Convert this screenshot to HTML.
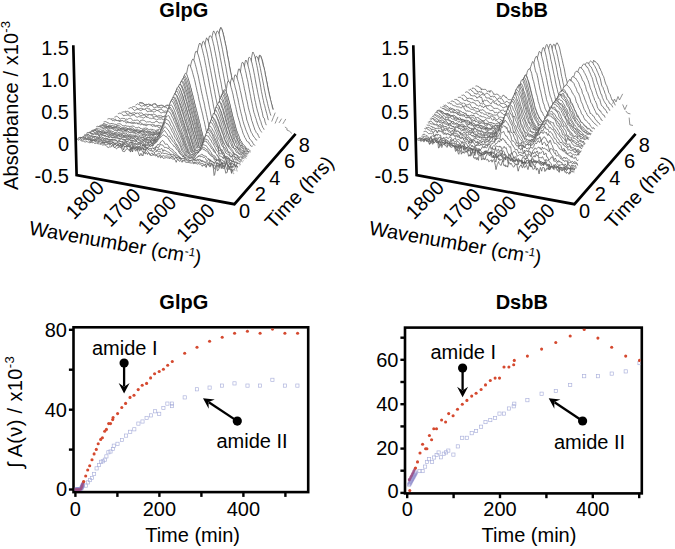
<!DOCTYPE html>
<html><head><meta charset="utf-8"><style>html,body{margin:0;padding:0;background:#fff;overflow:hidden}svg{display:block}text{font-family:"Liberation Sans",sans-serif;fill:#000}</style></head>
<body><svg width="675" height="549" viewBox="0 0 675 549">
<rect width="675" height="549" fill="#fff"/>
<g fill="#fff" stroke="#505050" stroke-width="0.72" stroke-linejoin="round"><path d="M139,102.8l.7,0 .6-.3 .7,.1 .6,0 .7,.1 .6,.3 .7,.6 .6,1.1 .7,.1 .6,.1 .7-.3 .7-.6 .6,.7 .7-.7 .6,.5 .7-.2 .6,.3 .7,.2 .6,.5 .7-.8 .6-.1 .7-.2 .7-.2 .6-.2 .7-.3 .6,1.2 .7,.1 .6,.7 .7,.8 .6-.7 .7,0 .6-.2 .7,.3 .7-.4 .6-.1 .7,.2 .6,.2 .7,.6 .6,.5 .7-.4 .6-.5 .7-.7 .6,.3 .7-.5 .6,0 .7,.9 .7-.2 .6,.3 .7,.7 .6-.4 .7-.3 .6,.4 .7,0 .6-.4 .7,.5 .6,.1 .7,.1 .7,1.3 .6,.3 .7-.9 .6-.6 .7-.3 .6-.2 .7-.7 .6,.6 .7,.4 .6-.4 .7,1.3 .7,.2 .6-.8 .7,.3 .6-.4 .7-.4 .6,.4 .7,.3 .6,.3 .7,.6 .6-.7 .7,1.3 .7,0 .6-1.2 .7-.8 .6-.7 .7,.6 .6-.6 .7,.4 .6,0 .7,.2 .6,.2 .7-.3 .7,.1 .6-.4 .7-.1 .6-.2 .7-1 .6,.7 .7-.4 .6,.5 .7-.7 .6-1.6 .7-1 .7-1.4 .6-2 .7-2.1 .6-1.6 .7-1.9 .6-2.5 .7-1.5 .6-1.8 .7-2.2 .6-3.6 .7-3.3 .7-3.4 .6-4.3 .7-4.5 .6-3.8 .7-4.5 .6-4.2 .7-5.5 .6-4.3 .7-5.1 .6-4.7 .7-3.3 .7-2.1 .6-1.4 .7,.9 .6,1.9 .7,2.2 .6,2.1 .7,2.9 .6,3.2 .7,3 .6,3.3 .7,3 .6,4.1 .7,3.9 .7,3.4 .6,3.8 .7,3.3 .6,3.2 .7,3.8 .6,3.3 .7,3.6 .6,3.3 .7,4.1 .6,3.5 .7,3.3 .7,3.4 .6,3.9 .7,3.9 .6,2.7 .7,3.8 .6,3.9 .7,3.8 .6,2.2 .7-.3 .6,.6 .7,.3 .7-.2 .6,.6 .7-.3 .6,.1 .7,.1 .6-.3 .7,.7 .6,0 .7,.2 .6,.7 .7-.5 .7,.1 .6,.2 .7-4.6 .6-5.8 .7-6.4 .6-6 .7-5.5 .6-6.2 .7-5.4 .6-5.8 .7-5.7 .7-5.7 .6-5.1 .7-4.7 .6-3.7 .7-.1 .6,.5 .7,1.8 .6,2.1 .7,2 .6,3.3 .7,2.7 .7,3.4 .6,3.1 .7,3.4 .6,3.4 .7,3.1 .6,3.3 .7,3.2 .6,3 .7,2.8 .6,3.5 .7,3 .7,2.1 .6,2 .7,2.2v40H139Z" stroke-dasharray="400.0 999"/><path d="M139,103.5l.7-.4 .6-.1 .7,.1 .6,.2 .7,0 .6,.4 .7-.3 .6,1.3 .7,.4 .6-.2 .7-.4 .7,.3 .6-.3 .7-.5 .6,.4 .7,.3 .6,.1 .7,.4 .6,.2 .7,.5 .6-1.3 .7-.4 .7-.3 .6,.2 .7,.3 .6,.2 .7,.9 .6,.8 .7,.1 .6-.4 .7-.1 .6,.1 .7-.9 .7,.4 .6-.2 .7,.5 .6,.4 .7,.3 .6,.4 .7-.3 .6-.8 .7,.2 .6-.6 .7,.2 .6,0 .7,.4 .7,.4 .6,.4 .7,.2 .6-.1 .7,.3 .6-.3 .7,.2 .6-.9 .7,1.1 .6-.6 .7,.5 .7,.6 .6,1 .7-.2 .6-.7 .7-1.3 .6,.2 .7-.1 .6-.5 .7,.1 .6,1.2 .7-.2 .7,.2 .6,.3 .7-.8 .6-.1 .7-.2 .6,.7 .7-.2 .6,.5 .7-.1 .6,.8 .7,0 .7-.2 .6-1 .7,.1 .6,.4 .7-.9 .6-.6 .7,.4 .6,.2 .7,.7 .6,.4 .7-.9 .7-.5 .6,0 .7-.2 .6-.4 .7-.4 .6,0 .7,.3 .6,.1 .7-1.1 .6-.9 .7-1.6 .7-1.9 .6-1 .7-1.8 .6-1.8 .7-1.8 .6-2.1 .7-1.6 .6-1.9 .7-3.4 .6-3.3 .7-3.2 .7-3.6 .6-3.7 .7-4.6 .6-3.9 .7-4.4 .6-4.4 .7-4.7 .6-5.3 .7-4.7 .6-4.5 .7-3.3 .7-2.4 .6-.9 .7,.7 .6,1.1 .7,2.4 .6,2.5 .7,3 .6,2.8 .7,3.2 .6,2.7 .7,3.9 .6,4 .7,3.6 .7,2.9 .6,4.4 .7,3.8 .6,3.4 .7,2.6 .6,3.5 .7,3.7 .6,3.5 .7,4.2 .6,3.1 .7,3.5 .7,3.7 .6,3.6 .7,3.7 .6,3.4 .7,3.9 .6,3.2 .7,4 .6,2 .7-.1 .6,.8 .7,0 .7,.2 .6,.1 .7,.6 .6-1.5 .7,1.2 .6,.4 .7,0 .6,.4 .7-.3 .6,.3 .7,.3 .7-.4 .6-.1 .7-4.5 .6-5.8 .7-5.9 .6-6 .7-6.2 .6-5.5 .7-5.3 .6-5.8 .7-5.9 .7-5.3 .6-6 .7-4.1 .6-3.7 .7-.3 .6,.7 .7,1.7 .6,1.8 .7,3.1 .6,2.7 .7,2.1 .7,2.8 .6,3.9 .7,3.3 .6,3.2 .7,3.5 .6,3.4 .7,3.5 .6,2.6 .7,3.2 .6,2.3 .7,2.7 .7,2.8 .6,3 .7,1.8v40H139Z" stroke-dasharray="398.7 999"/><path d="M135.5,105.1l.6-.2 .7-.6 .7-.5 .6,.5 .7,.1 .6,.2 .7,.4 .6,.9 .7,.3 .6,.1 .7-.3 .6-.6 .7,.2 .6,.5 .7-.6 .7,.2 .6,.1 .7,.8 .6,.4 .7-.5 .6-.7 .7-.4 .6,0 .7,.1 .6-.1 .7,.9 .7,.6 .6,.1 .7,1.2 .6-.7 .7-.3 .6-.1 .7-.2 .6,.3 .7,.3 .6-.1 .7-.1 .6,.1 .7,.8 .7-.4 .6-.4 .7,0 .6-.7 .7,.3 .6,.1 .7-.1 .6,.7 .7,.1 .6,.9 .7,.3 .6-.6 .7-.4 .7,.4 .6-.9 .7,.9 .6,.3 .7,.8 .6-.3 .7,.4 .6,.2 .7-1.1 .6-.8 .7,0 .7,.6 .6-.2 .7,.1 .6-.2 .7,.9 .6,.6 .7,.2 .6-.5 .7-.6 .6-.1 .7,.5 .6,.4 .7-.1 .7,.6 .6,.5 .7,.3 .6-1.1 .7-.8 .6,.1 .7-.7 .6,.3 .7,.1 .6,0 .7-.6 .7,1.4 .6-.2 .7-.7 .6-.6 .7-.6 .6,.6 .7,.1 .6,.1 .7-.2 .6-.7 .7,.2 .6-.3 .7-.4 .7-2.1 .6-1 .7-2.3 .6-1.5 .7-1.6 .6-1.7 .7-2 .6-2.6 .7-2.1 .6-2.5 .7-2.9 .6-3.7 .7-3.5 .7-3.7 .6-4.3 .7-4 .6-4.5 .7-4 .6-5.1 .7-4.9 .6-4.3 .7-5.5 .6-2.8 .7-2.4 .7-1 .6,.4 .7,1.5 .6,1.6 .7,2.7 .6,2.9 .7,3 .6,3.1 .7,3.5 .6,3.4 .7,3.3 .6,3.3 .7,3.9 .7,3.1 .6,3.6 .7,4.1 .6,3.5 .7,3.1 .6,3.9 .7,2.6 .6,3.8 .7,4 .6,3.6 .7,3.5 .6,3.5 .7,3.2 .7,3.8 .6,3.7 .7,3.8 .6,3.2 .7,2.5 .6,.6 .7-.3 .6,.8 .7,.1 .6,.1 .7,.1 .7,.2 .6-.1 .7,.2 .6,.1 .7,.3 .6-.4 .7,.9 .6,.4 .7-.7 .6,.4 .7-4.8 .6-5.9 .7-6.1 .7-5.5 .6-6.3 .7-6.5 .6-5.2 .7-5.7 .6-5.9 .7-6.2 .6-5.2 .7-5.4 .6-3.3 .7-.3 .7,.4 .6,1.3 .7,2.3 .6,2.4 .7,2.9 .6,2.8 .7,3.8 .6,2.9 .7,3.7 .6,3 .7,3.5 .6,3.5 .7,3.2 .7,3.6 .6,2.8 .7,2.5 .6,2.6 .7,3.1 .6,2.1 .7,2.7 .6,2 .7,2.1v40H135.5Z" stroke-dasharray="404.1 999"/><path d="M132,107.1l.6-.2 .7-.3 .6,.1 .7,0 .6,0 .7,.7 .7,.4 .6,.4 .7,1 .6-.3 .7-.1 .6-.4 .7,0 .6,0 .7-.1 .6,.5 .7-.2 .6,.6 .7,.7 .7-1 .6-.5 .7-.2 .6-.1 .7,.3 .6,.4 .7,.2 .6-.3 .7,1.3 .6,.7 .7-.4 .6,0 .7-.8 .7,0 .6-.1 .7,0 .6,0 .7,.9 .6,.6 .7-.1 .6-.7 .7-.2 .6-.3 .7,.2 .6-.9 .7,.5 .7,.7 .6,.2 .7,.5 .6,.6 .7-.1 .6-.3 .7,.1 .6,.1 .7-.3 .6,.3 .7,.3 .6-.1 .7,.4 .7,.2 .6-.4 .7,.2 .6-.3 .7-1.3 .6,.5 .7-.3 .6-.1 .7,.9 .6,.3 .7,.5 .6,0 .7-.2 .7-.3 .6,.2 .7,1 .6-1 .7,.5 .6,.7 .7-.2 .6,.5 .7-.5 .6-.7 .7-.6 .6-.3 .7,.3 .6-.5 .7,.7 .7-.1 .6-.1 .7,.5 .6-.3 .7-.3 .6,.6 .7-1.1 .6-1 .7,.2 .6,.2 .7-.3 .6,0 .7-.1 .7-1.1 .6-1.1 .7-1.9 .6-1.2 .7-1.6 .6-1.9 .7-2 .6-2.2 .7-2 .6-2 .7-3 .6-2.7 .7-3.8 .7-3.8 .6-3.3 .7-4.5 .6-4.2 .7-4 .6-5 .7-5 .6-5.8 .7-4.9 .6-4.4 .7-3.1 .6-3 .7-1.4 .7,1.4 .6,1.1 .7,1.7 .6,2.9 .7,2.7 .6,3 .7,3.3 .6,3.4 .7,2.7 .6,4.3 .7,3.5 .6,3.3 .7,3.8 .7,3.8 .6,3.3 .7,3.5 .6,3.5 .7,3.9 .6,3.3 .7,3.2 .6,4 .7,3.7 .6,4 .7,3.3 .6,3.7 .7,3.5 .7,3.8 .6,3 .7,3.9 .6,2.7 .7,.6 .6,0 .7,0 .6,.5 .7,0 .6,0 .7,.2 .6-.2 .7,.3 .6,.6 .7-.2 .7,.2 .6,.2 .7,0 .6,0 .7,.5 .6-3.9 .7-6.4 .6-6.7 .7-6.6 .6-6.5 .7-6.3 .6-6.5 .7-6.5 .7-5.8 .6-6.8 .7-5.8 .6-5.5 .7-3.7 .6-1.8 .7,1.4 .6,1.1 .7,2.3 .6,2.6 .7,3.1 .6,2.9 .7,3.4 .7,4 .6,3.4 .7,4 .6,3 .7,4.4 .6,3.8 .7,3 .6,3.4 .7,2.7 .6,3.3 .7,1.9 .6,2.6 .7,2.7 .7,2.3 .6,2.4 .7,3.4 .6,1.1v40H132Z" stroke-dasharray="420.9 999"/><path d="M128.5,108.4l.6-.2 .7-.1 .6-.5 .7,.2 .6,0 .7,.6 .6,.5 .7,1 .7,.6 .6,0 .7-.6 .6-.2 .7-.5 .6,0 .7,.2 .6,.4 .7,.2 .6,.3 .7,.4 .6-.5 .7-.3 .6-.9 .7,.4 .7,.2 .6-.5 .7,.5 .6,.7 .7,.4 .6,1.1 .7,.1 .6-.7 .7,0 .6,.2 .7,0 .6,.1 .7-.3 .6,0 .7,.7 .7,.5 .6-.7 .7-.1 .6-.9 .7-.4 .6,.2 .7,0 .6,.7 .7,0 .6,.6 .7,1 .6,.3 .7-.4 .6-.2 .7-.3 .7,0 .6,.6 .7-.1 .6,0 .7,.1 .6,1.3 .7-.7 .6-.4 .7-.6 .6-.5 .7,.1 .6-.2 .7,.1 .6,.2 .7,.5 .7,.4 .6,.3 .7-.2 .6,.5 .7-.5 .6,.1 .7,1.3 .6-.7 .7,.6 .6-.2 .7,.6 .6-.7 .7-.5 .7-.2 .6-.6 .7,.3 .6-.2 .7,.3 .6-.3 .7-.1 .6-.1 .7,.9 .6-.4 .7,0 .6-1.3 .7,.2 .6,.5 .7-.8 .7-.1 .6,.8 .7-.7 .6-.8 .7-1.5 .6-1.8 .7-1.2 .6-2.6 .7-1.6 .6-1.3 .7-2.2 .6-2 .7-1.2 .6-3.1 .7-3.1 .7-3.7 .6-3.9 .7-3.4 .6-4.4 .7-3.5 .6-4.4 .7-4.3 .6-4.5 .7-5.1 .6-5 .7-4.6 .6-4.2 .7-2.4 .6-.5 .7,.6 .7,1 .6,1.5 .7,2.5 .6,2.7 .7,2.6 .6,3.8 .7,3 .6,3.4 .7,3.3 .6,3.6 .7,3.9 .6,3.3 .7,3.9 .6,3.2 .7,3 .7,3.4 .6,4 .7,3.3 .6,3 .7,3.7 .6,3.5 .7,3.9 .6,3.8 .7,3.3 .6,3.1 .7,3.1 .6,3.9 .7,3.6 .6,2.6 .7,.3 .7,.7 .6,.2 .7,.3 .6-.1 .7-.1 .6,.5 .7-.3 .6,.6 .7-.5 .6,.4 .7,.3 .6,.4 .7-.5 .7,.1 .6,.7 .7-3.7 .6-6.1 .7-6.7 .6-5.7 .7-6.3 .6-5.9 .7-6.5 .6-6.2 .7-5.6 .6-6.2 .7-5.4 .6-5.7 .7-4.3 .7-.3 .6,.3 .7,1 .6,2.5 .7,1.8 .6,3.2 .7,2.7 .6,3.3 .7,3.4 .6,3.6 .7,3.9 .6,3.1 .7,3.3 .6,3.3 .7,3.4 .7,3.1 .6,2.8 .7,3.1 .6,2.9 .7,2.4 .6,2.6 .7,3.7 .6,1.2 .7,.4 .6,3.4 .7,1.8 .6,1.6v40H128.5Z" stroke-dasharray="413.5 999"/><path d="M125,111.7l.6-.5 .7,.3 .6-.1 .7-.1 .6,.5 .7-.1 .6,.8 .7,.1 .6,.8 .7,0 .6-.1 .7-.6 .7,.2 .6-.5 .7,.3 .6,.5 .7,.1 .6-.2 .7,.8 .6-.6 .7,0 .6-.5 .7,.1 .6,.2 .7-.1 .6-.2 .7,.9 .6,.8 .7,.3 .7-.4 .6-.4 .7,.3 .6-.1 .7,.5 .6-.4 .7,0 .6,.4 .7,.3 .6,0 .7-.4 .6-.2 .7,.2 .6-.1 .7-.5 .7,.4 .6,0 .7,.6 .6,.3 .7,1 .6-.2 .7-.6 .6,.4 .7-.2 .6-.3 .7,.7 .6-.4 .7,.9 .6-.1 .7,.1 .6-.7 .7,.1 .7-.1 .6-.3 .7,.5 .6-.3 .7,0 .6,.4 .7,0 .6,.7 .7,.6 .6,.1 .7-.8 .6-.5 .7,.7 .6,.2 .7,.1 .6,0 .7,.1 .7,.6 .6-.1 .7-.4 .6-.9 .7-.6 .6,.5 .7-.4 .6-.1 .7,0 .6,.2 .7,.3 .6,0 .7-.3 .6-.7 .7,.8 .7-.2 .6-.3 .7-.1 .6-.6 .7,.3 .6-.5 .7-1.2 .6-1.2 .7-1.3 .6-1.3 .7-1.9 .6-1.9 .7-2.3 .6-1.4 .7-1.5 .6-1.5 .7-2.3 .7-4 .6-3.5 .7-3.5 .6-3.4 .7-4.6 .6-3.6 .7-4.5 .6-4 .7-4.7 .6-5.7 .7-4.7 .6-4.4 .7-3.9 .6-2.6 .7-2.2 .6,1.2 .7,1.1 .7,1.8 .6,2.4 .7,2.7 .6,2.8 .7,3.3 .6,3.6 .7,3.2 .6,3.3 .7,3.5 .6,3.4 .7,3.6 .6,3.3 .7,3.8 .6,3.5 .7,2.8 .7,3.9 .6,2.9 .7,3.7 .6,3.1 .7,3.6 .6,4 .7,3.1 .6,4.1 .7,3 .6,4.1 .7,2.9 .6,3.4 .7,3.6 .6,.2 .7,.2 .6,0 .7,.3 .7,.6 .6,.1 .7-.9 .6,.7 .7,.1 .6-.4 .7,.6 .6,.3 .7-.2 .6,.1 .7,.8 .6-.1 .7-2.9 .6-6.1 .7-6.3 .7-5.9 .6-6.6 .7-5.9 .6-6.2 .7-5.3 .6-6.1 .7-6.5 .6-5.5 .7-5.6 .6-4.1 .7-1.9 .6,.8 .7,1.7 .6,1.7 .7,2.9 .6,2.2 .7,3.2 .7,3.1 .6,3.4 .7,3.3 .6,3.3 .7,3.7 .6,3.3 .7,3.6 .6,3.8 .7,2.6 .6,3.3 .7,2.8 .6,2.4 .7,1.9 .6,2.9 .7,1.7 .6,2.5 .7,1.3 .7,2.7 .6,1.5 .7,1.9 .6,.6 .7,1.6v40H125Z" stroke-dasharray="413.4 999"/><path d="M121.5,112.2l.6,.1 .7-.3 .6-.2 .7,.2 .6-.2 .7,.1 .6,.9 .7,1 .7,.3 .6,.1 .7-.1 .6-.3 .7-.2 .6-.1 .7,.2 .6,.2 .7,.4 .7,.1 .6,.1 .7-.1 .6-.6 .7-.5 .6,.2 .7-.4 .6,0 .7,.5 .7,1 .6,.5 .7,.7 .6-.2 .7-.2 .6-.2 .7-.2 .7,.1 .6,0 .7,.5 .6,.1 .7,.7 .6,.1 .7-.8 .6-.8 .7-.2 .7-.2 .6,.2 .7,.5 .6,.1 .7,.3 .6,.3 .7,1.6 .6-.6 .7,0 .7-.4 .6,0 .7,.2 .6,.3 .7,.1 .6,.1 .7,.1 .6,.5 .7-.6 .7,.2 .6-.8 .7,.6 .6-.4 .7-.5 .6,.3 .7,.5 .6,.7 .7,.4 .7-.2 .6-.7 .7,.2 .6-.6 .7,1.1 .6-.5 .7,.2 .6,.5 .7,.3 .7,.5 .6-.3 .7,0 .6-.7 .7,0 .6-.6 .7-.7 .7,.2 .6,.6 .7,.6 .6,.1 .7-.5 .6-.2 .7,.4 .6-.8 .7-.5 .7,.3 .6-1.3 .7,.3 .6,.7 .7-.7 .6-1.3 .7-1.1 .6-1.6 .7-2 .7-1.2 .6-2.1 .7-1.6 .6-1.9 .7-1.2 .6-1.3 .7-4.1 .6-2.9 .7-3.9 .7-3.5 .6-3.6 .7-4.4 .6-3.9 .7-3.9 .6-5.1 .7-4.1 .6-5.4 .7-5.2 .7-3.7 .6-2.8 .7-2.5 .6-.4 .7,.7 .6,2 .7,2 .7,2.8 .6,2.3 .7,3.2 .6,3.1 .7,3.3 .6,3.5 .7,3.4 .6,3 .7,3.6 .7,3.8 .6,3.3 .7,3 .6,3.7 .7,3.3 .6,3.5 .7,3.6 .6,2.6 .7,3.7 .7,3.9 .6,3.4 .7,3.4 .6,3.6 .7,3.1 .6,3.5 .7,3.6 .6,3.3 .7,.9 .7-.2 .6,.1 .7,1 .6,.1 .7-.2 .6-.1 .7,.5 .6-.1 .7,.6 .7-.2 .6-.2 .7,.5 .6,.3 .7,0 .6,.5 .7-1.1 .7-6.6 .6-6.3 .7-6.1 .6-5.9 .7-5.9 .6-5.7 .7-6.6 .6-5.4 .7-6.1 .7-5.5 .6-5.9 .7-4.4 .6-1.9 .7-.1 .6,.6 .7,2.7 .6,1.9 .7,3 .7,2.7 .6,3.7 .7,2.5 .6,2.8 .7,4.5 .6,2.9 .7,3.7 .6,3.1 .7,3.7 .7,3.1 .6,3.2 .7,3.3 .6,2.7 .7,1.9 .6,2.2 .7,1.8 .6,2.2 .7,2.4 .7,1.8 .6,1.7 .7,1.5 .6,1.2 .7,1.5 .6,.7 .7,1.1v40H121.5Z" stroke-dasharray="410.1 999"/><path d="M117.9,113.7l.7-.1 .7-.4 .6,0 .7,.1 .6,.1 .7,.7 .6,.7 .7,.3 .6,1 .7-.8 .7,.1 .6-.1 .7,0 .6-.4 .7,.3 .6,.1 .7,.2 .6,.4 .7,.2 .7-.2 .6-.6 .7,0 .6-.1 .7-.4 .6,.3 .7,.5 .6,.5 .7,.9 .7,.4 .6-.2 .7-.2 .6-.7 .7,.7 .6,.1 .7-.2 .6,.2 .7,.5 .7,.1 .6,.3 .7-.4 .6-.2 .7-.9 .6,.9 .7-.6 .6,.5 .7,.4 .6-.2 .7,.7 .7,.5 .6-.5 .7,.6 .6-.6 .7,0 .6,.1 .7,.7 .6-.2 .7,.3 .7,.4 .6,.5 .7-.4 .6-.3 .7-.4 .6,0 .7,.1 .6,.2 .7-.5 .7,.3 .6-.1 .7,1.2 .6-.5 .7-.4 .6,.4 .7-.1 .6-.6 .7,.6 .7,.7 .6-.6 .7,1.2 .6,.4 .7,.5 .6-.5 .7-.5 .6-1.2 .7-.5 .7,0 .6,.1 .7,.4 .6-.2 .7,.9 .6-.5 .7-.1 .6-.8 .7-.5 .7,.4 .6-.5 .7,.4 .6,1.3 .7-.8 .6-.7 .7-1.5 .6-1.4 .7-1.6 .7-1.4 .6-1.3 .7-1.6 .6-2.2 .7-1.7 .6-2 .7-2 .6-3.5 .7-2.6 .7-2.8 .6-4.2 .7-4.1 .6-4 .7-4.3 .6-4.2 .7-4.4 .6-4.9 .7-4.7 .7-5.2 .6-3.8 .7-3 .6-2.1 .7-.9 .6,1 .7,1 .6,2.7 .7,2.5 .7,3 .6,2.3 .7,3.1 .6,3.5 .7,3.4 .6,3.1 .7,3.7 .6,2.9 .7,3.7 .7,3.7 .6,3.3 .7,3.4 .6,3.7 .7,3 .6,3.4 .7,3.7 .6,3.7 .7,2.9 .7,3.6 .6,3.9 .7,3.2 .6,3.4 .7,3 .6,3.7 .7,3.6 .6,1.6 .7-.5 .6,.5 .7,.3 .7,0 .6,.4 .7,.1 .6,.4 .7-.6 .6-.2 .7,.4 .6,.4 .7,.2 .7,.3 .6-.3 .7,.3 .6-.2 .7-5.4 .6-6.3 .7-5.7 .6-5.5 .7-5.5 .7-5.9 .6-5.3 .7-5.3 .6-5.5 .7-5.8 .6-5.5 .7-3.4 .6-2.9 .7-.4 .7,1.4 .6,1.8 .7,1.9 .6,2.6 .7,2.9 .6,3 .7,3 .6,3.4 .7,2.9 .7,3.4 .6,3.7 .7,2.4 .6,3.1 .7,3.5 .6,2.3 .7,2.4 .6,2.3 .7,2.3 .7,3.4 .6,1.4 .7,2.2 .6,2 .7,1.8 .6,2.2 .7,.7 .6,1.7 .7,.9 .7,.3 .6,1.6 .7,1.4 .6,1.3v40H117.9Z" stroke-dasharray="407.7 999"/><path d="M114.4,117.2l.7-.7 .6,.3 .7-.5 .7,0 .6,.5 .7,.7 .6,.2 .7,1.1 .6,.3 .7-.4 .6-.3 .7,0 .7-.2 .6,.3 .7,.1 .6-.1 .7,1 .6-.3 .7-.1 .6,.3 .7-.5 .6-.4 .7-.1 .7-.1 .6,.2 .7,.4 .6,.5 .7,1.1 .6,.6 .7-.8 .6-.1 .7,.2 .7-.2 .6-.1 .7-.1 .6,.5 .7,.2 .6,.6 .7,.5 .6-1.3 .7,.1 .6-.8 .7,.4 .7,.1 .6,0 .7,.4 .6,.5 .7,.5 .6,.4 .7-.1 .6-.3 .7,.2 .7-.2 .6,0 .7,.1 .6,.5 .7,.3 .6,.1 .7,.3 .6-.6 .7,.2 .7-.9 .6-.1 .7-.1 .6-.4 .7,.6 .6,.9 .7,.1 .6,.3 .7-.3 .6,.3 .7-.1 .7,.1 .6,.3 .7,.3 .6-.1 .7,.4 .6,.2 .7,1 .6-.6 .7-.8 .7-.4 .6,.2 .7,.3 .6-.6 .7,.1 .6,.3 .7-.1 .6,.1 .7-.4 .6,.5 .7,.3 .7-1 .6-.8 .7-.6 .6,.2 .7,0 .6,.7 .7-.5 .6-.5 .7-2.1 .7-1.2 .6-1.1 .7-1.6 .6-2.1 .7-1.6 .6-2.5 .7-.7 .6-1.8 .7-3.2 .7-3.8 .6-3.1 .7-3 .6-3.5 .7-3.5 .6-3.6 .7-4.1 .6-4.9 .7-4.1 .6-4.6 .7-4.7 .7-3.5 .6-3.5 .7-2.2 .6-.2 .7,.5 .6,1.5 .7,1.8 .6,2.2 .7,2.8 .7,3 .6,2.6 .7,2.8 .6,3.5 .7,3.1 .6,3.1 .7,3.6 .6,3.3 .7,2.8 .6,3.3 .7,3.3 .7,3.2 .6,2.8 .7,3.7 .6,3.1 .7,2.9 .6,3.8 .7,2.8 .6,3.6 .7,3.5 .7,2.4 .6,3.4 .7,3.5 .6,3.3 .7,1.7 .6-.5 .7,.7 .6,.2 .7,.4 .7-.3 .6,.3 .7,.3 .6,0 .7-.3 .6,.1 .7,.2 .6,.1 .7,.5 .6-.2 .7,.3 .7,.4 .6-5.6 .7-4.7 .6-6.3 .7-5.1 .6-6 .7-5 .6-5.3 .7-5.4 .7-5.2 .6-5 .7-5 .6-4.7 .7-2.4 .6,.4 .7,.9 .6,1.5 .7,2.2 .6,1.9 .7,2.6 .7,3 .6,3.1 .7,2.7 .6,3 .7,3.3 .6,2.8 .7,3.2 .6,2.6 .7,3.8 .7,2 .6,2.4 .7,3.9 .6,1.3 .7,2 .6,1.8 .7,2.2 .6,1.4 .7,2.3 .7,1.6 .6,.8 .7,1.5 .6,1.1 .7,1 .6,.6 .7,.9 .6,1.3 .7,.2 .6,.1v40H114.4Z" stroke-dasharray="389.8 999"/><path d="M110.9,118.7l.7,.2 .6,.2 .7-.6 .6,.3 .7,.4 .7,.4 .6-.5 .7,1 .6,1.1 .7-.3 .6-.4 .7-.2 .6,.2 .7,0 .6,.1 .7,.3 .7,.3 .6-.1 .7,.3 .6-.1 .7,0 .6-.5 .7-.3 .6,.6 .7,.2 .6,.5 .7,.3 .7,.3 .6,.4 .7-.4 .6-.4 .7,.3 .6,.2 .7-.1 .6,.2 .7,0 .7,.4 .6,.3 .7,1.1 .6-1 .7-.3 .6,.2 .7-.3 .6-.3 .7-.1 .6,.5 .7,.2 .7,.8 .6,.4 .7-.1 .6,0 .7-.5 .6,.4 .7-.1 .6,.4 .7,.2 .6,.1 .7,.2 .7,.7 .6-.7 .7-.4 .6,.1 .7,0 .6-.3 .7,.2 .6,.1 .7,.3 .6,1.2 .7-.2 .7-.7 .6,.4 .7-.9 .6,.9 .7-.3 .6,.2 .7,.2 .6,.4 .7,.5 .7,1.1 .6-1 .7-.1 .6-1.1 .7,.3 .6-.7 .7,.2 .6-.1 .7,0 .6-.4 .7,1.1 .7-.2 .6-.1 .7,.1 .6-.3 .7-.5 .6,0 .7,.2 .6-.6 .7,.3 .6-.4 .7-.8 .7-.6 .6-1.7 .7-2.5 .6-.5 .7-1.3 .6-1.5 .7-1.3 .6-1.8 .7-2.3 .6-2.5 .7-2.4 .7-2.9 .6-3 .7-3.5 .6-3.5 .7-3.7 .6-4 .7-4.1 .6-4.2 .7-4.2 .7-4.1 .6-3.5 .7-2.8 .6-1.8 .7-1 .6,.4 .7,1.3 .6,1.4 .7,2.5 .6,2.2 .7,2.8 .7,3.1 .6,2 .7,3.3 .6,3.2 .7,2.9 .6,3.1 .7,3.5 .6,2.8 .7,2.9 .6,3.1 .7,2.3 .7,3.4 .6,3.4 .7,2.8 .6,3 .7,3 .6,3.1 .7,3.1 .6,3.2 .7,2.5 .6,3.4 .7,3.2 .7,2.4 .6,1.9 .7,.2 .6,.3 .7,.5 .6,0 .7,.1 .6,.2 .7,.4 .7,.1 .6-.2 .7,0 .6,.2 .7,.5 .6-.3 .7,.2 .6,.2 .7,.3 .6-4.8 .7-5.8 .7-6 .6-4.4 .7-5.8 .6-5.2 .7-4.7 .6-5.5 .7-5.4 .6-5.1 .7-5 .6-4.3 .7-2.1 .7-.8 .6,1.5 .7,1.3 .6,1.7 .7,2.6 .6,2.8 .7,2.1 .6,2.9 .7,3.4 .7,2.6 .6,3.4 .7,3 .6,2.9 .7,3 .6,2.3 .7,2.8 .6,2.9 .7,2.4 .6,2.2 .7,1.9 .7,2 .6,1.9 .7,1.7 .6,1.4 .7,1.5 .6,1.6 .7,1.5 .6,1.6 .7,.5 .6,1.1 .7,.4 .7,1.1 .6,1.2 .7,1.3 .6,.1 .7,.9v40H110.9Z" stroke-dasharray="380.1 999"/><path d="M107.4,119.2l.7-.5 .6,0 .7-.1 .6,.2 .7,.3 .6,.3 .7,.6 .7,.8 .6-.4 .7,.1 .6,.4 .7-.6 .6,.2 .7,0 .6,0 .7,.3 .6,.1 .7,.2 .6,.8 .7-.7 .7-.4 .6,0 .7-.2 .6,.6 .7,.1 .6-.2 .7,.6 .6,.4 .7,1.2 .6-.9 .7,0 .7,.2 .6,.2 .7-.2 .6,.2 .7,.4 .6,.1 .7,0 .6,.6 .7-.4 .6-.2 .7-.2 .7,.2 .6-.3 .7-.1 .6,1 .7-.2 .6,.4 .7-.2 .6,.5 .7,.5 .6-.4 .7-.2 .7,.1 .6,.5 .7-.2 .6,.4 .7,0 .6,.8 .7-.2 .6-.7 .7-.3 .6-.1 .7-.1 .7,.6 .6-.2 .7,.7 .6,.2 .7,.7 .6-.6 .7-.1 .6,.3 .7,.5 .6-.4 .7,0 .7,.3 .6,.3 .7,.5 .6,.7 .7-.2 .6-1.3 .7-.6 .6,.4 .7-.1 .6-.7 .7,.3 .7,0 .6,.7 .7,1.2 .6-.9 .7-.3 .6-.3 .7-.3 .6,.4 .7,0 .6,1.1 .7-.9 .7-.4 .6,.3 .7-.9 .6-1.7 .7-1.2 .6-.6 .7-1.6 .6-1.8 .7-1.8 .6-1.3 .7-1.3 .6-.9 .7-2.5 .7-3.3 .6-2.7 .7-2.7 .6-2.9 .7-2.9 .6-3.7 .7-3.5 .6-4.2 .7-3.9 .6-4 .7-3.6 .7-3.5 .6-2.7 .7-2.3 .6-.4 .7,.8 .6,1 .7,2 .6,1.5 .7,2.5 .6,2.2 .7,2.6 .7,2.4 .6,2.5 .7,3.4 .6,2.5 .7,3.4 .6,2.1 .7,3.1 .6,3.6 .7,2.3 .6,2.8 .7,2.8 .7,2.7 .6,2.4 .7,3 .6,3.4 .7,2 .6,3.2 .7,2.9 .6,3 .7,2.7 .6,2.5 .7,3.4 .7,2 .6-.1 .7,.1 .6-.1 .7,.7 .6-.2 .7,0 .6,.3 .7,.1 .6,0 .7,.4 .7-.1 .6,.2 .7,0 .6,.7 .7,0 .6-.4 .7-3.9 .6-5.2 .7-5 .6-5.3 .7-5.3 .7-4.8 .6-4.9 .7-5.6 .6-4.1 .7-5.9 .6-4.3 .7-4.7 .6-2.5 .7-.4 .6,1.2 .7,.6 .7,2.3 .6,2.5 .7,2.3 .6,2.4 .7,2.7 .6,3.5 .7,2.8 .6,3.1 .7,2.3 .6,3.1 .7,3.1 .6,2.9 .7,2.1 .7,2.5 .6,1.7 .7,2.9 .6,2 .7,1.6 .6,1.8 .7,2.6 .6,1.5 .7,1.3 .6,1.9 .7,.6 .7,1.7 .6,1.1 .7,.8 .6,.3 .7,.1 .6,1.7 .7,.6 .6,1.4 .7,.4 .6-.4 .7,.2v40H107.4Z" stroke-dasharray="369.8 999"/><path d="M103.9,124.4l.7,.6 .6-.5 .7-.6 .6,.4 .7,.7 .6,.4 .7-.3 .6,.7 .7,.1 .6-.7 .7,1 .7-.4 .6-.5 .7,.6 .6-.1 .7,.5 .6-.1 .7,.2 .6,.5 .7-.3 .6-.1 .7,0 .7,0 .6-.3 .7,.5 .6-.3 .7,1 .6,0 .7,.8 .6-.2 .7,.2 .6,.1 .7-.3 .6,0 .7,.5 .7,.1 .6,0 .7,.6 .6,0 .7,.1 .6-1.1 .7,.4 .6-.4 .7-.1 .6,0 .7,.6 .6,1 .7,.1 .7-.3 .6,.1 .7,.2 .6-.3 .7,.3 .6-.2 .7,.3 .6,.6 .7-.4 .6,.9 .7,.4 .7-.7 .6,.5 .7-.9 .6,.4 .7-.6 .6-.1 .7,.3 .6,.3 .7,.6 .6,.5 .7-.6 .6,.4 .7,.8 .7-.8 .6-.2 .7,.1 .6,.2 .7,.5 .6-.1 .7,1.1 .6,0 .7-.5 .6-.8 .7,.2 .7-.3 .6,.1 .7-.5 .6-.1 .7,.4 .6,.6 .7,0 .6,0 .7-.3 .6,.4 .7,.9 .6-1.1 .7-.6 .7-.4 .6,.1 .7,.1 .6-1.1 .7-.9 .6-1.4 .7-.7 .6-1.1 .7-1.9 .6-.4 .7-1.9 .7-1 .6-1.3 .7-1.6 .6-3.1 .7-2.6 .6-2.6 .7-2.4 .6-3.6 .7-3.2 .6-2.9 .7-3.5 .6-3.6 .7-4.3 .7-3.1 .6-2.9 .7-3 .6-1.7 .7-.9 .6,.1 .7,1.4 .6,2 .7,1.7 .6,2.1 .7,2.1 .6,2.7 .7,1.6 .7,3 .6,2.6 .7,2.4 .6,3.1 .7,1.8 .6,2.9 .7,2.6 .6,3.1 .7,2.4 .6,2.5 .7,2.7 .7,2.5 .6,2.6 .7,2.6 .6,3.1 .7,2.2 .6,2.2 .7,2.9 .6,3.1 .7,2.5 .6,2.4 .7,1.8 .6,.7 .7-.3 .7-.1 .6,.9 .7,.2 .6-.6 .7,.6 .6-.2 .7,.2 .6-.3 .7,.7 .6-.2 .7,.6 .7,.3 .6-.2 .7,.1 .6-3.3 .7-4.8 .6-5.1 .7-5 .6-4.4 .7-4.5 .6-4.5 .7-4.9 .6-4.9 .7-4.6 .7-4.2 .6-3.8 .7-3.3 .6-.3 .7,1.1 .6,1.2 .7,1.6 .6,1.7 .7,2.3 .6,2.4 .7,3.1 .7,2.2 .6,2.7 .7,2.8 .6,2.6 .7,2.8 .6,2.3 .7,2.5 .6,2.5 .7,1.9 .6,2.9 .7,2 .6,2 .7,1.9 .7,1.8 .6,2.3 .7,.8 .6,1.1 .7,1.7 .6,1.3 .7,1 .6,1.7 .7,.4 .6,.5 .7-.1 .6,1.5 .7,.4 .7,.4 .6,.4 .7,.1 .6,.5 .7,.5 .6,1.5v40H103.9Z" stroke-dasharray="354.1 999"/><path d="M103.7,121.8l.6,0 .7-.2 .6,0 .7,.3 .6,.1 .7,1 .7-.4 .6,1.1 .7,.2 .6-.1 .7,.2 .6-.9 .7,.9 .6-.5 .7,.3 .6,.3 .7,.2 .7-.1 .6,.8 .7-.6 .6-.4 .7-.2 .6,0 .7-.1 .6,0 .7,.4 .6,.3 .7,1 .7,.3 .6,.1 .7-.2 .6,.2 .7-.5 .6,.8 .7-.1 .6,.1 .7,.2 .6-.3 .7,.9 .7-.4 .6,0 .7-.6 .6,.7 .7-.8 .6,.2 .7,.4 .6,.2 .7,.8 .6,.5 .7-.2 .7,.2 .6-.4 .7-.4 .6,.4 .7,0 .6,1 .7-.3 .6,.6 .7,.4 .6-.4 .7-.7 .6,.1 .7,.2 .7-.4 .6,.3 .7-.3 .6,.8 .7,.4 .6,.5 .7-.1 .6-.4 .7,.2 .6,0 .7-.4 .7,.9 .6,0 .7,.1 .6,.1 .7,.4 .6-.2 .7-.1 .6,.2 .7-1.2 .6,.5 .7-.3 .7-.7 .6,.9 .7,.4 .6,.5 .7-.4 .6-.5 .7,.6 .6-.2 .7-.5 .6-.1 .7-.4 .7,.5 .6-.3 .7,.3 .6-1.1 .7-.5 .6-1.3 .7-1.8 .6-.4 .7-1 .6-2 .7-1.6 .7-.9 .6-1.3 .7-2.3 .6-2.4 .7-2.5 .6-2.9 .7-2.5 .6-3 .7-3.3 .6-3.5 .7-3 .7-3.7 .6-3.7 .7-3.2 .6-3.2 .7-2.7 .6-1.5 .7-1 .6,.4 .7,.9 .6,1.8 .7,1.9 .7,2.4 .6,2 .7,2.5 .6,2.5 .7,2.4 .6,2.8 .7,2.2 .6,2.5 .7,2.7 .6,3.2 .7,2.3 .7,2.7 .6,2.3 .7,2.6 .6,2.3 .7,3 .6,2.8 .7,1.9 .6,2.9 .7,3 .6,2.6 .7,3 .7,2.3 .6,2.7 .7,2.6 .6,2.1 .7-.7 .6,.7 .7-.3 .6,.4 .7,.2 .6-.2 .7,0 .7,.2 .6,.9 .7-.1 .6-.1 .7,.5 .6-.2 .7,.1 .6-.1 .7,.3 .6-3.9 .7-4.7 .7-4.3 .6-5.2 .7-4.3 .6-4.8 .7-4.8 .6-4.2 .7-4.4 .6-5.1 .7-3.9 .6-4.2 .7-2.5 .7,.1 .6,.2 .7,.8 .6,2.5 .7,1.6 .6,2.5 .7,2.6 .6,1.8 .7,2.6 .6,3.2 .7,2.7 .7,2.9 .6,2.8 .7,2 .6,3 .7,2.1 .6,3.1 .7,2 .6,2.3 .7,1.6 .6,1.4 .7,1.5 .7,1.7 .6,2.1 .7,1.6 .6,.5 .7,1 .6,2 .7,.1 .6,.8 .7,.8 .6,.4 .7,1.2 .6,.8 .7,1.1 .7-.1 .6,0 .7,.6 .6,.6 .7,.2v40H103.7Z" stroke-dasharray="351.0 999"/><path d="M102.9,124.2l.6-.8 .7,.6 .6-.5 .7,.7 .6,.3 .7,.2 .6,0 .7,.7 .7,.6 .6-.6 .7,.5 .6-.1 .7-.1 .6-.6 .7,.4 .6,.4 .7-.2 .7,.4 .6,.3 .7-.7 .6,.3 .7-.1 .6-.8 .7,.9 .6-.4 .7,.5 .7,.7 .6,.1 .7,.8 .6,0 .7-.3 .6,.2 .7-.4 .6,.2 .7,.3 .7,0 .6,1.2 .7-.5 .6,.7 .7-.8 .6-.4 .7,.3 .7,.1 .6-.4 .7-.1 .6,.3 .7,.6 .6,.4 .7,1 .6-.2 .7-.3 .7,.1 .6-.4 .7,.5 .6,.2 .7,.1 .6,.4 .7,.2 .6,.2 .7-1 .7,0 .6-.3 .7-.6 .6,.5 .7,.1 .6,.4 .7-.6 .6,.9 .7,.5 .7,.5 .6-.1 .7,.2 .6-.1 .7-.5 .6,.2 .7,.2 .6,.2 .7,.7 .7,.1 .6-.3 .7-.5 .6,.3 .7-.9 .6-.3 .7,.3 .6,.7 .7,.9 .7,0 .6,0 .7-.7 .6,.2 .7-.3 .6-.3 .7,0 .7-.8 .6,.2 .7,.1 .6,0 .7-.2 .6-.8 .7-.9 .6-.9 .7-1.6 .7-.9 .6-1.1 .7-1 .6-1.6 .7-1.4 .6-1.8 .7-2.3 .6-2 .7-2.6 .7-2.6 .6-3 .7-3.1 .6-3.1 .7-2.9 .6-3.2 .7-3.4 .6-3.9 .7-3.3 .7-3.5 .6-2 .7-1.7 .6-.5 .7,1 .6,1.3 .7,1.1 .6,1.7 .7,2.4 .7,2 .6,3 .7,2.3 .6,2.5 .7,2.2 .6,2.7 .7,2.8 .6,2.4 .7,2.7 .7,2.5 .6,2.4 .7,3.1 .6,2.3 .7,2.3 .6,2.6 .7,3 .7,2.5 .6,2.4 .7,2.6 .6,2.7 .7,2.8 .6,1.8 .7,3.3 .6,2.5 .7,.6 .7,.2 .6,0 .7,.7 .6,.1 .7-.4 .6,.3 .7,.2 .6-.1 .7,.5 .7-.1 .6-.3 .7,.6 .6,0 .7,.5 .6-.1 .7-.7 .6-4.8 .7-4.7 .7-4.6 .6-4.7 .7-4.5 .6-4.5 .7-4.3 .6-5 .7-3.9 .6-4.5 .7-4.1 .7-3.7 .6-2 .7,.2 .6,1.4 .7,1.1 .6,1.4 .7,2.4 .6,2.8 .7,2.4 .7,2.8 .6,1.7 .7,3.2 .6,2.2 .7,3.4 .6,1.9 .7,2.7 .7,2.5 .6,2.7 .7,2.4 .6,1.8 .7,1.9 .6,1.6 .7,1.6 .6,2.5 .7,1 .7,1.2 .6,1.9 .7,1 .6,.7 .7,1 .6,1.2 .7,1 .6,.2 .7,.2 .7,.2 .6,1.8 .7,.6 .6,.6 .7,.8 .6,.6 .7-.4 .6,.2v40H102.9Z" stroke-dasharray="346.6 999"/><path d="M102,125.1l.7,.1 .6-.1 .7-.3 .7,.4 .6-.3 .7,.2 .6,.8 .7,.6 .6,.4 .7-.1 .6,.2 .7-.9 .6,.1 .7,.4 .6,.4 .7,.3 .7-.4 .6,.6 .7,.2 .6-.5 .7,0 .6-.5 .7,.5 .6-.1 .7,.3 .6-.1 .7,.5 .6,1.1 .7-.1 .7,.2 .6-.1 .7,.3 .6-.8 .7,.6 .6-.4 .7,.4 .6,.1 .7,.6 .6-.4 .7-.1 .7,.3 .6-.1 .7-.4 .6,.4 .7-.5 .6,.7 .7-.1 .6,.1 .7,1.4 .6-.1 .7-.1 .6-.3 .7-.1 .7,.4 .6,0 .7,.3 .6-.1 .7,.5 .6,.1 .7-.1 .6-.4 .7-.3 .6,0 .7-.4 .7,.1 .6,.6 .7,.1 .6,.5 .7,.5 .6,0 .7-.3 .6,.3 .7-.5 .6,.5 .7,.3 .6,.2 .7,.6 .7-1 .6,.8 .7-.5 .6,.5 .7-.5 .6-.5 .7,.1 .6,.8 .7-.6 .6-.3 .7,1.6 .7-.1 .6-1.1 .7-.2 .6-.2 .7-.3 .6-.3 .7,.4 .6,.6 .7,.7 .6-.1 .7-1 .6-.7 .7-.5 .7-1.8 .6-1.3 .7-.9 .6-.9 .7-1.4 .6-.8 .7-1.9 .6-1.5 .7-1.8 .6-2.8 .7-2 .7-2.9 .6-2.3 .7-3.1 .6-2.5 .7-3.7 .6-3.3 .7-3.4 .6-4 .7-3.5 .6-3.2 .7-2.1 .6-1.4 .7-1 .7,0 .6,1 .7,1.8 .6,2.1 .7,2.1 .6,2.3 .7,1.6 .6,1.9 .7,3.1 .6,1.9 .7,3.2 .7,2.1 .6,2.7 .7,2.2 .6,3.1 .7,2.6 .6,2.5 .7,2 .6,2.9 .7,2.6 .6,2.7 .7,2.7 .6,2 .7,2.7 .7,2.2 .6,2.7 .7,2.7 .6,2.5 .7,2.2 .6,1.7 .7,.4 .6,.1 .7,.6 .6,.1 .7,.1 .7-.7 .6,1 .7,0 .6,0 .7,.5 .6,.1 .7-.1 .6,.3 .7-.4 .6,.4 .7-.4 .6-2.5 .7-4.9 .7-4.8 .6-4.8 .7-3.8 .6-5 .7-3.9 .6-5 .7-4.5 .6-4.5 .7-3.7 .6-4.1 .7-2.4 .6,.1 .7-.5 .7,1.2 .6,2.1 .7,2.1 .6,1.8 .7,2.1 .6,2.1 .7,3.9 .6,2.1 .7,2.5 .6,2.8 .7,2.3 .7,2.8 .6,2 .7,2.8 .6,1.8 .7,2.4 .6,1.7 .7,2 .6,2.2 .7,1.8 .6,1.7 .7,2.1 .6,.2 .7,1.9 .7,2.1 .6,.7 .7-1.1 .6,1.1 .7,1.3 .6,.9 .7,.3 .6,.4 .7,0 .6,.8 .7,.6 .7,.2 .6,1.5 .7-.5 .6,.7v40H102Z" stroke-dasharray="346.1 999"/><path d="M101.2,125.6l.7-.6 .6,0 .7,.2 .6-.3 .7,.2 .6,.8 .7,.1 .7,.7 .6,.2 .7,0 .6-.6 .7,.4 .6,.4 .7-.4 .6,.1 .7,.4 .7,.5 .6-.3 .7,.3 .6-.4 .7-.7 .6,.9 .7-.4 .6-.1 .7,.1 .7,.2 .6-.1 .7,.7 .6,.9 .7,.2 .6-.5 .7-.2 .6,.3 .7,0 .7,.1 .6,0 .7,.6 .6,.1 .7,.3 .6-.4 .7,0 .6-.1 .7,.1 .7-.3 .6,.2 .7,.3 .6,0 .7,.8 .6,.2 .7-.2 .6,.5 .7,0 .7,.1 .6-.2 .7,.1 .6,.4 .7-.2 .6,.7 .7,.2 .6-.8 .7,.5 .7-.7 .6-.1 .7,.7 .6-.2 .7-.2 .6,.2 .7,.7 .6-.2 .7,.1 .7-.7 .6,.5 .7,.8 .6-.8 .7,.5 .6,.6 .7,0 .6,.3 .7-.2 .6-.4 .7,.9 .7-.7 .6-.6 .7,.3 .6,.4 .7-.6 .6,.3 .7,.5 .6,0 .7,0 .7,.6 .6-.6 .7-.6 .6,0 .7,.3 .6-.6 .7-.1 .6,.4 .7-.1 .7-1.3 .6-.8 .7-.9 .6-.7 .7-1.9 .6-.4 .7-1.4 .6-1.3 .7-2.1 .7-1.2 .6-2.2 .7-2.3 .6-2.2 .7-2.7 .6-2.9 .7-2.8 .6-2.6 .7-3.2 .7-3.1 .6-3.8 .7-3.7 .6-3.4 .7-2.9 .6-2.1 .7-1.5 .6-.4 .7,.4 .7,1.1 .6,2 .7,1.9 .6,1.8 .7,1.6 .6,2.7 .7,2.2 .6,2.4 .7,2.3 .7,2.7 .6,2.5 .7,2.2 .6,3.1 .7,2 .6,3 .7,1.9 .6,2.7 .7,2.3 .7,2.6 .6,2.8 .7,2.7 .6,2.3 .7,2.8 .6,2 .7,2.7 .6,2.5 .7,2.1 .7,2.9 .6,.8 .7,.5 .6,0 .7,.4 .6,.1 .7-.4 .6,.7 .7,.2 .6-.1 .7,.4 .7-.1 .6,.2 .7-.1 .6,.1 .7,0 .6-.1 .7,.3 .6-4.5 .7-4.4 .7-4.9 .6-4.7 .7-3.8 .6-4.3 .7-4.6 .6-4.5 .7-4.1 .6-4.5 .7-4.3 .7-2.6 .6-2 .7,.2 .6,.2 .7,1.8 .6,1.2 .7,2.4 .6,2.2 .7,2.4 .7,2.4 .6,2.9 .7,2.3 .6,2.5 .7,3 .6,2.2 .7,2.5 .6,1.7 .7,2.8 .7,2 .6,2.1 .7,2.2 .6,1.7 .7,1.5 .6,1.4 .7,1.4 .6,1.6 .7,.7 .7,1.4 .6,1.2 .7,1.1 .6,1.5 .7,1.1 .6,.2 .7,.1 .6,1.3 .7,1.8 .7-.2 .6-.5 .7,1.4 .6-.2 .7-.3 .6,.9 .7,.5v40H101.2Z" stroke-dasharray="339.0 999"/><path d="M100.4,126l.7-.7 .6,.2 .7-.1 .6-.2 .7,.8 .6,.4 .7,.1 .6,.5 .7,.1 .6,.1 .7,.1 .6-.3 .7-.1 .6,.6 .7-.6 .7,.6 .6-.2 .7,.8 .6,.1 .7-.3 .6-.5 .7,0 .6,.4 .7-.1 .6,.1 .7,.3 .6,.4 .7,.3 .7,.5 .6,.2 .7-.4 .6,.3 .7-.4 .6,.7 .7-.6 .6,.7 .7-.1 .6,.3 .7,.5 .6-.3 .7-.7 .7,.1 .6,.2 .7-.2 .6,.1 .7,.2 .6,.4 .7,.7 .6,.4 .7,.1 .6-.3 .7-.1 .6-.1 .7,.1 .7,.2 .6,.6 .7,.4 .6,.1 .7-.2 .6,.1 .7-.1 .6-.4 .7,0 .6,0 .7,.2 .6-.1 .7,.1 .7,.6 .6,.9 .7-.6 .6-.5 .7,.8 .6-.8 .7,.6 .6,.1 .7,0 .6,.3 .7,.6 .6-.4 .7,.5 .7-.3 .6-.3 .7,.6 .6,.5 .7-1.3 .6,.4 .7-.4 .6,.6 .7,0 .6,0 .7-.3 .6-.4 .7,.1 .7,.2 .6-.2 .7,.2 .6-.1 .7-.1 .6-.4 .7-.1 .6-.8 .7-1.6 .6,.6 .7-2.1 .6-1.8 .7-.9 .7-1 .6-1.1 .7-1.8 .6-1.6 .7-3 .6-2.5 .7-2.2 .6-2.5 .7-2.5 .6-3.4 .7-3.5 .6-2.8 .7-3.1 .7-3 .6-3.5 .7-3 .6-2.9 .7-1.6 .6-.2 .7,.1 .6,.7 .7,1.2 .6,1.9 .7,1.9 .6,2.4 .7,1.8 .7,2 .6,2.5 .7,2.4 .6,2.7 .7,2.5 .6,2.3 .7,2.1 .6,3 .7,2.3 .6,2.7 .7,2.5 .6,2.6 .7,1.7 .7,2 .6,3.5 .7,2.4 .6,2.8 .7,1.9 .6,2.2 .7,2.9 .6,2.6 .7,1.8 .6,2.5 .7-.3 .6,.6 .7,.5 .7-.1 .6-.1 .7,.1 .6,0 .7,.2 .6,.1 .7,0 .6,.4 .7-.2 .6,.7 .7,.2 .6-.6 .7,.4 .6-2.8 .7-4.3 .7-4.8 .6-3.3 .7-4.4 .6-4.6 .7-4.2 .6-4.6 .7-3.8 .6-4.3 .7-4 .6-4.2 .7-2.3 .6-1.4 .7,1.3 .7,1.5 .6,1.4 .7,2.2 .6,1 .7,2.7 .6,2 .7,2.7 .6,2.3 .7,2.9 .6,3.4 .7,1.9 .6,1.6 .7,2.9 .7,1.4 .6,2 .7,2.3 .6,2.6 .7,1.4 .6,2.7 .7,1.6 .6,.6 .7,1.3 .6,1.3 .7,.5 .6,1 .7,2.1 .7,.9 .6,1.5 .7,.5 .6,.7 .7,.3 .6,.8 .7,.4 .6-.7 .7,2 .6,.4 .7,.1 .6,.3 .7-.3 .7,.7v40H100.4Z" stroke-dasharray="335.9 999"/><path d="M99.6,125.7l.6-.5 .7,.5 .6-.4 .7,.3 .7,.2 .6,.6 .7-.2 .6,.2 .7,.9 .6,0 .7,.1 .6-.3 .7-.1 .6,.6 .7-.2 .7-.1 .6,0 .7-.1 .6,.7 .7-.2 .6-.3 .7,.6 .6-.6 .7,.4 .7,.3 .6,.1 .7,.5 .6,1.2 .7-.3 .6-.5 .7,.4 .6-.3 .7,.2 .6-.1 .7,.1 .7,.2 .6,.4 .7,.3 .6,0 .7,.8 .6-1 .7-.4 .6,.3 .7-.7 .7,.7 .6,.3 .7,.6 .6-.4 .7,.8 .6-.2 .7,.2 .6-.1 .7-.1 .7,.7 .6,.1 .7-.2 .6,.2 .7,.6 .6,.1 .7,.1 .6-.9 .7,.4 .6,0 .7-.5 .7,.5 .6-.4 .7,.9 .6,0 .7,.6 .6-.1 .7-.8 .6-.3 .7,.9 .7,.5 .6,.4 .7,0 .6,0 .7,.1 .6,.7 .7-.3 .6,1 .7-1.2 .6-.4 .7-.1 .7,0 .6-.2 .7,0 .6-.2 .7,.9 .6-.8 .7,0 .6,.4 .7-.3 .7-.4 .6,.3 .7,.5 .6-.5 .7-.5 .6,1.2 .7-1.4 .6-.9 .7-.6 .7-1.3 .6-1.2 .7-1.1 .6-1.5 .7-.9 .6-1.4 .7-1.8 .6-1.1 .7-3.2 .6-2 .7-2.4 .7-2.3 .6-3.3 .7-2.8 .6-3.1 .7-3.2 .6-3.2 .7-3.3 .6-3 .7-3.1 .7-2.2 .6-1.9 .7-.8 .6,1.3 .7,.4 .6,1.8 .7,1.9 .6,2 .7,2.1 .6,1.8 .7,2.3 .7,2.4 .6,2.5 .7,2.8 .6,2.4 .7,2.6 .6,2.6 .7,2 .6,2.4 .7,2.2 .7,2.4 .6,2.3 .7,2.6 .6,2.4 .7,2.7 .6,2.8 .7,2.1 .6,2.4 .7,2.7 .6,1.5 .7,2.2 .7,3.3 .6,.6 .7,.8 .6-.5 .7,.5 .6,.1 .7,.1 .6,.5 .7-.3 .7,.7 .6-.1 .7,.2 .6,.2 .7,0 .6,.1 .7,.4 .6-.3 .7,0 .7-3.9 .6-4.3 .7-4.4 .6-3.6 .7-4.4 .6-4.9 .7-3.2 .6-4.6 .7-3.8 .6-4 .7-4.5 .7-3.1 .6-1.8 .7,.1 .6,.7 .7,1 .6,1.6 .7,1.9 .6,1.3 .7,2.9 .7,2.3 .6,2.3 .7,3.2 .6,2.3 .7,2.5 .6,2.3 .7,2.5 .6,2 .7,2.2 .6,1.7 .7,2 .7,1.4 .6,3.3 .7,1.5 .6,.3 .7,1 .6,2.3 .7,.9 .6,1.7 .7,2.7 .7-.4 .6-.1 .7,1.9 .6,.2 .7,.5 .6,1 .7,.6 .6,.2 .7,.1 .6,.8 .7,.1 .7,.6 .6-.1 .7,.8 .6,.6v40H99.6Z" stroke-dasharray="335.2 999"/><path d="M98.8,127.5l.6,.1 .7,0 .6-.8 .7,.3 .6,1.1 .7,.2 .6,.1 .7,.3 .6,.7 .7,.3 .6-.1 .7-.4 .7,.2 .6,.1 .7,.1 .6-.7 .7,.4 .6,.4 .7,.5 .6-.5 .7,0 .6-.4 .7,.4 .6-.2 .7,.1 .6,.4 .7,.7 .7,.5 .6,.2 .7,.1 .6-.1 .7,0 .6,.1 .7,.3 .6-.2 .7-.5 .6,.7 .7,.3 .6,.2 .7-.3 .7,.1 .6-.5 .7,.2 .6-.2 .7,.1 .6,.8 .7,.2 .6,.2 .7,.4 .6-.3 .7,0 .6-.4 .7,.8 .6-.4 .7-.2 .7,.5 .6,.1 .7,.6 .6,.6 .7,.2 .6,0 .7-.2 .6-.2 .7-.6 .6,.4 .7,1.1 .6-.8 .7,.3 .6,.3 .7,0 .7-.4 .6-.3 .7,.1 .6,.6 .7-.1 .6,.7 .7,.1 .6-.3 .7,0 .6,0 .7,.2 .6-.5 .7,0 .6-.3 .7-.5 .7,1.2 .6,.3 .7,.3 .6-.6 .7-.1 .6,.2 .7-.7 .6,.6 .7,.3 .6-.6 .7,.5 .6-.3 .7-.7 .7,.8 .6-.6 .7-1.1 .6-.6 .7-2 .6-.2 .7-1.1 .6-.8 .7-1.7 .6-1.6 .7-1.5 .6-1.8 .7-1.8 .6-2.3 .7-2.2 .7-1.9 .6-3.1 .7-3.5 .6-3.1 .7-2.1 .6-3.6 .7-3.5 .6-2.8 .7-2.8 .6-3.1 .7-1.2 .6-1.1 .7,.1 .6,.6 .7,1.7 .7,1.9 .6,1 .7,2 .6,2.5 .7,2.6 .6,2.6 .7,2.1 .6,1.9 .7,2.2 .6,2.8 .7,2.2 .6,2.4 .7,2.8 .6,2.3 .7,2.4 .7,1.9 .6,3.2 .7,1.8 .6,2.6 .7,2.4 .6,2 .7,2.8 .6,2.2 .7,2 .6,2.9 .7,2.7 .6,1.8 .7-.1 .7,.4 .6-.2 .7,.9 .6-.5 .7,0 .6,.6 .7-.2 .6,.4 .7,.2 .6-.5 .7,.7 .6,.4 .7-.2 .6,.3 .7,.1 .7-2.6 .6-4.2 .7-3.8 .6-4.1 .7-4.4 .6-4.1 .7-3.4 .6-4.3 .7-4.2 .6-4.4 .7-3.1 .6-4.1 .7-2 .6-1.4 .7,1 .7,.6 .6,1 .7,2.5 .6,1.8 .7,2.1 .6,1.9 .7,2.4 .6,2.5 .7,2.5 .6,2.4 .7,2.1 .6,2.2 .7,2.9 .7,1.5 .6,2.6 .7,1.6 .6,1.7 .7,2.1 .6,1.4 .7,.9 .6,2.1 .7,2.4 .6,.4 .7,1 .6,.2 .7,1 .6,1.5 .7,0 .7,1.6 .6,.2 .7,1 .6,.2 .7,1.3 .6,.2 .7,.3 .6,.5 .7,.1 .6,.5 .7,.3 .6,.5 .7,.4v40H98.8Z" stroke-dasharray="327.8 999"/><path d="M97.9,127l.7-.4 .6-.3 .7,0 .7,.5 .6,0 .7,.2 .6,.4 .7,.1 .6,.9 .7-.8 .6,.4 .7-.6 .7,.5 .6,0 .7,.2 .6-.1 .7,.6 .6,.3 .7,.3 .6-.4 .7-.2 .6-.3 .7,.6 .7-.3 .6,.3 .7-.5 .6,.8 .7,1.1 .6,.2 .7,.4 .6-1 .7,.3 .6,.2 .7-.4 .7,.3 .6,.4 .7,.5 .6,0 .7,.6 .6-.8 .7-.1 .6,0 .7,.1 .6-.3 .7,0 .7,.3 .6,.7 .7,.6 .6,.3 .7-.3 .6-.2 .7,.2 .6-.4 .7,.2 .6,.4 .7,.1 .7,.4 .6,.5 .7,.1 .6,.4 .7-.8 .6-.1 .7-.7 .6,.4 .7-.4 .7,.7 .6,.4 .7,.6 .6,.2 .7-.4 .6,.3 .7-.1 .6,.2 .7,.1 .6,0 .7-.5 .7,.7 .6,.6 .7-.1 .6-.4 .7,0 .6-.2 .7,.2 .6,.4 .7-.2 .6-.4 .7,.4 .7-.1 .6,.1 .7,.1 .6-.7 .7,.8 .6-.4 .7-.5 .6,.9 .7,0 .6-.6 .7-.4 .7,.6 .6,.5 .7-1.8 .6-1.7 .7-1.2 .6-1 .7-.8 .6-1.6 .7-.7 .7-1 .6-1.6 .7-1.6 .6-2.1 .7-2.1 .6-2.6 .7-3.3 .6-2.4 .7-2.3 .6-3.4 .7-2.7 .7-3.4 .6-3.3 .7-3.5 .6-2.5 .7-2.1 .6-1.6 .7-.9 .6,.7 .7,1 .6,1.4 .7,1.8 .7,2.2 .6,1.7 .7,1.8 .6,2.4 .7,2.2 .6,2.4 .7,2.3 .6,2.5 .7,2.3 .6,2.5 .7,2.1 .7,2 .6,3.2 .7,1.9 .6,2.3 .7,2.5 .6,1.6 .7,2.8 .6,2.7 .7,2.3 .6,1.9 .7,2.9 .7,2.3 .6,2.5 .7,2.2 .6,.9 .7,.2 .6,.8 .7-.7 .6,.7 .7,.4 .7-.3 .6,.2 .7,.3 .6-.1 .7,.2 .6,0 .7,.1 .6,.6 .7-.4 .6,.4 .7,.1 .7-3.6 .6-4.1 .7-3.3 .6-4.2 .7-4.2 .6-4.2 .7-4 .6-3.8 .7-4.1 .6-3.4 .7-3.9 .7-3.1 .6-1.5 .7-.3 .6,.4 .7,.6 .6,1.7 .7,2.7 .6,.8 .7,2.1 .6,2.6 .7,2.3 .7,2.3 .6,2.4 .7,2.5 .6,2.2 .7,2 .6,2.4 .7,1.6 .6,2.3 .7,2 .6,1.4 .7,1.9 .7,1.6 .6,1.9 .7,.8 .6,1.2 .7,1.9 .6,.9 .7,.6 .6,.7 .7,.2 .7,.9 .6,1.4 .7,.6 .6,.7 .7,.6 .6,.8 .7-.1 .6-.2 .7,.6 .6,.3 .7,.7 .7,.4 .6,.9 .7,.6v40H97.9Z" stroke-dasharray="324.0 999"/><path d="M97.1,128l.7-.3 .6,0 .7,.4 .6-.1 .7,.2 .6,1 .7,0 .6,.4 .7-.1 .7-.2 .6,.5 .7-.2 .6,.3 .7,0 .6,.3 .7-.6 .6,.8 .7-.3 .6,.2 .7-.2 .6,.3 .7-.4 .6,.6 .7-.1 .6,0 .7,.4 .7,.1 .6,.2 .7,1 .6,0 .7,0 .6-.3 .7-.2 .6,.4 .7,.1 .6,.1 .7,.1 .6,.2 .7,.4 .6,.1 .7-.1 .7-.5 .6-.3 .7,.4 .6,.1 .7-.2 .6,.6 .7,1 .6,.9 .7-.8 .6-.2 .7-.1 .6,.1 .7,.3 .6,.1 .7,.1 .6,.7 .7-.2 .7-.2 .6,.3 .7,.2 .6-.2 .7,0 .6,0 .7,.4 .6-.6 .7,.2 .6-.2 .7,.6 .6,.8 .7-.7 .6-.2 .7,.8 .7,0 .6,.5 .7-.1 .6,.1 .7-.1 .6-.2 .7,.5 .6,.3 .7-.5 .6-.8 .7,.2 .6-.3 .7,.2 .6,1 .7,.2 .6,.6 .7-.4 .7-.7 .6,.2 .7,.2 .6-.5 .7-.1 .6-.2 .7-.2 .6,.5 .7,.6 .6-.8 .7-1 .6-1.1 .7-.6 .6-.9 .7-1.6 .7-1.2 .6-.8 .7-.6 .6-1.8 .7-1.6 .6-1.7 .7-2.5 .6-2.4 .7-2.5 .6-2.6 .7-2.4 .6-2.9 .7-3.2 .6-2.9 .7-3.1 .6-3.6 .7-2.6 .7-2.4 .6-1.9 .7-.9 .6,0 .7,.6 .6,2.1 .7,1.7 .6,1.6 .7,1.6 .6,1.8 .7,2.6 .6,2.6 .7,2 .6,2.4 .7,2.4 .7,2.1 .6,2.5 .7,2.2 .6,2.1 .7,1.9 .6,2 .7,2.8 .6,2.5 .7,2 .6,2.9 .7,2.3 .6,1.6 .7,3.2 .6,2.2 .7,1.7 .6,2.3 .7,3 .7,1.7 .6,.2 .7,.6 .6-.3 .7,.4 .6-.3 .7,.8 .6,0 .7-.1 .6,0 .7,.1 .6,.1 .7,.2 .6,0 .7,.7 .7,.2 .6,.1 .7-2.5 .6-3.7 .7-3.4 .6-4.1 .7-3.8 .6-4 .7-3.8 .6-3.1 .7-4.6 .6-3.4 .7-3.7 .6-3.2 .7-3.2 .6-.3 .7,.2 .7,.7 .6,1.9 .7,1.5 .6,1.3 .7,2.3 .6,2.5 .7,1.5 .6,2.3 .7,2.6 .6,1.9 .7,1.9 .6,2.7 .7,2.6 .6,1.5 .7,1.8 .7,2.1 .6,1.6 .7,1.6 .6,1.7 .7,1.6 .6,1.6 .7,1.4 .6,1.4 .7,1.1 .6,1.1 .7,0 .6,.2 .7,1.4 .6,.7 .7,1 .6,1.3 .7,.9 .7-.1 .6,.5 .7,0 .6,.4 .7,.5 .6,.3 .7,.2 .6-.3 .7,0 .6,1.3v40H97.1Z" stroke-dasharray="318.2 999"/><path d="M96.3,126.7l.7-.2 .6-.2 .7,.2 .6,.4 .7-.2 .6,.2 .7,.5 .6,.4 .7,.5 .6,0 .7,.2 .7-.1 .6-.3 .7,.1 .6-.1 .7,0 .6,1.2 .7-.2 .6,.5 .7-.6 .6-.4 .7,.2 .7-.2 .6-.2 .7,.6 .6,0 .7,.9 .6,.6 .7,.1 .6-.5 .7,.5 .6-.3 .7,.4 .7-.5 .6,.5 .7-.1 .6,.4 .7,.1 .6,.1 .7,.2 .6-.3 .7,.2 .6-.2 .7,.2 .6-.1 .7,.6 .7-.3 .6,.8 .7-.4 .6,.4 .7,.2 .6,.3 .7-.5 .6,.3 .7,0 .6,.1 .7,.3 .7,0 .6,.5 .7,.5 .6-.4 .7-.7 .6-.1 .7,.4 .6-.1 .7,.3 .6,.5 .7,.1 .7,.1 .6,.4 .7-.1 .6,.5 .7-1 .6,.7 .7,1.3 .6-.7 .7,0 .6,.7 .7,.4 .7-1.1 .6-.3 .7,.7 .6-.8 .7-.5 .6,1.2 .7,.3 .6,.1 .7-.8 .6,.1 .7-1 .7,.6 .6,.1 .7,.1 .6-.4 .7-.7 .6,.5 .7-.1 .6,.9 .7-.2 .6-.5 .7-.9 .6-1.1 .7-.3 .7-1.9 .6-1.4 .7-1.2 .6-1.3 .7-.4 .6-1.4 .7-1.8 .6-1.1 .7-2.8 .6-2.5 .7-2.6 .7-3.1 .6-2.3 .7-2.5 .6-3.3 .7-2.8 .6-3.4 .7-3 .6-2 .7-2.8 .6-1.2 .7-.8 .7-.2 .6,1.6 .7,.8 .6,1.5 .7,2 .6,2.1 .7,1.8 .6,2.8 .7,1.7 .6,2.5 .7,1.9 .7,2.4 .6,2.2 .7,2.5 .6,2.5 .7,2 .6,2.2 .7,2.6 .6,2.3 .7,1.3 .6,3.4 .7,1.8 .7,2.1 .6,2.2 .7,2.3 .6,2.4 .7,2.3 .6,2 .7,2 .6,1.9 .7,0 .6,.1 .7,.6 .6,0 .7,.1 .7-.1 .6,.6 .7,0 .6,.5 .7,.1 .6-.4 .7,.2 .6,.7 .7-.4 .6,.2 .7-.1 .7-2.9 .6-3.7 .7-3.7 .6-4.2 .7-3.7 .6-3.4 .7-3.8 .6-3.7 .7-3 .6-3.7 .7-3.8 .7-3.1 .6-1.6 .7-.5 .6,.4 .7,.3 .6,2.5 .7,1.6 .6,1.3 .7,2.4 .6,1.8 .7,2.7 .7,1.7 .6,2.5 .7,1.9 .6,1.6 .7,2.3 .6,2.2 .7,2 .6,1.9 .7,1.3 .6,1.8 .7,1.9 .7,1.3 .6,1.5 .7,.9 .6,2.3 .7,1 .6,2.1 .7,.6 .6,.1 .7-.3 .6,.8 .7,1.5 .6,.5 .7,1 .7,.6 .6,.3 .7,.9 .6,0 .7,.4 .6-.8 .7,.1 .6,1.5 .7,0 .6,.7 .7,1.4v40H96.3Z" stroke-dasharray="318.2 999"/><path d="M95.5,128.7l.6-.5 .7,.4 .6-.3 .7,.3 .7,.4 .6,0 .7,.1 .6,.3 .7,.6 .6,.1 .7,.1 .7-.2 .6,.5 .7-.8 .6,.1 .7,.3 .6,.5 .7-.1 .6,.9 .7-.9 .7,0 .6-.1 .7,.6 .6-.5 .7,.8 .6,.2 .7-.3 .6,.6 .7,1 .7-.4 .6,.1 .7-.3 .6-.2 .7-.2 .6,.7 .7,.2 .6-.1 .7,.4 .7,.1 .6,.2 .7-.5 .6-.4 .7,.5 .6,.2 .7-.6 .6,.6 .7,0 .7,1.2 .6,.4 .7-.7 .6,.2 .7,.3 .6,0 .7-.1 .6,.5 .7,.2 .7-.1 .6,.1 .7,.1 .6,.3 .7,.1 .6-.1 .7-.5 .6-.2 .7,0 .7,0 .6,.9 .7,.1 .6,.2 .7,0 .6,0 .7-1 .6,.6 .7,1.2 .7-1 .6,.7 .7,.4 .6,1.2 .7-.7 .6-.1 .7,.7 .6-1.4 .7-.6 .7-.2 .6,.8 .7,1 .6-.6 .7-.1 .6-.2 .7,.3 .6,.2 .7-.6 .7-.8 .6,.6 .7,.4 .6-.4 .7,0 .6,0 .7,0 .6-.7 .7-.8 .7-1.3 .6-1 .7-1 .6-.5 .7-1.5 .6-.5 .7-1.6 .6-.8 .7-2.6 .7-2.3 .6-1.5 .7-2.6 .6-1.8 .7-3.3 .6-2.5 .7-2.5 .7-3.4 .6-2.9 .7-3.4 .6-2.5 .7-3.2 .6-1.3 .7-1.9 .6-.3 .7,.8 .7,.8 .6,1.4 .7,2.2 .6,1.3 .7,2.2 .6,1.7 .7,2.4 .6,1.8 .7,2.8 .7,1.6 .6,2.1 .7,2.7 .6,2.6 .7,2.5 .6,1.3 .7,2.3 .6,2.4 .7,1.9 .7,2.1 .6,2.5 .7,2.2 .6,2.4 .7,1.9 .6,2.9 .7,1.8 .6,2.6 .7,1.7 .7,2.4 .6,.5 .7,.7 .6,.3 .7,.1 .6-.4 .7-.1 .6,.9 .7,.1 .7,0 .6,0 .7-.1 .6,.2 .7,.4 .6-.3 .7,.1 .6,.7 .7-.7 .7-3.1 .6-4.4 .7-3.3 .6-4 .7-3.1 .6-4.1 .7-3.6 .6-3.6 .7-3 .7-3.4 .6-3.3 .7-3 .6-1.4 .7,.5 .6,.1 .7,1 .6,2 .7,1.7 .7,1.8 .6,2.3 .7,1.9 .6,1.8 .7,1.9 .6,2 .7,2.1 .6,2.1 .7,2.2 .7,1.5 .6,2.9 .7,2.1 .6,.7 .7,1.5 .6,2 .7,1.2 .6,1.3 .7,1 .7,1.8 .6,1 .7,.2 .6,.8 .7,.6 .6,.3 .7,1.7 .6,1.3 .7,.3 .7,.1 .6,.3 .7,1.3 .6,0 .7,.5 .6-.1 .7,0 .6,.5 .7,1.9 .7-.6 .6,.6 .7-.4v40H95.5Z" stroke-dasharray="314.4 999"/><path d="M94.7,129.6l.6,.1 .7-.4 .6-.1 .7,.2 .6,.8 .7,.4 .6-.1 .7,.5 .7,.6 .6-.7 .7,.5 .6-.2 .7,0 .6-.4 .7,.7 .6,.4 .7-.1 .6,.2 .7,.8 .6-1.1 .7-.6 .7,.3 .6,.3 .7-.3 .6,.6 .7-.1 .6,1.2 .7,.3 .6,.1 .7,.1 .6-.2 .7-.3 .6-.2 .7,.4 .7,.6 .6,.5 .7-.4 .6-.3 .7,.8 .6,0 .7-.5 .6-.4 .7,.4 .6-.5 .7,.2 .7,.5 .6,.5 .7,.5 .6,.2 .7-.6 .6,.9 .7-.2 .6,.3 .7-.5 .6,.5 .7-.1 .6,.5 .7,.5 .7,.4 .6-.6 .7-.2 .6,0 .7-.2 .6,.4 .7-.4 .6,.7 .7,.1 .6-.2 .7,.5 .6,.5 .7,.1 .7-.4 .6-.5 .7,.7 .6-.3 .7,.7 .6,.5 .7-.1 .6,.8 .7-.5 .6-.2 .7-.2 .7-1 .6,.3 .7-.4 .6,1 .7-.5 .6,.3 .7,.4 .6-.2 .7-.2 .6-.2 .7-.1 .6,.3 .7,.4 .7-.5 .6,1 .7-.5 .6-.4 .7-1 .6-.6 .7-.5 .6-1.2 .7-1.1 .6-1 .7-1 .6-.7 .7-.9 .7-1.2 .6-1.6 .7-1.9 .6-2.2 .7-3.2 .6-1.8 .7-2.5 .6-2 .7-3.6 .6-2.5 .7-2.8 .7-2.5 .6-3.4 .7-2.4 .6-2.8 .7-1.7 .6-.4 .7-.4 .6,1.3 .7,1.9 .6,1.1 .7,1.3 .6,2.8 .7,1.7 .7,1.8 .6,2.3 .7,2.2 .6,2.2 .7,1.9 .6,2 .7,2.9 .6,1.9 .7,2.8 .6,1.9 .7,2 .6,2 .7,1.7 .7,2.5 .6,2 .7,2.6 .6,2.8 .7,2.1 .6,1.9 .7,2.1 .6,2.1 .7,2 .6,1.3 .7,.5 .7-.3 .6,.1 .7,.7 .6-.1 .7,.4 .6,0 .7,0 .6,0 .7,.7 .6-.3 .7,.2 .6-.2 .7,.8 .7-.1 .6,.2 .7-2.7 .6-3.7 .7-2.6 .6-4.4 .7-3.6 .6-3.3 .7-3.4 .6-3.2 .7-3.9 .6-3.1 .7-2.8 .7-3.1 .6-2 .7-1.1 .6,.7 .7,1.7 .6,.9 .7,1.4 .6,1.7 .7,1.7 .6,1.9 .7,1.9 .7,2.4 .6,2.1 .7,1.5 .6,2.6 .7,2.2 .6,2 .7,1.2 .6,2.3 .7,1.3 .6,1.4 .7,1.4 .6,2.7 .7,1.5 .7,.4 .6,.8 .7,1.3 .6,.7 .7,.9 .6,1.6 .7,1.4 .6-.2 .7,1 .6,.2 .7,.3 .6,.7 .7,.1 .7,1 .6,.8 .7,.2 .6-.2 .7-.5 .6-.1 .7,1.1 .6,.4 .7,.1 .6,.4v40H94.7Z" stroke-dasharray="309.7 999"/><path d="M93.8,130.9l.7,.1 .7-.1 .6-.1 .7,.1 .6,.7 .7,.1 .6,.2 .7,.6 .6,.7 .7,.6 .7-.8 .6-.5 .7-.2 .6,.2 .7,.3 .6,0 .7,.2 .6,.2 .7,.4 .7,.1 .6-.4 .7,.3 .6-.7 .7,.3 .6,.5 .7-.3 .6,.7 .7,.3 .6,.1 .7,0 .7,.1 .6,.3 .7-.2 .6,.1 .7,.5 .6,.4 .7-.4 .6,.1 .7,.5 .7,.4 .6-.9 .7-.1 .6,.4 .7-.9 .6,.6 .7,.4 .6,.1 .7,.5 .7,.7 .6-.2 .7-.1 .6-.1 .7,.3 .6-.2 .7-.1 .6,.6 .7,.4 .7,.3 .6-.2 .7,0 .6,.5 .7-1.2 .6,.5 .7,.9 .6-.3 .7-.2 .7-.8 .6,1.1 .7,.4 .6,.1 .7,.2 .6-.6 .7,.3 .6-.3 .7,.2 .6,.1 .7,1.4 .7-.5 .6,.1 .7-.1 .6,0 .7-.1 .6-.2 .7,0 .6-.3 .7,.6 .7-.2 .6,.4 .7,1.3 .6-1.6 .7-.3 .6,.4 .7,.4 .6,.3 .7,.2 .7-1.1 .6-.2 .7,.6 .6,.8 .7-1.6 .6-1.4 .7-.6 .6-.6 .7-1.6 .7-.2 .6-1.2 .7-.8 .6-.8 .7-2.5 .6-1.4 .7-1.6 .6-1.9 .7-2.7 .7-2.1 .6-1.8 .7-3.4 .6-2.6 .7-3.1 .6-2.7 .7-2.6 .6-2.7 .7-3.1 .6-1.5 .7-1.1 .7-.7 .6,.3 .7,1.1 .6,1.4 .7,1.4 .6,1.5 .7,2.5 .6,1.4 .7,1.9 .7,2.2 .6,1.7 .7,2.2 .6,2.5 .7,3 .6,1.7 .7,1.6 .6,2.7 .7,1.9 .7,1.4 .6,2.2 .7,2.5 .6,2 .7,2.2 .6,2.5 .7,2.5 .6,1.3 .7,2.8 .7,2 .6,1.9 .7,2.2 .6,.9 .7,.5 .6,0 .7,.3 .6,.9 .7,0 .7,.2 .6-.2 .7-.4 .6,.3 .7,.2 .6,.3 .7,0 .6,.3 .7-.1 .6-.2 .7,.8 .7-3.6 .6-3.7 .7-3.3 .6-3.8 .7-3.8 .6-2.9 .7-3.2 .6-2.9 .7-3.7 .7-2.9 .6-3.4 .7-2.6 .6-1.3 .7,.3 .6,.6 .7,1.1 .6,1.6 .7,1.6 .7,1.1 .6,2.1 .7,1.6 .6,2.4 .7,1.5 .6,1.5 .7,2.5 .6,1.7 .7,2.4 .7,2 .6,1.9 .7,1.2 .6,1.4 .7,1.1 .6,1.6 .7,.8 .6,2.4 .7,1.9 .6,.9 .7,.4 .7,1.1 .6,.7 .7,.2 .6,.5 .7,1.4 .6-.3 .7,.4 .6,.1 .7,1.9 .7,.4 .6,.7 .7,.3 .6,1.1 .7,.8 .6-.1 .7-1.1 .6,.2 .7,.6 .7,.6 .6,0v40H93.8Z" stroke-dasharray="305.9 999"/><path d="M93,130.8l.7-1 .6-.2 .7,.3 .6,.2 .7-.3 .6,.6 .7,.5 .7,.4 .6,.5 .7-.1 .6,.5 .7-.7 .6,.2 .7-.4 .6,.5 .7,.2 .6,.5 .7-.1 .6,.4 .7-.3 .7-.4 .6,.2 .7-.7 .6,.7 .7,0 .6,0 .7,.3 .6,1.2 .7,.6 .6-.5 .7-.5 .6,.4 .7-.1 .7,.2 .6,.1 .7,.2 .6-.3 .7,.8 .6-.4 .7,.6 .6-.6 .7-.2 .6,.2 .7,.3 .6-.2 .7,.6 .7,.9 .6-.7 .7,.7 .6-.3 .7-.2 .6,0 .7,.6 .6,.3 .7-.3 .6,.1 .7,0 .6,1 .7-.6 .6-.3 .7,0 .7-.1 .6,.4 .7,.5 .6-.6 .7-.1 .6,.5 .7,.5 .6,.1 .7-.1 .6-.3 .7-.1 .6,.7 .7,0 .7-.6 .6,.9 .7,0 .6,.8 .7,.2 .6-1 .7,.7 .6,.2 .7-.8 .6-.8 .7,.6 .6,.4 .7-.1 .7,.4 .6,.4 .7,.4 .6-.4 .7-1 .6,.4 .7,.6 .6-.8 .7-.2 .6,.5 .7,.1 .6-.6 .7,.4 .7-1.4 .6-1.2 .7-.2 .6-.3 .7-1.6 .6-1.2 .7-.7 .6-1 .7-1.2 .6-1.1 .7-1.7 .6-2.7 .7-2.9 .6-2.1 .7-1.8 .7-3.1 .6-1.7 .7-2 .6-3.5 .7-3.2 .6-2.3 .7-3.6 .6-1.6 .7-1.2 .6-1.6 .7,1 .6,.5 .7,1.2 .7,2 .6,1.2 .7,2.2 .6,1.4 .7,2.1 .6,1.9 .7,1.8 .6,2.4 .7,2.2 .6,1.6 .7,2.1 .6,2.1 .7,2.3 .7,2.2 .6,1.8 .7,2.1 .6,2.6 .7,2.2 .6,1.5 .7,2 .6,2.2 .7,2.2 .6,2.3 .7,2 .6,2.5 .7,1.5 .7,1.9 .6,.1 .7,.1 .6-.3 .7,1 .6-.2 .7,.3 .6,0 .7-.4 .6,.3 .7,.4 .6-.3 .7,.3 .7,.2 .6,.5 .7,.1 .6-.3 .7-1.9 .6-3.2 .7-3.1 .6-3.5 .7-3.2 .6-3.2 .7-3.5 .6-2.6 .7-3.1 .6-3.5 .7-3 .7-2.5 .6-2.4 .7-.4 .6,.9 .7,.9 .6,.4 .7,1.8 .6,1.5 .7,2 .6,1.3 .7,2.3 .6,1.9 .7,1.8 .7,1.8 .6,2.1 .7,1.9 .6,1.1 .7,2.2 .6,2.7 .7,1.1 .6,1.4 .7,1.9 .6,1.3 .7,.1 .6,1.3 .7,.9 .7,.9 .6,.7 .7,1 .6,.9 .7,.6 .6,.9 .7,1.6 .6,.6 .7-.7 .6,.5 .7,.2 .6,.3 .7,1.3 .7,1.3 .6,.9 .7-1.8 .6-.3 .7,.5 .6,.4 .7,1.2 .6-.9 .7,.4v40H93Z" stroke-dasharray="304.4 999"/><path d="M92.2,130.2l.7,.1 .6,0 .7-.2 .6,.7 .7-.1 .6,0 .7,.8 .6,0 .7,.7 .7,.3 .6-.1 .7-.5 .6,.1 .7,.5 .6-.2 .7,.5 .6,.2 .7-.1 .7,.2 .6-.1 .7,.8 .6-1.1 .7,0 .6,0 .7,.5 .6,.1 .7,.2 .6,.6 .7,0 .7,.7 .6-.2 .7,.4 .6-.5 .7-.1 .6,.3 .7,0 .6,.4 .7,.9 .7-.1 .6-.2 .7,.2 .6-.9 .7,.4 .6,.4 .7-.3 .6,.3 .7,.7 .6,.1 .7,.2 .7,.1 .6-.6 .7,.7 .6,.1 .7,0 .6-.5 .7-.1 .6,1.3 .7-.2 .7,.9 .6,.1 .7-.4 .6-.5 .7,0 .6,0 .7,0 .6,.1 .7,.2 .6,.4 .7,.2 .7-.3 .6,1.5 .7-.1 .6-.8 .7,.3 .6,1 .7-.1 .6-.5 .7,0 .7,1.1 .6-1.3 .7,.1 .6,.1 .7,0 .6-.4 .7,.2 .6,.4 .7,.6 .6-.3 .7,.8 .7-.4 .6-.8 .7,1.5 .6-.6 .7-1.1 .6,.2 .7,.6 .6,1.6 .7-1.2 .6-.8 .7-.6 .7-.2 .6-1.1 .7-1 .6,.1 .7-1 .6-1.7 .7-.8 .6-1.2 .7-1.6 .7-1.5 .6-2.2 .7-1.4 .6-2.1 .7-2.5 .6-2.2 .7-2.4 .6-1.8 .7-2.9 .6-2.4 .7-3.4 .7-2.8 .6-2.8 .7-1.7 .6-1 .7-.7 .6,.2 .7,.8 .6,1.3 .7,1.8 .7,1.8 .6,1.9 .7,1.9 .6,1.7 .7,1.9 .6,2.7 .7,1.6 .6,2.1 .7,2 .6,2.1 .7,1.7 .7,2.5 .6,2.1 .7,1.6 .6,2.3 .7,2.5 .6,2.4 .7,1.5 .6,1.2 .7,2.7 .7,2.2 .6,2.2 .7,1.7 .6,2 .7,1.8 .6,1.1 .7,.6 .6,.4 .7,0 .6-.2 .7,.5 .7,.1 .6-.2 .7,.7 .6,.3 .7,0 .6-.1 .7-.3 .6,.8 .7-.3 .7,0 .6,.1 .7-2.4 .6-3.5 .7-2.9 .6-3 .7-3.1 .6-3.2 .7-2.9 .6-3.5 .7-3.1 .7-2.1 .6-3.3 .7-2.8 .6-1.3 .7-.1 .6,1 .7,.7 .6,1.4 .7,1.3 .7,1.8 .6,1.8 .7,1 .6,2.7 .7,1.4 .6,2.2 .7,1.6 .6,1.7 .7,1.4 .6,2.4 .7,1.6 .7,1.4 .6,2 .7,.9 .6,1.1 .7,1.2 .6,1.5 .7,2.2 .6,.3 .7,.9 .7,.9 .6,1.5 .7,1.6 .6-.2 .7-.7 .6,.5 .7,1 .6,.5 .7-1.1 .6,.4 .7,1.9 .7,.1 .6,.7 .7,.5 .6,.3 .7,.2 .6-.2 .7,.6 .6-.2 .7,.6 .7-.3v40H92.2Z" stroke-dasharray="299.9 999"/><path d="M91.4,130.5l.6,.1 .7,.1 .6,0 .7,0 .7-.2 .6,.2 .7,0 .6,1.2 .7,.5 .6,.1 .7-.5 .6-.2 .7,.2 .6,.2 .7,.5 .6,0 .7,.2 .6,.1 .7,.6 .7-.6 .6-.3 .7,.3 .6-.1 .7-.3 .6,.3 .7,.3 .6,.5 .7,.9 .6,0 .7-.5 .6,.2 .7-.2 .7,0 .6,.9 .7-.6 .6-.1 .7,.8 .6,0 .7,.6 .6-.3 .7-.2 .6-.3 .7,.3 .6-.2 .7,.2 .6,.3 .7,.3 .7,.2 .6,.3 .7,.4 .6-.2 .7-.3 .6,.3 .7,0 .6,.5 .7,.2 .6-.2 .7,0 .6,.3 .7-.2 .6,1.1 .7-.6 .7-.5 .6,0 .7,0 .6-.1 .7,.4 .6,.6 .7,.4 .6,.3 .7-.2 .6,0 .7-.6 .6,.6 .7-.3 .6,0 .7,.7 .7,.5 .6,.5 .7,1.1 .6,1 .7-1.6 .6-1.5 .7,0 .6,1.1 .7-.6 .6,.2 .7,.1 .6,.1 .7,.1 .6,.4 .7-1 .7-.2 .6,0 .7,.9 .6,.3 .7-1.1 .6-.5 .7,1.5 .6-1 .7-.6 .6-.9 .7-.5 .6-.6 .7-.9 .6-1.7 .7-1.8 .7-.4 .6-1.3 .7-.7 .6-1.3 .7-2.3 .6-1.7 .7-2.8 .6-2.5 .7-2.4 .6-1.8 .7-2.6 .6-2.9 .7-2.4 .6-3.2 .7-2.5 .7-2 .6-1.1 .7-1 .6,.6 .7,.5 .6,1.3 .7,1.3 .6,1.6 .7,1.7 .6,1 .7,2.6 .6,1.3 .7,2.2 .6,1.7 .7,2.1 .7,2 .6,2.4 .7,2.2 .6,2.2 .7,1.1 .6,2.6 .7,2 .6,2 .7,1.5 .6,2.2 .7,2.6 .6,1.5 .7,1.8 .6,2.4 .7,2.1 .7,1.3 .6,2.7 .7,1.4 .6-.1 .7-.1 .6,1.2 .7-.2 .6,.4 .7-.3 .6,.6 .7,.2 .6-.4 .7-.2 .7,.5 .6,.1 .7,.3 .6-.2 .7,.2 .6,.6 .7-1.8 .6-3.2 .7-3.1 .6-3.2 .7-3.1 .6-2.3 .7-2.9 .6-3.2 .7-2.5 .7-2.7 .6-3.1 .7-2.5 .6-2.1 .7-.5 .6,.4 .7,.6 .6,1.7 .7,1 .6,1.3 .7,1.9 .6,1.3 .7,1.8 .6,1 .7,2.5 .7,1 .6,1.5 .7,2.9 .6,2.7 .7,.9 .6,1 .7,1.4 .6,1.3 .7,1 .6,.8 .7,1.3 .6,1.3 .7,.9 .6,2.1 .7,.9 .7,.1 .6-.1 .7,1 .6,.6 .7,.8 .6,1.4 .7-1.2 .6,.6 .7,.7 .6,1.9 .7-.1 .6-.8 .7,.4 .6,.2 .7,.8 .7,.2 .6,1 .7,.1 .6,.3 .7,0 .6-.1v40H91.4Z" stroke-dasharray="293.6 999"/><path d="M90.6,131.5l.6,0 .7,0 .6,.2 .7,0 .6-.3 .7,1 .7,.2 .6,0 .7,.3 .6,.5 .7-.3 .6,.4 .7-.6 .6,.2 .7,.3 .6,.1 .7-.3 .7,.6 .6,.6 .7-.2 .6-.6 .7-.1 .6,.4 .7-.2 .6,.4 .7,.2 .6,.4 .7,.4 .7,0 .6,0 .7,.1 .6,.4 .7-.5 .6,.1 .7,.4 .6,.2 .7,.3 .6-.2 .7,.2 .7-.3 .6,.3 .7,.3 .6-.6 .7-.1 .6,.4 .7,.7 .6-.5 .7,.5 .6,.3 .7,0 .7-.1 .6,0 .7,.3 .6,.2 .7,.1 .6,.3 .7,.2 .6,.6 .7-.4 .6-.2 .7,.4 .7-.3 .6-.1 .7,.1 .6-.2 .7-.1 .6,1.1 .7,0 .6,.8 .7-.1 .6,1 .7-.3 .7-.8 .6,.1 .7,0 .6,.4 .7-.2 .6,0 .7-.1 .6,.3 .7,.2 .6-.1 .7,.3 .7,1.3 .6-.7 .7,0 .6-.1 .7,0 .6-.1 .7-1 .6-.1 .7,.7 .7-.4 .6-.1 .7,.8 .6-.5 .7-.3 .6-.2 .7,.8 .6-.3 .7-.8 .6-.5 .7-.8 .7-1.4 .6-.6 .7-1.6 .6-.5 .7-1.2 .6-.4 .7-2.1 .6-2.1 .7-1.4 .6-2.7 .7-2.1 .7-1.6 .6-2.6 .7-2.1 .6-2.8 .7-2.6 .6-2.9 .7-2.6 .6-2.7 .7-1.3 .6-1.3 .7-.1 .7-.2 .6,1 .7,1.4 .6,1.3 .7,1.9 .6,1.7 .7,1.4 .6,2 .7,1.7 .6,1.7 .7,2.3 .7,2.1 .6,2.1 .7,1.7 .6,2.1 .7,1.3 .6,2 .7,2 .6,1.9 .7,1.8 .6,2.8 .7,1.6 .7,2.1 .6,1.9 .7,1.9 .6,2 .7,1.6 .6,2.2 .7,2.1 .6,1.1 .7,.2 .6-.3 .7,0 .7,.1 .6,1.5 .7-.3 .6-.8 .7,.5 .6,0 .7,.2 .6,.4 .7-.6 .6,.9 .7-.6 .7,.9 .6-.4 .7-1.7 .6-3.1 .7-2.7 .6-3.2 .7-3 .6-2.6 .7-2.5 .6-2.7 .7-3.2 .7-2.8 .6-3 .7-1.3 .6-2 .7-.2 .6,.4 .7,1.1 .6,1.3 .7,1.2 .6,1.2 .7,1.8 .7,1.7 .6,1.5 .7,1.4 .6,1.8 .7,1.9 .6,1.3 .7,2.2 .6,1.7 .7,.8 .7,1.3 .6,2.2 .7,2 .6,1.1 .7,.1 .6,1 .7,1.6 .6,1.1 .7,.5 .6,.7 .7-.2 .7,1.4 .6,2.2 .7,0 .6,1.2 .7-.2 .6-1.3 .7,.7 .6,.9 .7-.6 .6,1.1 .7,.3 .7,.8 .6,.4 .7-.4 .6,0 .7,.5 .6,.5 .7,.4 .6-.3 .7,.6v40H90.6Z" stroke-dasharray="286.3 999"/><path d="M89.8,131.7l.6,.5 .7-.9 .6,0 .7,0 .6,.5 .7,0 .6,.6 .7,.7 .6,.4 .7-.4 .6,.3 .7-.2 .6-.1 .7,.5 .6-.7 .7,.6 .7,.4 .6,.5 .7-.2 .6-.3 .7,.2 .6-.4 .7-.1 .6,.1 .7,.6 .6-.1 .7,.2 .6,.9 .7,.7 .6-.4 .7,.2 .6-.6 .7,.6 .7,0 .6-.4 .7,.7 .6,.3 .7,0 .6,.6 .7-.3 .6-.2 .7,.2 .6-.6 .7-.2 .6,.1 .7,.9 .6-.1 .7,.5 .7,.4 .6-.3 .7,.4 .6-.2 .7-.1 .6,.2 .7,.1 .6,.4 .7,.3 .6,.6 .7,0 .6-.3 .7,.9 .6-.5 .7-1.1 .6-.1 .7,.7 .7,.2 .6-.3 .7,.2 .6,1 .7,.9 .6,1.3 .7-2 .6-.5 .7,.2 .6,.9 .7,.1 .6-.1 .7,0 .6,1.6 .7-1 .6,.1 .7-.5 .7-1 .6,.5 .7,.5 .6,.5 .7-.6 .6-.1 .7,.5 .6,.3 .7-.1 .6-.3 .7-.7 .6,1.4 .7-1.2 .6,.4 .7,0 .7-.4 .6,.8 .7-.8 .6-.8 .7-.9 .6,.3 .7-1.1 .6-1.7 .7-.7 .6-1 .7-1.2 .6-.5 .7-.7 .6-1.5 .7-3.2 .6-.7 .7-2.5 .7-1.4 .6-2.9 .7-2.5 .6-2.3 .7-2.5 .6-2.5 .7-2.5 .6-2.2 .7-2.4 .6-1.3 .7-1.1 .6,.2 .7,.9 .6,1 .7,1.5 .6,1.7 .7,1.1 .7,2.6 .6,.9 .7,1.7 .6,2.2 .7,1.3 .6,2.3 .7,2 .6,2 .7,1.6 .6,2.5 .7,1.3 .6,2.2 .7,1.7 .6,2.1 .7,1.9 .6,1.5 .7,2.4 .7,1.6 .6,1.9 .7,2 .6,1.7 .7,2.2 .6,1.7 .7,1.9 .6,.2 .7,.7 .6-.4 .7,1.2 .6-.2 .7-.6 .6,.3 .7,.1 .7,.7 .6-.4 .7,0 .6,.3 .7,.2 .6,.1 .7,.2 .6,.4 .7-1 .6-3.2 .7-2.7 .6-2.4 .7-2.9 .6-3 .7-2.5 .6-2.9 .7-2.5 .7-2.5 .6-2 .7-2.7 .6-2.2 .7,0 .6-.1 .7,.5 .6,1.2 .7,1.2 .6,1 .7,2 .6,1.4 .7,1.5 .6,1.6 .7,1.7 .6,2 .7,1.9 .7,1.1 .6,.6 .7,1.9 .6,1.1 .7,2.3 .6,.9 .7,.1 .6,1.5 .7,2.1 .6,.6 .7,2.2 .6,.5 .7,.1 .6,.8 .7,.3 .7,.4 .6,.6 .7,1 .6,.7 .7-1.1 .6,1.2 .7,2.2 .6,1 .7-1.6 .6-.5 .7,.9 .6,.9 .7-.9 .6,.2 .7,1.4 .6,0 .7,.3 .7,.7 .6,.1 .7-1v40H89.8Z" stroke-dasharray="291.8 999"/><path d="M88.9,133.1l.7-.4 .6-.2 .7,.2 .6,.3 .7,.4 .7,.4 .6,.2 .7,.4 .6,.3 .7,.5 .6-.3 .7,0 .6-.3 .7,.1 .6,.3 .7-.2 .7-.2 .6,.8 .7,.6 .6-.3 .7-.4 .6,.4 .7-.6 .6,.6 .7-.4 .6,.9 .7,.2 .7,.7 .6-.2 .7,.3 .6-.2 .7,.2 .6-.2 .7,.1 .6,.2 .7-.1 .6,.2 .7,.3 .6,.5 .7,0 .7-.2 .6-.1 .7,.2 .6-.2 .7,.3 .6,.2 .7,0 .6,.1 .7,.8 .6-.1 .7,.1 .7-.3 .6,.4 .7,.4 .6-.1 .7-.2 .6,.7 .7,.1 .6,0 .7,.2 .6-.3 .7-.7 .7,.5 .6,.3 .7-.2 .6,.3 .7-.1 .6,1.4 .7,.1 .6,.6 .7,.6 .6-1.3 .7-.3 .7,1 .6,.2 .7,.1 .6-.4 .7,0 .6,.9 .7-.1 .6-.7 .7-.9 .6-.1 .7-.1 .6,1 .7,0 .7-.4 .6,.2 .7,.4 .6,.1 .7,.5 .6-.6 .7,1.7 .6-1.1 .7-.7 .6,.7 .7,1 .7-.1 .6-1 .7-1 .6-.6 .7-.1 .6-1 .7-.7 .6-.2 .7-1.1 .6-1.6 .7-.2 .7-1.1 .6-1.4 .7-1.5 .6-2.3 .7-1.5 .6-1.4 .7-2.7 .6-1.8 .7-3.6 .6-1.5 .7-2.4 .6-2.6 .7-2.5 .7-2.3 .6-1.3 .7-.9 .6-.6 .7-.1 .6,.5 .7,1.4 .6,1 .7,1.5 .6,1.6 .7,1.8 .7,2.3 .6,1.2 .7,2.5 .6,1 .7,1.8 .6,2.6 .7,1.5 .6,1.7 .7,1.5 .6,2.2 .7,1.8 .7,1.8 .6,1.7 .7,1.6 .6,2.4 .7,2.3 .6,1.5 .7,1.5 .6,2 .7,1.8 .6,1.8 .7,1.8 .6,1.2 .7,.1 .7,.7 .6-.3 .7,0 .6,.7 .7-.6 .6,.3 .7,.2 .6,.1 .7,.5 .6,.3 .7,.1 .7-.1 .6-.1 .7,.6 .6-.1 .7-1.8 .6-2.9 .7-2.2 .6-3 .7-2 .6-3 .7-2.4 .7-2.1 .6-3 .7-3 .6-1.9 .7-1.8 .6-1.3 .7-.3 .6,.3 .7,1.3 .6,.7 .7,1.9 .6,.3 .7,1.2 .7,1.9 .6,1.8 .7,1 .6,1.1 .7,1.9 .6,2 .7,1.5 .6,1.4 .7,2.4 .6,2.6 .7,.6 .7-.6 .6,.8 .7,1.8 .6,.8 .7,2 .6,2.1 .7-.4 .6-.1 .7,.5 .6-.1 .7,1.2 .7,.9 .6,.9 .7,.4 .6,.8 .7,2.3 .6-.6 .7-1.5 .6,.5 .7,.1 .6,.5 .7,.1 .6,.2 .7,.4 .7,.7 .6,2.3 .7-2.3 .6,.2 .7,.6 .6-.3v40H88.9Z" stroke-dasharray="282.4 999"/><path d="M88.1,134.3l.7-.4 .6,.1 .7,.1 .6,.1 .7,.4 .6-.2 .7,.6 .7,.1 .6,.6 .7,.1 .6-.2 .7,.2 .6-.8 .7,.7 .6,.3 .7,.1 .7,.2 .6,.1 .7-.1 .6,.2 .7,.1 .6,0 .7-.4 .6,.2 .7-.2 .7,.7 .6,.6 .7,0 .6,.4 .7,.4 .6-.3 .7,.2 .6-.6 .7,.7 .7,.2 .6,.2 .7,.3 .6-.3 .7,1 .6-.7 .7,.1 .6,0 .7-.5 .7,.1 .6,.2 .7,.7 .6-.2 .7,.6 .6,.1 .7,.3 .6-.5 .7-.1 .7-.2 .6,.5 .7,.9 .6-.3 .7,.5 .6-.2 .7,1.2 .6-.4 .7-.4 .7,1.1 .6-.1 .7-1.6 .6,.6 .7-.3 .6,.1 .7,.6 .6,.6 .7,.1 .7-.1 .6-.7 .7,.1 .6,.3 .7,.2 .6,.8 .7-.3 .6,1 .7-.3 .7,.1 .6-.7 .7-.4 .6,.7 .7-.6 .6,.3 .7-.8 .6,1.8 .7,.4 .7-.2 .6-.8 .7-.1 .6,.5 .7,.1 .6-.4 .7,0 .6,1 .7-.6 .7-.3 .6,.8 .7-.1 .6,.3 .7-.6 .6-1.9 .7-1.9 .6-.6 .7-1.1 .7-.5 .6-.9 .7-.5 .6-1.7 .7-2.1 .6-1.2 .7-1.7 .6-2.1 .7-2.1 .7-2.1 .6-2.1 .7-2.6 .6-.7 .7-2.8 .6-2.9 .7-1.6 .6-1.8 .7-1.1 .7-.9 .6,.9 .7,1.1 .6,.8 .7,1.2 .6,1.1 .7,2.1 .6,1.5 .7,1.8 .7,1.7 .6,1.9 .7,1.5 .6,1.8 .7,1.6 .6,2.2 .7,1.5 .6,1.7 .7,1.5 .7,1.8 .6,1.3 .7,2 .6,2 .7,1.6 .6,1.9 .7,1.8 .6,2.1 .7,1.1 .7,2.4 .6,2.2 .7,2 .6-.2 .7,.6 .6,.4 .7-.2 .6,.1 .7,0 .7,.2 .6,.5 .7-.2 .6-.1 .7-.2 .6,.3 .7,.5 .6,.1 .7-.1 .7,.6 .6,.3 .7-3.6 .6-2 .7-2.6 .6-2.2 .7-2.2 .6-2.3 .7-2.3 .7-2 .6-2.4 .7-2.9 .6-1.8 .7-1.6 .6-1.4 .7,.1 .6,1.2 .7,.5 .7,.8 .6,1.6 .7,1.2 .6,.8 .7,1.5 .6,1.4 .7,1.3 .6,1.5 .7,1.8 .7,2.1 .6,1.2 .7,2.6 .6-.5 .7,.7 .6,1.5 .7,.9 .6,1.9 .7-.1 .7,1 .6,1.7 .7,.5 .6,.7 .7,.1 .6,.6 .7,1.6 .6,.5 .7,1.5 .7,.1 .6-2.1 .7,2.1 .6,.6 .7-.9 .6,1 .7,.3 .6,.1 .7,1.7 .7-.6 .6,.2 .7,0 .6-.6 .7,2.7 .6,1.9 .7-.3 .6-2.3 .7,.4v40H88.1Z" stroke-dasharray="282.0 999"/><path d="M87.3,132.6l.6,.2 .7,.1 .7-.6 .6,1 .7-.4 .6,.4 .7,.6 .6,.2 .7,.2 .6,0 .7-.6 .6,.6 .7,0 .6-.3 .7,0 .7,.1 .6,.4 .7,1.2 .6,.2 .7-.5 .6,0 .7-.6 .6-.1 .7,.5 .6,.6 .7,.2 .7,0 .6,0 .7,.5 .6,.2 .7-.6 .6,.4 .7,.2 .6,.7 .7-.2 .6,.3 .7-.3 .6,0 .7,.7 .7-.1 .6-.2 .7,.1 .6-.6 .7,.4 .6,.4 .7,.1 .6,.1 .7,.2 .6,.6 .7,.3 .6,0 .7-.3 .7,.1 .6,.4 .7,.3 .6-.7 .7,1.1 .6,.2 .7,.3 .6-.4 .7-.5 .6,.7 .7,.6 .6-.2 .7-.6 .7,.6 .6-.2 .7,.3 .6-.2 .7,.1 .6,0 .7,.5 .6-.4 .7,.1 .6,.2 .7,1.3 .6,.8 .7-.6 .7-.3 .6,.4 .7-.6 .6-.5 .7-.4 .6,.2 .7-.6 .6,0 .7,.3 .6,.5 .7,0 .7,1 .6-.4 .7,.1 .6-.4 .7,.8 .6,.5 .7-.7 .6-1.7 .7,1.2 .6,1.5 .7-.4 .6-.7 .7-1.4 .7-1.1 .6-.8 .7,.3 .6-1.2 .7-.5 .6-1.2 .7-1.1 .6-.7 .7-1.2 .6-2.2 .7-2.6 .6-1.7 .7-.9 .7-2.1 .6-1.2 .7-2.2 .6-2.9 .7-2.2 .6-1.9 .7-2.1 .6-1.5 .7-1.1 .6-.6 .7,.4 .6,.6 .7,.9 .7,1.3 .6,.6 .7,2.3 .6,1.2 .7,1.5 .6,1.8 .7,1.6 .6,2 .7,1.3 .6,1.6 .7,2.2 .6,1.2 .7,2.1 .7,1.5 .6,1.3 .7,2 .6,2 .7,1.2 .6,2.2 .7,1.8 .6,1.6 .7,1.8 .6,1.2 .7,1.1 .7,1.8 .6,2.1 .7,1.5 .6,.1 .7,.2 .6,.5 .7,.1 .6-.4 .7,.2 .6,.4 .7-.6 .6,.3 .7,0 .7,.4 .6,.5 .7-.5 .6,.5 .7,.1 .6,0 .7-.7 .6-2.8 .7-2.1 .6-1.7 .7-2.9 .6-1.8 .7-2.4 .7-2.2 .6-2.3 .7-1.8 .6-1.7 .7-1.8 .6-1.7 .7,.1 .6,.2 .7,.4 .6,.8 .7,1.3 .6,.7 .7,.9 .7,2 .6,1.3 .7,1.3 .6,1.8 .7,1.1 .6,1.7 .7,.9 .6,.6 .7,2.2 .6,3.9 .7-.7 .6,.1 .7-.6 .7,2 .6,1.3 .7,.4 .6-.5 .7,.7 .6,2.2 .7,.7 .6,.8 .7,1.4 .6,.6 .7-.4 .7-1.5 .6,.7 .7,1.8 .6,.9 .7-1 .6,.5 .7,1.3 .6,1 .7-.3 .6-.1 .7-.7 .6,.7 .7-.7 .7,.7 .6,1.5 .7,1.3 .6-2.3 .7,0v40H87.3Z" stroke-dasharray="273.4 999"/><path d="M86.5,133.2l.6-.1 .7-.2 .6-.1 .7,.1 .7-.1 .6,.5 .7,.9 .6-.3 .7,.4 .6,.3 .7-.1 .6-.4 .7,.2 .6-.1 .7,.7 .7-.2 .6-.3 .7,.8 .6,.8 .7,.3 .6-1.2 .7-.8 .6,1 .7,.2 .7-.1 .6,.2 .7,.4 .6,.4 .7,.6 .6-.4 .7-.1 .6,.2 .7,.4 .7,.5 .6,.3 .7-.8 .6-.4 .7,.8 .6,.2 .7,.2 .6-.3 .7,.5 .6-.3 .7,.4 .7-.5 .6,.6 .7-.3 .6,.7 .7,.1 .6,.1 .7,.5 .6-.1 .7-.5 .7,.4 .6,.4 .7-.1 .6,1 .7-.2 .6,.3 .7-.1 .6-.7 .7-.1 .7,.1 .6,.2 .7,.4 .6-.8 .7,.5 .6,1.2 .7,1.8 .6-1 .7-.9 .7-.4 .6,0 .7,1.1 .6,.3 .7-.7 .6-.3 .7,.8 .6,.8 .7-.1 .6-.4 .7,.1 .7-.2 .6,.7 .7,0 .6-1.2 .7,.8 .6,2.4 .7-.3 .6-2 .7-.3 .7-.3 .6,.9 .7,1.1 .6-1.5 .7,.4 .6,.1 .7-.4 .6,.9 .7,.6 .7-.6 .6-1.5 .7-.8 .6-.1 .7-1.4 .6-1.4 .7-.8 .6-.3 .7-1.4 .6-.4 .7-1.5 .7-1.3 .6-1.5 .7-1.3 .6-1.8 .7-2.1 .6-1.8 .7-1.6 .6-2.1 .7-3 .7-2.1 .6-1.4 .7-1.6 .6-1.5 .7,.2 .6,.3 .7,1.3 .6,.1 .7,1.4 .7,1.8 .6,1.4 .7,.5 .6,2.3 .7,1.4 .6,1.5 .7,1 .6,2 .7,1.4 .6,2 .7,1.6 .7,1.4 .6,1.7 .7,1.3 .6,1.6 .7,2.1 .6,1.2 .7,1.8 .6,1.8 .7,2.1 .7,.5 .6,1.8 .7,1.8 .6,1.9 .7,1.1 .6,0 .7,.5 .6,.8 .7-.4 .7,.2 .6,.5 .7,0 .6-.1 .7,1.1 .6-.9 .7,.5 .6,.5 .7,0 .6,0 .7,0 .7-.3 .6,.7 .7-2 .6-2 .7-2.4 .6-2 .7-2 .6-1.8 .7-2.3 .7-1.1 .6-2 .7-2 .6-2 .7-1.3 .6-.8 .7,.1 .6-.5 .7,.9 .7,1.2 .6,1.9 .7,.4 .6,.5 .7,1.7 .6,1.1 .7,1.4 .6,1.9 .7,1.1 .7,.8 .6,.7 .7,1.4 .6,.6 .7,1.7 .6,2.5 .7,1.5 .6,0 .7,.5 .6-.2 .7,.6 .7,.3 .6,.5 .7,2.9 .6-1.6 .7,.7 .6,3.2 .7,1.1 .6-2.6 .7-.8 .7,1.6 .6,1.6 .7-.2 .6-.9 .7,.7 .6,.2 .7,.9 .6-.2 .7-.1 .7,.8 .6-.2 .7,.4 .6-.2 .7,2 .6-.2 .7-.5 .6,.4v40H86.5Z" stroke-dasharray="273.8 999"/><path d="M85.7,135.2l.6-.2 .7,0 .6-.4 .7-.1 .6,.1 .7,1.1 .6,0 .7,.8 .6,0 .7-.4 .6,.5 .7-.1 .7-.1 .6,.2 .7,.1 .6,.1 .7,.3 .6,.3 .7-.1 .6,.1 .7-.6 .6,.9 .7-.3 .6,.2 .7-.2 .7,.4 .6,.1 .7,.4 .6,.5 .7,.1 .6-.2 .7-.3 .6,0 .7,.3 .6,.7 .7,.3 .6,.1 .7-.2 .6,.6 .7-.7 .7,0 .6,.7 .7-.3 .6-.1 .7-.1 .6,.1 .7,.2 .6,1.6 .7,0 .6-.6 .7-.2 .6,.1 .7,.4 .7,.2 .6,.3 .7-.2 .6,.2 .7,.8 .6,.1 .7-.1 .6,.3 .7-1.6 .6,.2 .7-.1 .6,.7 .7,.8 .7,.1 .6,.3 .7-.7 .6,.7 .7-.3 .6,.2 .7,.6 .6,2.1 .7-2 .6-.2 .7,.2 .6,.1 .7-.6 .6-.3 .7,3 .7-.4 .6-1.6 .7-.7 .6,1.1 .7,1.6 .6-1.4 .7-.5 .6,1 .7,0 .6-.6 .7-.4 .6,0 .7,.1 .7,.2 .6-.1 .7-.2 .6,.6 .7,0 .6,0 .7-.2 .6-.7 .7-.3 .6-1.3 .7-.7 .6-.1 .7-.3 .6-1.4 .7-.7 .7-1.4 .6-.8 .7-1.9 .6-.6 .7-1.8 .6-1.3 .7-1.9 .6-1.1 .7-1.5 .6-2.4 .7-2.5 .6-1.3 .7-1.4 .7-1.9 .6-1.1 .7,0 .6-.7 .7,.3 .6,.6 .7,1.9 .6,.9 .7,1.4 .6,1.4 .7,1.2 .6,1.2 .7,1.6 .7,1.4 .6,1.6 .7,1.7 .6,1.1 .7,1.5 .6,1.4 .7,1.2 .6,2.1 .7,1.3 .6,1.6 .7,1.8 .6,.7 .7,1.9 .6,1.2 .7,1.3 .7,1.8 .6,1.4 .7,1.1 .6,1.8 .7,.9 .6,.2 .7,.2 .6,.3 .7,.5 .6-1 .7,.7 .6,.4 .7,.1 .7,.2 .6-.1 .7,.6 .6-.1 .7-.3 .6,.6 .7-.3 .6,.5 .7-1.3 .6-1.8 .7-1.5 .6-3 .7-1.1 .7-2.2 .6-1.2 .7-1.8 .6-1.4 .7-2.3 .6-1.7 .7-1.2 .6-1.4 .7,.1 .6,.2 .7,.6 .6,0 .7,1.5 .6,.9 .7,1.3 .7,.2 .6,2.1 .7,.8 .6,.7 .7,1.5 .6,.6 .7,1.6 .6,1.2 .7,1.6 .6,.3 .7,1.1 .6,1 .7,2.3 .7,1.2 .6-.1 .7,.3 .6,.3 .7,.2 .6,1.5 .7,.2 .6-1.3 .7,1.3 .6,1.6 .7,.4 .6,1.6 .7-1.4 .6,.4 .7-.1 .7,.4 .6,2 .7-.5 .6-1.4 .7-.1 .6,.6 .7-1.2 .6,1.1 .7,2.3 .6,2.7 .7,.2 .6-2.7 .7-.9 .7,0 .6-.5v40H85.7Z" stroke-dasharray="263.7 999"/><path d="M84.8,134.4l.7,.4 .6-.5 .7-.1 .7,.5 .6,.5 .7-.4 .6,.6 .7,.5 .6-.1 .7-.5 .6,1.3 .7-.6 .7,0 .6,.6 .7,.1 .6-.4 .7,.7 .6,.3 .7-.5 .6,.3 .7,.3 .6-.5 .7,.3 .7,.1 .6-.8 .7,.7 .6,.2 .7,.6 .6,.4 .7,.1 .6,.2 .7,0 .6,0 .7,.4 .7,.2 .6-.1 .7,.7 .6-.8 .7,1 .6,0 .7-1.1 .6,.7 .7-.3 .7,0 .6,.2 .7,.1 .6,.6 .7,1 .6,.2 .7-.2 .6-.1 .7-.2 .6-.3 .7,.5 .7,.5 .6,.6 .7-.5 .6,.5 .7-.2 .6,0 .7-.5 .6,.1 .7,.1 .6,.2 .7-.5 .7,.1 .6,.5 .7,.5 .6-.5 .7,.5 .6,.2 .7,.5 .6-1 .7,.2 .7,.8 .6,.3 .7,.9 .6,.2 .7,.5 .6,.1 .7,.3 .6-1.3 .7-.9 .6-.1 .7,1.2 .7-.5 .6-.8 .7,2 .6,3.1 .7,.7 .6-1.8 .7-.9 .6-1.6 .7,1.1 .7,.4 .6-.9 .7,.6 .6,1.1 .7-1.7 .6-.7 .7,.5 .6-.3 .7-.2 .6-1.3 .7-1 .7-.9 .6-.2 .7-.5 .6-1 .7-.4 .6-.8 .7-1.1 .6-1.7 .7-1.3 .6-1.4 .7-2 .7-1 .6-1.6 .7-2.1 .6-1.5 .7-1.5 .6-1.4 .7-1.5 .6-1 .7,0 .7,.5 .6,.5 .7,.2 .6,1.1 .7,1.4 .6,1.7 .7,1.2 .6,.6 .7,1.1 .6,2 .7,1 .7,1.9 .6,1.3 .7,.7 .6,1.6 .7,1.3 .6,1.8 .7,1.6 .6,1 .7,1 .6,1.6 .7,1.5 .7,1.2 .6,1.8 .7,1.3 .6,1.2 .7,1.2 .6,.9 .7,1.8 .6,.1 .7,.4 .7,.7 .6,.1 .7,.4 .6-.1 .7-.2 .6,.2 .7,0 .6,.5 .7,.1 .6,.6 .7,.2 .7-.4 .6,.2 .7,.4 .6,.1 .7-1.6 .6-2.2 .7-1.3 .6-1.8 .7-1.2 .6-1.4 .7-1.7 .7-1.6 .6-1.6 .7-1.3 .6-2.3 .7-1.3 .6-.1 .7-.6 .6,1 .7-.1 .7,.7 .6,1.5 .7,.8 .6,.8 .7,1 .6,1.4 .7,.8 .6,1.1 .7,.6 .6,1.8 .7,.2 .7,1.3 .6,3.3 .7,.6 .6-.4 .7,1.2 .6,.9 .7,.4 .6,1.1 .7,1.5 .7,.2 .6,.2 .7,1.6 .6-.2 .7-.4 .6-.5 .7,.2 .6,.7 .7,.9 .6,1.9 .7-1.6 .7-.1 .6,1.2 .7,1.8 .6-2 .7-1.2 .6,.1 .7,1.2 .6-.3 .7,1.3 .6,.1 .7-.9 .7,.7 .6,.7 .7-.3 .6,1.4 .7,.6v40H84.8Z" stroke-dasharray="257.2 999"/><path d="M84,135l.7,.1 .6,.3 .7,.1 .6-.4 .7,.2 .6,.8 .7,.3 .6,.5 .7-.3 .7-.1 .6-.2 .7,.6 .6,.2 .7,0 .6-.7 .7,1 .6-.9 .7,.7 .6,.5 .7-.2 .6,.2 .7,.6 .6-.2 .7-.6 .7,.4 .6-.2 .7,1 .6-.4 .7,.9 .6,.3 .7-.3 .6,0 .7,.5 .6-.7 .7,.5 .6,.1 .7,.6 .6-.3 .7,.8 .7,0 .6-.4 .7-.3 .6,.2 .7,.5 .6,0 .7,0 .6,.1 .7-.1 .6-.1 .7,.5 .6,.6 .7,.1 .6-.6 .7,.2 .7,.1 .6,0 .7,.3 .6,.3 .7,.2 .6,.4 .7-.5 .6,.8 .7-.9 .6,.2 .7,.3 .6,.4 .7,.3 .6,.8 .7-.5 .7,.3 .6-1 .7-.7 .6,1.2 .7,.9 .6-.4 .7-.1 .6,.1 .7,.9 .6-1.2 .7,.1 .6,1.3 .7,.3 .6-1 .7,.3 .7,.1 .6,.1 .7,1.4 .6,.4 .7,.2 .6-.9 .7-.9 .6,1.2 .7,1.2 .6-1.6 .7-.1 .6-.5 .7,.4 .6-.6 .7,0 .6,.9 .7-.4 .7-1.1 .6-.4 .7,0 .6,.5 .7-1.1 .6-.3 .7-.7 .6-.6 .7-1 .6-.9 .7-1.5 .6-1.1 .7-1.4 .6,.2 .7-1.7 .7-2.3 .6-1.3 .7-1.3 .6-1.6 .7-1.3 .6-.8 .7-2.7 .6-.1 .7-.5 .6,.6 .7,1.1 .6-.3 .7,.5 .6,1 .7,1.4 .7,.6 .6,1.2 .7,1.9 .6,1.2 .7,1.1 .6,.8 .7,1.9 .6,1.5 .7,1.1 .6,.8 .7,1.4 .6,.9 .7,.8 .6,1.3 .7,1.2 .7,1.3 .6,1.4 .7,1.9 .6,2 .7,.7 .6,.8 .7,.8 .6,1.4 .7,1.2 .6,0 .7,.1 .6,.4 .7,.8 .6-.4 .7,.8 .7-.6 .6,.3 .7,.3 .6-.3 .7-.2 .6,.7 .7,0 .6,.3 .7,.8 .6-.7 .7-1 .6-1.4 .7-1.8 .6-.5 .7-2.3 .7-1.4 .6-.6 .7-1.9 .6-1.5 .7-.9 .6-1.3 .7-1.2 .6-1 .7-.4 .6,.1 .7-.1 .6,1.4 .7,.2 .6,.8 .7,1.3 .7,.6 .6,.7 .7,1.1 .6,1.3 .7,.1 .6,.6 .7,1.8 .6,.9 .7-.1 .6,1.2 .7,.7 .6,.5 .7,1.7 .6,.6 .7,1.5 .7,1.7 .6,0 .7-.5 .6,.8 .7-.2 .6,.4 .7,1 .6,0 .7,.7 .6,4.4 .7-3 .6-1.4 .7,1.9 .6-1.2 .7,0 .7,.6 .6,.7 .7,.3 .6,.8 .7-1 .6-1 .7,.3 .6,2.5 .7,2.5 .6,.4 .7-1.9 .6,2.5 .7-1.4 .6-1.6v40H84Z" stroke-dasharray="254.5 999"/><path d="M83.2,136.5l.7-.4 .6-.2 .7,.3 .6,.3 .7-.4 .6,.6 .7,.2 .6,.8 .7,0 .6-.2 .7,.3 .7-.1 .6,.6 .7-.6 .6-.2 .7,.1 .6,.4 .7,.6 .6,.2 .7-.2 .6-.2 .7,0 .7,.1 .6-.1 .7,0 .6,.8 .7,.2 .6,0 .7,1 .6-.5 .7,.2 .6,.5 .7-.1 .7,0 .6,.1 .7,.5 .6,.1 .7,.3 .6-.2 .7,0 .6,.2 .7,.2 .6-.5 .7-.3 .7,.7 .6,.7 .7,.8 .6,0 .7-.1 .6,.1 .7-.1 .6-.6 .7-.2 .6,1 .7-.6 .7,.9 .6,0 .7,.6 .6,.6 .7-.7 .6-.8 .7,.9 .6-.6 .7-.1 .6-.6 .7,.2 .7,1 .6,.6 .7,.7 .6-1.3 .7,.4 .6,.4 .7,.6 .6,.8 .7-2.4 .6-.1 .7,1.9 .7,1.4 .6-.5 .7-.3 .6,.2 .7,.5 .6-.3 .7,0 .6-.2 .7,.5 .6,.9 .7-1.4 .7-.3 .6,.1 .7-.2 .6,.1 .7-.2 .6,.5 .7-.2 .6,.8 .7,1.8 .6-1.5 .7,0 .7,.4 .6,.2 .7-.5 .6-1.3 .7-.5 .6-.2 .7,.1 .6-.7 .7-.1 .6-.5 .7-1.9 .7-.3 .6-.8 .7-.7 .6-1.8 .7-.9 .6-.7 .7-1.4 .6-1.7 .7-1.3 .6-.9 .7-1 .7-1.8 .6-.9 .7-1.1 .6-.4 .7,.6 .6,.5 .7,1 .6,.9 .7,.5 .6,1 .7,1.2 .7,1.3 .6,1 .7,.9 .6,1.5 .7,1.4 .6,.6 .7,.8 .6,1.7 .7,1 .6,1 .7,1.5 .7,.1 .6,1.8 .7,1 .6,1 .7,1.8 .6,1 .7,.7 .6,.9 .7,1.3 .6,.4 .7,1.4 .7,1.2 .6-.2 .7,.4 .6,.7 .7,.4 .6,0 .7-.3 .6,.7 .7,0 .6,0 .7-.3 .7,.1 .6-.2 .7-.4 .6,1.1 .7-.2 .6,.7 .7-1 .6-1.7 .7-1.1 .6-1.3 .7-1.5 .7-1 .6-.9 .7-1.3 .6-1 .7-1.5 .6-1.5 .7-1.5 .6-.2 .7,.5 .6,0 .7,.4 .7,.2 .6,1 .7,.9 .6,1.2 .7,.3 .6,.6 .7,1.5 .6,.7 .7,1 .6,1.9 .7,.2 .7,.4 .6,.1 .7,.5 .6,1 .7,1.1 .6,2 .7,.9 .6-1 .7-.4 .6,2.2 .7,1.9 .7,.6 .6-1.2 .7,0 .6-.1 .7,2 .6,1.9 .7-.2 .6-2.1 .7-.6 .6-.7 .7,1 .7,1 .6,.3 .7-.2 .6,.3 .7,.2 .6-.4 .7,2 .6-.5 .7,1.7 .6-.1 .7-2.4 .7-.9 .6,.6 .7,2.6 .6,3v40H83.2Z" stroke-dasharray="245.4 999"/><path d="M82.4,136.6l.6,.4 .7,0 .6,.2 .7-.2 .6,.8 .7,.5 .7-.1 .6-.4 .7,.6 .6-.3 .7,.5 .6-.3 .7,.4 .6,.2 .7-.3 .6,.6 .7,.3 .6-.2 .7,.1 .6,.2 .7,0 .6-.2 .7-.5 .7,.8 .6-1 .7,.9 .6,.3 .7-.4 .6,1.3 .7,.3 .6,.2 .7-.5 .6-.1 .7,.3 .6,.1 .7,.6 .6-.3 .7-.1 .6,1 .7-1 .7,.3 .6,.2 .7,.2 .6,.3 .7-.5 .6,.5 .7,.7 .6,0 .7,.7 .6,.1 .7-.2 .6,.4 .7,0 .6,1.8 .7-1.3 .6-.6 .7-.9 .7,1.6 .6,.2 .7-1 .6-.5 .7,0 .6,.1 .7,.3 .6,.3 .7,.1 .6,.8 .7,.8 .6,.5 .7-1.4 .6,.3 .7,1.7 .6-1.4 .7,0 .7-.6 .6,0 .7,1.2 .6,.9 .7-.7 .6,.2 .7,.4 .6,.2 .7,.4 .6,.1 .7,.5 .6,.5 .7-2.4 .6,1 .7,6.2 .6-2.7 .7-2.7 .7,.1 .6,.5 .7,.8 .6-2 .7-.7 .6,.9 .7-.5 .6,1.1 .7,1.9 .6-1.2 .7,0 .6-.9 .7-.5 .6-.3 .7-1.5 .7,.4 .6-.7 .7,.5 .6-1.1 .7-1.1 .6-1 .7-.9 .6-.9 .7-1.3 .6-.4 .7-.7 .6-.6 .7-1.2 .6-1.2 .7-1.2 .6-1.3 .7-.9 .7-.4 .6-1 .7,.1 .6,.7 .7,1.1 .6,.9 .7,.7 .6,1.6 .7,.8 .6-.4 .7,.5 .6,1.9 .7,.4 .6,.9 .7,1.2 .6,.8 .7,.8 .7,.6 .6,1.3 .7,.4 .6,1.8 .7,.4 .6,1.3 .7,1.7 .6,.8 .7,.9 .6,2 .7,.4 .6,.8 .7,.5 .6,.6 .7,.8 .6,.5 .7,0 .7,.6 .6,.9 .7-.2 .6-.6 .7,.2 .6,.1 .7,.7 .6,.1 .7-.3 .6,.3 .7,.2 .6,.1 .7,.1 .6,.2 .7-.8 .6-1.5 .7,.1 .7-1.6 .6-1.1 .7-1.1 .6-.5 .7-1.7 .6-1.2 .7-.8 .6-.8 .7-.8 .6-.6 .7,.4 .6-.5 .7,.5 .6,.4 .7,.7 .6,.5 .7,0 .7,1.1 .6,1 .7,1.1 .6,.7 .7,.6 .6,.6 .7,1 .6,.5 .7,1.3 .6-.6 .7,1 .6,1.3 .7,.5 .6,1.4 .7,.5 .6-1.2 .7-.7 .7,1.2 .6,.5 .7-.3 .6,.6 .7,1.5 .6,.8 .7-.2 .6,.5 .7,5.6 .6-1.7 .7-2.9 .6,0 .7,.1 .6,3.1 .7-1.3 .6-.8 .7-.7 .7-.2 .6,2.3 .7,4.8 .6-2.3 .7-3.8 .6-.4 .7,0 .6-1.4 .7,2.6 .6-.9 .7,.7v40H82.4Z" stroke-dasharray="263.7 999"/><path d="M81.6,138l.6,0 .7-.1 .6-.5 .7,.4 .6-.3 .7,.5 .6,.5 .7,.3 .7,.2 .6,.1 .7,.7 .6-.4 .7,.2 .6-.2 .7,.2 .6-.1 .7,.1 .6,0 .7,0 .6,.2 .7,.1 .7,.2 .6,.2 .7-.1 .6-.4 .7,.6 .6,.6 .7-.6 .6,.4 .7,.1 .6,.1 .7,.3 .7,.6 .6-.2 .7,.6 .6-.5 .7,.1 .6,1.1 .7-.5 .6,0 .7-.4 .6-.1 .7,.3 .6,.4 .7,.7 .7,.1 .6-1 .7,.5 .6,0 .7,.8 .6,.5 .7-.4 .6-.1 .7,0 .6-.1 .7,1.3 .7,.3 .6,.2 .7,.1 .6-1.4 .7,.5 .6,0 .7-.6 .6,0 .7,.9 .6-.4 .7-.3 .6,.2 .7,1.4 .7,.2 .6,1.1 .7-1.1 .6-.1 .7,.8 .6,.3 .7,.3 .6-.7 .7,0 .6,1.3 .7-1 .7-1.4 .6,.1 .7,.6 .6,2.4 .7,.1 .6-1.9 .7,.9 .6-.1 .7,.5 .6,1.2 .7-2 .6,.8 .7,.9 .7-1 .6,1.5 .7-3 .6-.8 .7,2.7 .6,1.9 .7-1.3 .6,.1 .7-2 .6-1 .7,0 .7,.2 .6-.1 .7-.5 .6,.3 .7,0 .6-1 .7-1.7 .6,.1 .7-.3 .6-1 .7-.2 .7-1.1 .6-1.3 .7-.4 .6-1 .7-.9 .6,0 .7-.8 .6-.6 .7-.7 .6-.2 .7-.1 .6,.8 .7,.6 .7-.2 .6,1.1 .7,.5 .6,.3 .7,1 .6,1.6 .7,.3 .6,1.5 .7,.7 .6,.5 .7,.7 .7,.8 .6,1.3 .7,0 .6,.9 .7,.5 .6,1.5 .7,.4 .6,.8 .7,.6 .6,1.5 .7,.6 .6,.9 .7,.7 .7,.7 .6,.6 .7,1 .6-.9 .7,1.2 .6,1.3 .7-.9 .6,.3 .7,0 .6,.1 .7-.3 .7,.3 .6,.2 .7,0 .6-.1 .7-.3 .6,.2 .7,.3 .6,.5 .7-.5 .6-1 .7-1.6 .6-.8 .7-.6 .7-1 .6-.8 .7-.1 .6-1.3 .7-.8 .6-.1 .7-1.2 .6-.4 .7,0 .6,.1 .7,1 .7-.2 .6,.9 .7,.2 .6,.1 .7,.7 .6,.8 .7,.5 .6,1.1 .7,.5 .6,1 .7,.4 .6,.5 .7-.1 .7,1 .6,1 .7,1.6 .6,.4 .7-.7 .6,1.3 .7,.1 .6-1.4 .7,.7 .6,1.3 .7,0 .7-1.5 .6,2.1 .7,1.8 .6,.1 .7-1.8 .6,1.2 .7,0 .6,.1 .7,1.5 .6,.4 .7,.4 .7-1 .6,2.1 .7-2.5 .6-.9 .7,1.4 .6,.4 .7,.5 .6,1.2 .7-.3 .6-2.1 .7-.6 .6,1.6 .7,1 .7-.4v40H81.6Z" stroke-dasharray="238.1 999"/><path d="M80.7,138.5l.7-.1 .7,0 .6,0 .7,0 .6,.5 .7,.6 .6,.5 .7,.4 .6,1.1 .7-.9 .7-.2 .6-.1 .7-.5 .6,.3 .7-.2 .6,.2 .7-.1 .6,.6 .7,.9 .7-.5 .6-.1 .7-.2 .6,.5 .7,.3 .6,.2 .7,0 .6,0 .7,.1 .7,.1 .6,1 .7-.4 .6,.1 .7-.2 .6,1 .7-.3 .6-.1 .7,.5 .6-.2 .7,1.1 .7-1.1 .6,.5 .7,.2 .6-.1 .7-.1 .6,1.1 .7-.2 .6-.7 .7,1.2 .7,0 .6-.3 .7-.1 .6,1.5 .7-.3 .6-.3 .7,.2 .6,.6 .7-.6 .7,.4 .6,1.1 .7,.6 .6-.9 .7-.7 .6-.6 .7-.8 .6,1.5 .7,.4 .7,0 .6,1.7 .7,.8 .6-1.5 .7-.4 .6-.6 .7,.7 .6,.5 .7-.3 .7-1.3 .6,.9 .7-.1 .6,1.5 .7,2.1 .6,3 .7-2 .6-1.4 .7-.1 .7-.8 .6,.3 .7-1 .6-.2 .7,.1 .6,2 .7,.9 .6-1 .7,1.2 .7-1.6 .6-.1 .7,.2 .6,.7 .7,2.1 .6-1.6 .7-.9 .6,1 .7-1.8 .7-.3 .6,2.3 .7-1.6 .6-.7 .7-1.2 .6,.5 .7-.4 .6-.3 .7,.7 .7-1.1 .6,.1 .7-.4 .6-.6 .7-1 .6-.8 .7-1.1 .6,.7 .7-.4 .7-1.1 .6-1.3 .7-.4 .6-.8 .7-.1 .6,.4 .7,.9 .6,1.4 .7,1.1 .6-.5 .7,.2 .7,.1 .6,1.1 .7,.6 .6,1.4 .7,.5 .6,.4 .7,.7 .6,.3 .7,.1 .7,1.3 .6,.5 .7,.6 .6,.7 .7,.1 .6,1.4 .7,.8 .6,.8 .7,.5 .7,.6 .6,.7 .7,.3 .6,.2 .7,1.3 .6,.4 .7-.3 .6,.7 .7,.4 .7,1.5 .6-1 .7-.2 .6,.2 .7-.3 .6-.2 .7,1 .6-.5 .7,.2 .7,.1 .6,.3 .7,.5 .6-.4 .7-.6 .6-1.1 .7-.3 .6-.2 .7-.9 .7-.7 .6-.7 .7-.8 .6-.5 .7-.2 .6-.3 .7-.2 .6-.5 .7-.4 .7,.5 .6,1.2 .7-.2 .6,.4 .7,.2 .6-.2 .7,1.4 .6,.8 .7,.6 .7-.1 .6,.2 .7,.8 .6,.8 .7,1 .6,.7 .7,.6 .6-.3 .7,0 .7,1.4 .6,2.5 .7-2.5 .6-.9 .7,.2 .6,1.5 .7,.3 .6-1.7 .7-.8 .6,2 .7,1.9 .7,2.5 .6-3 .7,.2 .6,1.5 .7,1.5 .6-.4 .7,.1 .6,.8 .7-1.1 .7-1.1 .6,3.4 .7,1.4 .6-2.4 .7-.5 .6-1.3 .7,1 .6,.3 .7,.5 .7-.2 .6,.8 .7-2.4 .6-1.3v40H80.7Z" stroke-dasharray="249.4 999"/><path d="M79.9,137.8l.7-.4 .6,.2 .7-.1 .6,1.3 .7,0 .6-.5 .7,.5 .7-.4 .6,.5 .7,.9 .6-.4 .7,0 .6-.4 .7,.6 .6,.2 .7,.1 .6,.4 .7,.7 .6,1.1 .7-.8 .7-.9 .6,.7 .7-.1 .6,.6 .7-.7 .6,.4 .7,.9 .6,0 .7-.5 .6,.4 .7,.2 .6,1.8 .7-1.4 .7-.3 .6-.2 .7,.2 .6,.4 .7,.4 .6,.1 .7-.1 .6-1 .7,.1 .6,.6 .7,.3 .6,1.7 .7-.9 .7,0 .6,.1 .7,.4 .6-.3 .7,0 .6,.4 .7-.3 .6,.6 .7,.3 .6,.3 .7-.7 .6-.5 .7,.7 .7,.1 .6,.4 .7,0 .6,.3 .7-.8 .6-.5 .7,.5 .6,.9 .7,2.4 .6-.9 .7,1 .7,0 .6,.3 .7-.2 .6-1.3 .7-.7 .6,.2 .7,1.1 .6,1.5 .7,1 .6,.9 .7-2.4 .6-1.1 .7,0 .7-.7 .6,1.1 .7-.7 .6,.8 .7,1.5 .6,1.4 .7-1 .6-.4 .7,.6 .6,.1 .7,1.2 .6,1.7 .7-2.3 .7-1.5 .6-.3 .7,1.9 .6,4.7 .7-3.3 .6-1.5 .7,0 .6-1.3 .7-.2 .6-1.1 .7,.3 .6-.1 .7,.4 .7-.5 .6-.5 .7-.1 .6,1.1 .7,.2 .6,.3 .7-2.8 .6,0 .7,1.2 .6-.5 .7-.1 .6-.2 .7-1.4 .7-1.3 .6,.6 .7-.2 .6,.2 .7,.2 .6,.9 .7,1.3 .6,.4 .7-.4 .6,.1 .7,.3 .6,.5 .7-.6 .7,1.3 .6,.4 .7,1 .6,.3 .7,.4 .6,.7 .7,.7 .6,.4 .7,.4 .6,.6 .7,.6 .6,.5 .7,.4 .7,.3 .6,1 .7-.1 .6,0 .7,1.4 .6,.8 .7,.9 .6-.1 .7-.4 .6,0 .7,.4 .6-.8 .7,1.1 .7,1.2 .6-.4 .7-.1 .6-.3 .7,.4 .6,.1 .7,.3 .6-.7 .7,.1 .6,0 .7-.1 .6-.8 .7,.1 .7-.2 .6,.3 .7-1.4 .6-.3 .7-.7 .6-.3 .7-.7 .6,.3 .7-.7 .6,.6 .7,.4 .6-.7 .7,.3 .7,.4 .6,.7 .7-.4 .6,.4 .7,.7 .6,1.6 .7,.5 .6,.3 .7-.5 .6-1.1 .7,1 .6,1.6 .7-1.9 .7,1.2 .6,.9 .7-.7 .6,1.8 .7-.2 .6-.1 .7,1.1 .6,4.4 .7-1.9 .6-3.3 .7-.6 .6,1.4 .7,.9 .7-.2 .6,.9 .7-1.1 .6,.2 .7-1.2 .6,1.9 .7-.1 .6,2.4 .7,1.9 .6-1.2 .7-2.1 .6,1.2 .7-.1 .7-.2 .6,.4 .7-.8 .6,.7 .7,1.6 .6,4.3 .7-1.5 .6-1.5 .7-1.6 .6-.4 .7,2.5v40H79.9Z" stroke-dasharray="256.6 999"/><path d="M79.1,138l.7-.6 .6,.1 .7,.5 .6-.2 .7,1 .6,.1 .7,.8 .6,.6 .7-.7 .7,.7 .6-.1 .7,.4 .6-.1 .7-.5 .6,.5 .7,.3 .6-.7 .7,.5 .7,.5 .6-.9 .7,.6 .6,.5 .7-.4 .6-.1 .7-.5 .6,.3 .7,1 .6,.7 .7,.5 .7-.7 .6,.7 .7-.5 .6,0 .7,.2 .6,.4 .7,.3 .6-.2 .7,.4 .7-.3 .6,.4 .7-.2 .6,.3 .7,.1 .6-.7 .7,.4 .6-.1 .7,.1 .7,1 .6,0 .7,.1 .6,.8 .7,.4 .6-.5 .7,.3 .6-.4 .7,.5 .6-.6 .7,1.8 .7-.8 .6,0 .7,.3 .6-.3 .7-.3 .6,0 .7,1.2 .6,.4 .7,1.3 .7,2 .6-1.7 .7-2.2 .6-.7 .7-.6 .6,.9 .7,.3 .6,1.1 .7,.5 .6,.6 .7,2.3 .7,1.4 .6-2.1 .7-3.2 .6-.2 .7,2.4 .6,1.7 .7-1.8 .6-1.8 .7-.5 .7,1.5 .6,3.6 .7,1.9 .6-2.9 .7,1.1 .6,2.6 .7-2 .6-1.9 .7-1 .7,1.8 .6,1.1 .7-.9 .6-1.8 .7,.3 .6,.8 .7-.6 .6-.8 .7,.8 .6,.8 .7-.3 .7,.1 .6-.4 .7-1.3 .6,.6 .7,1.6 .6-.2 .7-1 .6-.3 .7-.2 .7-.5 .6,.9 .7,.5 .6-1.2 .7-1.1 .6,1.2 .7-.8 .6,.5 .7-.7 .6-.6 .7,1.4 .7,1.9 .6-1.6 .7-.1 .6,1.1 .7-.2 .6,.4 .7,.2 .6,.6 .7,.3 .7,.1 .6,.3 .7,1.3 .6,1.1 .7-.9 .6,.2 .7,.8 .6-.7 .7,.4 .6,.5 .7,.7 .7,.6 .6,1.5 .7-.2 .6,0 .7,.4 .6-.6 .7,.9 .6,.2 .7,0 .7,.4 .6-.1 .7,0 .6,.6 .7,.3 .6,0 .7-.1 .6,.5 .7,.4 .7-.4 .6-.9 .7,.7 .6-.1 .7,1.4 .6-.6 .7-.6 .6-.3 .7-.2 .6,.4 .7,1.1 .7-.9 .6-.2 .7-.1 .6-.1 .7-.7 .6,.3 .7,.1 .6-.5 .7,1 .7-.1 .6,.4 .7,0 .6,.2 .7,.5 .6,1.2 .7-.3 .6,.1 .7-.3 .6-.2 .7,.1 .7,.7 .6,.8 .7-.6 .6,.8 .7,3 .6,.6 .7-.1 .6-.6 .7-1.5 .7-.3 .6-.6 .7-2.7 .6,.9 .7,1.9 .6-.8 .7,.5 .6,3.7 .7-.2 .7-3.3 .6,1.8 .7,2.4 .6-2.2 .7-.3 .6,1.9 .7-1.2 .6,1 .7,1.6 .6-.8 .7-1.2 .7,1.1 .6,1 .7,.2 .6-.1 .7-2.7 .6,2.5 .7-2 .6,.5 .7,.3 .7-.2 .6-1.2 .7-.1v40H79.1Z" stroke-dasharray="262.2 999"/><path d="M78.4,138.2l.7-.6 .6,1.1 .7-.3 .6-.2 .7-.3 .6,.3 .7-.2 .6,.1 .7,1 .6,.1 .7-.3 .6,.3 .7,.2 .7-.5 .6,.5 .7,.6 .6-.6 .7,.2 .6,1.4 .7,.2 .6-.3 .7-.1 .6-.2 .7,.4 .6-.1 .7,.7 .6-.5 .7-.6 .7,.7 .6,.2 .7,.3 .6-.5 .7,.3 .6,.6 .7,.2 .6-.3 .7,1.1 .6-.4 .7,.1 .6,.3 .7-.1 .6-.6 .7,0 .7,.1 .6,.9 .7,.8 .6,.1 .7-.5 .6,.2 .7,0 .6-.6 .7,.8 .6,1.2 .7,.1 .6-.8 .7,.1 .6-.3 .7,1.1 .7,.3 .6-.5 .7,0 .6,.1 .7,.3 .6-.5 .7,.9 .6,1.2 .7-1.1 .6-2.1 .7,1.4 .6,1.1 .7,.1 .6,.7 .7-.9 .7-.1 .6-.1 .7,.6 .6-.9 .7-.3 .6,2.2 .7,2.3 .6-2.1 .7,1.2 .6-1.7 .7-.1 .6,.6 .7,.9 .6-1.3 .7,1.3 .7,1.4 .6,.9 .7,2.1 .6-2.2 .7-2.6 .6,.7 .7,.3 .6,.7 .7-2.4 .6-.6 .7,2.3 .6,.6 .7-.8 .6,1 .7-.7 .7-.8 .6-1 .7,1.1 .6,.5 .7-.1 .6,.9 .7,.3 .6-.1 .7,.3 .6,.3 .7,.3 .6,.4 .7,.7 .6-.2 .7-.8 .7,0 .6,.1 .7-.9 .6,.5 .7,.6 .6-.5 .7-.3 .6,.7 .7,1.6 .6,.3 .7-1.1 .6,.4 .7,.8 .7-.4 .6-.1 .7,.4 .6,0 .7,.3 .6-.1 .7,1.1 .6-.1 .7-.3 .6,0 .7,1.5 .6,1.1 .7-.4 .6-1 .7,.2 .7-.2 .6,.5 .7,.8 .6,.3 .7,.5 .6-.5 .7-.7 .6,1.1 .7,1 .6,.8 .7-.8 .6-.1 .7,.3 .6-.7 .7,.3 .7,.5 .6,.1 .7-.1 .6,.2 .7,.1 .6,.8 .7,.2 .6,0 .7,.1 .6,1.1 .7-1.1 .6-.5 .7,.2 .6,.2 .7-.3 .7,0 .6,.4 .7,.4 .6-.7 .7,.3 .6-.3 .7-.4 .6,1.1 .7,.5 .6-.8 .7-.4 .6,1.4 .7-.2 .6,0 .7,.2 .7,.7 .6-.2 .7,.2 .6,1.2 .7-.5 .6,.5 .7,.5 .6,.3 .7,.1 .6-1.7 .7,.6 .6-.2 .7,.1 .6,1 .7,.6 .7,1 .6-.3 .7,.9 .6-.1 .7-2 .6,.4 .7,1.6 .6-.4 .7-.2 .6-.6 .7,1.4 .6,.4 .7-3.9 .6,.3 .7,4.4 .7-1.6 .6,.2 .7,.9 .6-1.3 .7-1.3 .6-1 .7,.6 .6,5.7 .7,3.6 .6-.5 .7-.7 .6-1 .7-2.1 .6,1.2 .7-.6 .7,4.3 .6-1.1v40H78.4Z" stroke-dasharray="249.1 999"/><path d="M77.7,138.5l.7-.3 .6,.4 .7-1 .6,.8 .7,.5 .6,1.2 .7,.2 .6-.7 .7,0 .6-.3 .7,.8 .7-.3 .6-.2 .7,.3 .6-.4 .7,.2 .6,.8 .7,.6 .6,.8 .7,0 .6-.5 .7,.1 .7-.4 .6-.8 .7,.5 .6,.5 .7,.5 .6,.2 .7-.2 .6,.6 .7,.2 .6,0 .7,0 .7,.7 .6,.1 .7-.3 .6,.6 .7-.5 .6,.4 .7,.1 .6,0 .7,.6 .6,.4 .7-.4 .7-.1 .6,.4 .7-.7 .6,.6 .7,.7 .6-.6 .7,.5 .6,.7 .7,.3 .6-.1 .7,.6 .6,.6 .7,.1 .7-.6 .6-.9 .7-.1 .6,0 .7,.4 .6,.4 .7,.1 .6,.3 .7,2 .6-2.6 .7-.4 .7,1.6 .6,2.5 .7-1.7 .6-1 .7-.8 .6,.2 .7,.4 .6,2.1 .7,2.5 .6-1.4 .7-1 .7,1.3 .6,.6 .7,2 .6-3.7 .7-1.3 .6,1.8 .7,.9 .6,.6 .7-.3 .6,1.5 .7,.3 .7-2.5 .6-1.9 .7,0 .6,2.3 .7-.1 .6-.7 .7-.7 .6,1 .7,1.3 .6-.5 .7,3.6 .7,5.1 .6-7.1 .7-3.7 .6,.8 .7,.7 .6,1.1 .7,.5 .6,.5 .7,3.1 .6-1.4 .7-.6 .7-.6 .6,0 .7,1.5 .6,.2 .7-1.5 .6,.4 .7,1.2 .6,.6 .7-1.5 .6-.2 .7-.3 .7,.2 .6-.4 .7,1.1 .6,1.3 .7,.5 .6-.1 .7-.4 .6-.2 .7,.3 .6,.4 .7-.1 .6-.3 .7,0 .7-.1 .6,.7 .7,.8 .6-.6 .7,1.1 .6-.5 .7-.6 .6,.4 .7,0 .6,.7 .7,.1 .7,1 .6-1.3 .7-.2 .6,1.1 .7,.3 .6,.6 .7-.4 .6-.3 .7,0 .6,.5 .7,.3 .7,.3 .6,.8 .7-.5 .6,.3 .7-.1 .6-.2 .7,0 .6-.1 .7,.3 .6,.9 .7,.3 .7-.1 .6-.2 .7-.1 .6-.1 .7-.4 .6,.7 .7,.5 .6,.9 .7-.9 .6,1.2 .7,0 .7-1.1 .6,.2 .7-.1 .6,.8 .7,.5 .6-1 .7,.4 .6,.5 .7,.2 .6,.3 .7-.4 .7,.9 .6,.5 .7,.4 .6-1.1 .7,1.4 .6,.9 .7-.2 .6-1.7 .7-.2 .6,1 .7,.1 .6,.6 .7-2.3 .7,1.2 .6-.3 .7,.8 .6,3.1 .7,.5 .6-1.5 .7-.7 .6-.5 .7-.4 .6,0 .7,1.6 .7-1.3 .6,.1 .7-1.8 .6,.2 .7,5 .6,4.3 .7,1.7 .6-2.5 .7-4.4 .6-4 .7,1.5 .7,1.7 .6,1 .7,1.9 .6,1.2 .7,2.1 .6-4.1 .7-4.3 .6,1.2 .7,5.5 .6,2.8 .7-4.6 .7-1.2v40H77.7Z" stroke-dasharray="295.7 999"/><path d="M77,139.3l.7-.3 .6,1.2 .7-.3 .6-.5 .7,.8 .6,.3 .7,.4 .6,.1 .7,.2 .6-.2 .7,.3 .6,.9 .7-.1 .6-.7 .7,.3 .6,.1 .7,.4 .6-.1 .7,.7 .7,.2 .6-1 .7,.1 .6,.8 .7-.3 .6-.4 .7,.7 .6,.5 .7,.1 .6-.3 .7-.2 .6,.6 .7,.1 .6,.1 .7-.1 .6,.6 .7,0 .7-.4 .6,.5 .7,.6 .6-.1 .7,0 .6-.1 .7,.1 .6,.6 .7,.3 .6,.8 .7,.6 .6,.3 .7-.3 .6-.4 .7,0 .6,.3 .7-.6 .6-.2 .7-.7 .7,1 .6,1 .7-.3 .6,.7 .7,.7 .6,0 .7-.8 .6-.9 .7,.6 .6-.6 .7-.5 .6,1.2 .7-.1 .6,1.7 .7,2 .6,.2 .7-.3 .6,.5 .7-1.5 .7-.4 .6-.7 .7-.6 .6,.9 .7,.5 .6,.5 .7,.2 .6,1.5 .7-1.7 .6-.6 .7,2.2 .6-2.5 .7-1.3 .6,.7 .7,1.4 .6,.9 .7-1.6 .7,.6 .6,.9 .7,1.4 .6,2 .7,1.5 .6-1.5 .7-1.2 .6,2 .7-.5 .6,1.1 .7-3.6 .6-.7 .7,2.1 .6,.2 .7-1.3 .6,.2 .7,1.7 .6-1.2 .7-.5 .7,1.1 .6,1.4 .7-.4 .6,1 .7-.7 .6-.3 .7,.1 .6,.1 .7,.1 .6,.5 .7,.2 .6-.4 .7,.1 .6,1.8 .7-.4 .6-1.6 .7,.4 .6,2.1 .7-.4 .7-1.1 .6,1.1 .7,.3 .6,.9 .7-.9 .6-.2 .7,.3 .6-.3 .7,.1 .6,.3 .7-.2 .6,.8 .7-.2 .6-.4 .7,0 .6,.4 .7,.6 .6-.2 .7,.3 .7,.2 .6,.3 .7,1.1 .6,1.6 .7-1.9 .6-1.1 .7,1 .6-.2 .7,1.3 .6-.6 .7-.2 .6,.6 .7,1.1 .6-1.2 .7-.3 .6,.3 .7-.5 .7,1.4 .6,.7 .7-.5 .6,.2 .7,.1 .6,0 .7-.2 .6,.9 .7-.4 .6,.1 .7,.2 .6-.2 .7,.2 .6,.8 .7-.5 .6,.3 .7-.7 .6,.6 .7,.5 .7-.1 .6-.4 .7,.5 .6,0 .7,.1 .6,.5 .7,.5 .6,1.2 .7-1.6 .6,.5 .7,0 .6,.6 .7,.3 .6,1.3 .7-2.5 .6-1.3 .7,1.3 .6,.5 .7,1.1 .7,.4 .6-.8 .7-2.5 .6,.6 .7,1.7 .6,2.4 .7,7.1 .6-1 .7-3.9 .6-4.4 .7-.6 .6,5 .7,0 .6-1.3 .7-1.2 .6-3 .7,.7 .7,2.7 .6-.7 .7,.3 .6,.1 .7,.3 .6-.8 .7,2.5 .6,3.1 .7-.6 .6-.1 .7-3.8 .6-.1 .7,1 .6-1.2 .7,.6 .6,2.2 .7,2.1 .6-2 .7-1.9v40H77Z" stroke-dasharray="274.6 999"/></g><g fill="#fff" stroke="#505050" stroke-width="0.72" stroke-linejoin="round"><path d="M475.5,86.1l.6-.1 .7-.1 .7,.1 .6,.8 .7-.1 .6,.9 .7,.1 .6,.2 .7,2.2 .6-1.4 .7,.8 .6,0 .7-.4 .6,.3 .7,0 .6,.2 .7,.9 .7,1 .6,.1 .7-.5 .6-.4 .7,1.7 .6-1.7 .7-.2 .6,.7 .7,.7 .6,1.1 .7,1.7 .6-.5 .7,.3 .6-.1 .7-.3 .7,.2 .6-.1 .7,1 .6,.5 .7,.6 .6,.4 .7,.4 .6,.2 .7-.8 .6-1.3 .7,0 .6,.8 .7,.1 .6,1.3 .7-.4 .7,1.1 .6,.8 .7,.7 .6,.1 .7,0 .6-.1 .7,.2 .6,.6 .7,.1 .6,.4 .7,.1 .6,1.4 .7-.6 .6-.8 .7-.1 .6,.7 .7-1.1 .7,1 .6,.8 .7-.3 .6,.2 .7,.7 .6,.2 .7,1.3 .6-.5 .7-1.3 .6,.9 .7,.3 .6,1.1 .7,.5 .6-.3 .7,1.2 .7,.6 .6-.8 .7-1.7 .6-.9 .7,.8 .6-.7 .7-.5 .6,.3 .7-.1 .6,.5 .7,.7 .6-1.3 .7-.3 .6-.8 .7,0 .7,0 .6-.9 .7,.4 .6-1 .7,.2 .6-1.2 .7-2.7 .6-1.1 .7-1.6 .6-2.3 .7-1.7 .6-1 .7-.1 .6-2.4 .7-2.6 .7-1.5 .6-2.8 .7-3 .6-1.5 .7-3.8 .6-1.2 .7-3.7 .6-2.2 .7-3.2 .6-3.5 .7-3.3 .6-3.4 .7-4.2 .6-1.7 .7-1.9 .7-.4 .6,1.2 .7,1.4 .6,1.2 .7,2.4 .6,3.1 .7,3.2 .6,2.3 .7,3.2 .6,2.9 .7,2.8 .6,2.4 .7,4 .6,3.6 .7,2.2 .7,3.1 .6,2.3 .7,2.8 .6,2.3 .7,1.8 .6,1.4 .7,.9 .6,1.3 .7,1.8 .6,.8 .7,.4 .6,1.1 .7,.1 .6,.2 .7,1.3 .7-.5 .6-.3 .7-.6 .6,0 .7,.2 .6-1.7 .7-.7 .6-2 .7-1.5 .6-1.5 .7-2.2 .6-.1 .7-2.6 .6-1.7 .7-2.4 .7-2.2 .6-3.1 .7-1.9 .6-2.4 .7-1.4 .6-2 .7-2.2 .6-1.6 .7-2.2 .6,.4 .7-2.1 .6-1.8 .7,.8 .6,1 .7-.3 .7,1 .6,.8 .7,.2 .6,1.6 .7,.4 .6,2.8 .7,.1 .6,2.2 .7,.9 .6,2.3 .7,1.4 .6,.9 .7,2.1 .6,2.5 .7,2.2 .7,1.9 .6,.7 .7,2.1 .6,2.1 .7,2.9 .6,.7 .7,1 .6,1.9 .7,1.9 .6,1.8 .7,0 .6,1.5 .7,.7 .6,1.3 .7,1.8v40H475.5Z" stroke-dasharray="316.8 999"/><path d="M472,89.1l.6-1.2 .7,.2 .6,.3 .7,.3 .7,.3 .6,1.1 .7,1.1 .6-.3 .7,1.6 .6-.5 .7-.1 .6-.7 .7,1.2 .6-.8 .7,.4 .7,1.5 .6-.3 .7,.4 .6,.9 .7,0 .6-.6 .7-.9 .6,.6 .7-.1 .7,.4 .6,.6 .7,1 .6,.5 .7,1.1 .6-.7 .7-.3 .6,.5 .7,.5 .6-1 .7,.5 .7,1.2 .6,.3 .7,.7 .6,.5 .7-.4 .6-1 .7-.1 .6,.8 .7,.1 .6-.1 .7,.5 .7,.8 .6,1.4 .7,.4 .6,.7 .7,.1 .6-1.1 .7,0 .6,0 .7,.8 .7,.7 .6-.4 .7,1.1 .6,.6 .7-.6 .6,.5 .7-.1 .6,.1 .7-.4 .6,.3 .7-.2 .7,.4 .6,1.1 .7,.4 .6,.5 .7,.4 .6-.5 .7-.2 .6,.3 .7-.4 .6,.4 .7,.7 .7,.2 .6,.8 .7-.4 .6-.2 .7-.6 .6,.2 .7-1.4 .6-.8 .7,1.1 .6,.2 .7,.8 .7,1.4 .6-1 .7-1.4 .6-1.6 .7-.6 .6,.3 .7,.1 .6-.6 .7-.3 .7-.7 .6-.4 .7-1.3 .6-1.6 .7-2.3 .6-1.6 .7-1 .6-2.1 .7-.8 .6-1.8 .7-1.6 .7-1.5 .6-.9 .7-4.4 .6-3.1 .7-2.2 .6-2.5 .7-3.4 .6-2.3 .7-3 .6-3.5 .7-2.2 .7-4.5 .6-2.1 .7-3.1 .6-2.6 .7-1.5 .6-.9 .7,.5 .6,1.8 .7,2.8 .7,1.4 .6,3.2 .7,2.8 .6,3.4 .7,2.9 .6,3.6 .7,1.8 .6,4.5 .7,3.6 .6,2.2 .7,4 .7,2.2 .6,2.8 .7,2 .6,1.9 .7,1.5 .6,1.8 .7,1.2 .6,2.5 .7,1 .6-.4 .7,1.2 .7,.8 .6,.5 .7,.1 .6,.3 .7,0 .6-.8 .7-.6 .6,.1 .7-.9 .6,.8 .7-1.6 .7-2.4 .6-1.6 .7-2.3 .6-2.1 .7-.5 .6-2.9 .7-1.7 .6-1.9 .7-1.8 .7-2.8 .6-3.3 .7-2.3 .6-2 .7-1.5 .6-3 .7-1.5 .6-1.7 .7-1.3 .6-.9 .7-.6 .7,.6 .6,.3 .7,.5 .6,.8 .7,1.8 .6,.5 .7,1.2 .6,1.4 .7,.9 .6,2 .7,1.3 .7,1.7 .6,1.6 .7,1.4 .6,1.7 .7,3.3 .6,3 .7,1.6 .6,.6 .7,2.4 .7,1.3 .6,2.3 .7,1.2 .6,2.6 .7,2.4 .6,.6 .7,.5 .6,1.2 .7,1.7 .6,.3 .7,.3 .7,.9 .6,1 .7,1.5v40H472Z" stroke-dasharray="316.9 999"/><path d="M468.5,89.9l.6,.4 .7-.3 .6-.8 .7,.6 .6,1 .7,.5 .6,.2 .7,.8 .7,1.3 .6-.3 .7,.4 .6,.7 .7-1.1 .6,.6 .7-.1 .6,.7 .7,.6 .6,.4 .7-.3 .6-.6 .7-.4 .6,.6 .7,.1 .6,.1 .7,.5 .7,.9 .6,1.6 .7-.1 .6,.1 .7,0 .6,0 .7-.2 .6,1.6 .7-.3 .6,0 .7,.3 .6,.8 .7,.3 .6,.4 .7,.6 .7-.5 .6-.3 .7-.6 .6-.7 .7,.9 .6,1.3 .7,0 .6,.1 .7,1.6 .6,.6 .7-.9 .6,.7 .7-.6 .6,.3 .7,.2 .7,1.1 .6-.4 .7,1.1 .6,.5 .7,.6 .6-1.1 .7,.1 .6,.2 .7,.4 .6,0 .7-.7 .6,.1 .7,1.3 .6,.7 .7,.4 .7,.1 .6-1.1 .7,1.3 .6,0 .7,.2 .6-1.1 .7,1.7 .6,.8 .7,1.5 .6-1.2 .7-.9 .6,.2 .7-1.3 .6-.6 .7,.2 .7-.3 .6,0 .7,.7 .6,.1 .7-.5 .6,.1 .7-.1 .6-1.1 .7-1.1 .6-.3 .7-.9 .6,.2 .7-.4 .6-.6 .7-.4 .6-1.8 .7-1.3 .7-1.5 .6-1.3 .7-2.8 .6-2.1 .7-1.4 .6-1.3 .7-1.2 .6-2 .7-4.1 .6-2.1 .7-3.1 .6-2.6 .7-2.9 .6-2 .7-3.2 .7-2.8 .6-3.1 .7-3.8 .6-3.5 .7-3.1 .6-2.4 .7-2.2 .6-1.5 .7,.5 .6,1.1 .7,3.5 .6,2.6 .7,2.5 .6,2.1 .7,3.5 .7,3.1 .6,2.4 .7,4.3 .6,2.6 .7,4.2 .6,2.5 .7,2.1 .6,3.8 .7,2.2 .6,2.8 .7,2.8 .6,1.4 .7,1.6 .6,1.7 .7,1.1 .7,2.1 .6,1.5 .7,.4 .6,.4 .7,0 .6,.8 .7-.2 .6,.3 .7-.1 .6-.9 .7,.1 .6-.7 .7-.8 .6-1.3 .7-1.4 .7-2.4 .6-2 .7-.8 .6-2 .7-2.4 .6-2.2 .7-1.6 .6-3.4 .7-1.6 .6-1.5 .7-2.7 .6-1.9 .7-2.8 .6-2.5 .7-2.2 .6-.8 .7-1.3 .7-1.4 .6-.6 .7,.3 .6,.5 .7-.1 .6,1.6 .7,1.4 .6,.4 .7,.5 .6,1.5 .7,1.4 .6,1.7 .7,1.1 .6,.8 .7,2.2 .7,1.3 .6,2.9 .7,2.2 .6,1.9 .7,1.4 .6,2.4 .7,2.1 .6,2.1 .7,2.4 .6,.1 .7,3.1 .6,1.1 .7,1.7 .6,1.1 .7,1.2 .7,1.1 .6,.4 .7,2.5 .6,.4 .7,.2 .6,1.6 .7,1.3 .6-.2v40H468.5Z" stroke-dasharray="321.2 999"/><path d="M465,92.3l.6,0 .7-.5 .6,.3 .7,0 .6,.3 .7,.5 .6,1 .7,0 .7,1.9 .6-.3 .7,.4 .6-.2 .7,.2 .6,.2 .7-.5 .6,.8 .7,.2 .6,1.5 .7,0 .7-1.1 .6,0 .7-.8 .6,1.3 .7-.3 .6-.1 .7,1.3 .6,3.6 .7,.4 .6-2.1 .7-.2 .7,.4 .6,.2 .7-.5 .6,.4 .7,.2 .6,1.2 .7,.3 .6,.6 .7,.8 .7,.2 .6-1.4 .7-.9 .6,.5 .7-.2 .6,1.4 .7-.1 .6,.5 .7-.6 .6,1.8 .7,0 .7,.3 .6-.2 .7-.5 .6,1.4 .7,.3 .6,.3 .7,.4 .6,1 .7-.2 .6-.5 .7,.4 .7-1 .6-.5 .7,1 .6,.9 .7,.9 .6,.1 .7-.3 .6,1.3 .7-1.3 .6,.6 .7,.5 .7-.9 .6,1.2 .7-.1 .6,.8 .7,.1 .6,.8 .7,1.2 .6-1.6 .7-1.2 .6,1 .7-1.6 .7-.3 .6,.3 .7-.1 .6,.5 .7,.1 .6-.1 .7,.3 .6-1.1 .7-.9 .6-.6 .7-.5 .7-1.5 .6,.2 .7-1 .6,1.6 .7-.3 .6-2.1 .7-1.5 .6-1.8 .7-1.5 .7-1.6 .6-1.9 .7-1.1 .6-3 .7-.7 .6-1.8 .7-3.1 .6-2.2 .7-2.7 .6-2.6 .7-3 .7-3.4 .6-2.5 .7-2.6 .6-3.5 .7-3.2 .6-3.7 .7-3.4 .6-3.6 .7-2.4 .6-1.8 .7-1 .7,1.1 .6,2 .7,1.9 .6,3.2 .7,2.4 .6,4.3 .7,2.5 .6,2.6 .7,3.6 .6,3.1 .7,3.4 .7,2.5 .6,4 .7,3.1 .6,2.8 .7,2.5 .6,3 .7,1.6 .6,1.1 .7,2.4 .6,1.6 .7,2.1 .7,.7 .6,.3 .7,1.5 .6,.2 .7,0 .6-.4 .7,.5 .6,.8 .7-.4 .7,.8 .6-1.5 .7-.6 .6-1.6 .7-.9 .6-1.7 .7-2.2 .6-1.5 .7-1.3 .6-1.1 .7-2.1 .7-2.5 .6-2.1 .7-2 .6-2.8 .7-1.9 .6-2.5 .7-2.5 .6-1.7 .7-2.5 .6-1.8 .7-1.6 .7-.6 .6-1.5 .7-.5 .6-.1 .7,.1 .6,.7 .7,1.1 .6,1.1 .7,0 .6,1.1 .7,1.4 .7,2.1 .6,1.1 .7,1.8 .6,1.7 .7,1.1 .6,2 .7,2.9 .6,1.6 .7,3.4 .6,.9 .7,2.5 .7,2.2 .6,1.9 .7,1.4 .6,2.1 .7,.2 .6,.9 .7,2.9 .6,2.1 .7,1.5 .6,.3 .7,.7 .7,1.2 .6,.9 .7,.1 .6,1.2 .7,.8 .6,1.9 .7,0v40H465Z" stroke-dasharray="333.9 999"/><path d="M461.5,95.2l.6,.1 .7,0 .6-.3 .7,.4 .6,.2 .7,1 .6,.6 .7,.3 .6,1.5 .7-.8 .6,.2 .7-.5 .6,.7 .7-.1 .7,.6 .6-.9 .7,1 .6,.2 .7,1 .6-.1 .7,.7 .6-.2 .7-.2 .6,.4 .7-.7 .6,.8 .7,.5 .6,1.5 .7,.4 .6-.3 .7,.1 .7,.7 .6-.4 .7-.2 .6,1 .7,.6 .6,.3 .7,.2 .6,.4 .7-.4 .6,.8 .7-1.2 .6,.2 .7,.2 .6-.2 .7,.5 .7,1.2 .6,.2 .7,.5 .6,1.1 .7-.7 .6,0 .7,.7 .6-.5 .7,0 .6,.6 .7,.4 .6,.5 .7,.3 .6,.4 .7-.3 .6,.5 .7-.8 .7,.1 .6,.5 .7,1.2 .6-.9 .7,.7 .6,.9 .7-.1 .6,.3 .7-.4 .6,0 .7,.7 .6-.4 .7,.5 .6,.4 .7,.6 .7,.2 .6,0 .7-.8 .6-.6 .7-.5 .6-.1 .7-.2 .6,0 .7,.3 .6,.3 .7,0 .6-.2 .7-.4 .6-.1 .7-1.4 .7-.2 .6-.6 .7-.3 .6,.3 .7,.4 .6-2 .7-1 .6-1.7 .7-2.4 .6-.7 .7-2.1 .6-.7 .7-1.8 .6-1.7 .7-2.4 .6-.7 .7-2.4 .7-3.7 .6-1.9 .7-3.2 .6-2.7 .7-3.9 .6-1.8 .7-3.4 .6-2.7 .7-4 .6-2.7 .7-3 .6-3 .7-2.9 .6-2.3 .7-1.8 .7,.3 .6,1.9 .7,2.2 .6,2.1 .7,3.3 .6,3.1 .7,3.4 .6,3.6 .7,3.6 .6,2.3 .7,3.9 .6,3 .7,3.3 .6,2.6 .7,2.9 .6,2.5 .7,2.7 .7,2.4 .6,3.1 .7-.1 .6,1.7 .7,1.6 .6,1.8 .7,.4 .6,1.1 .7,.1 .6,1.2 .7-.4 .6-.7 .7,1.5 .6-.4 .7-.5 .7,.5 .6-1 .7-1.6 .6-.9 .7-.7 .6-1.9 .7-1.3 .6-2.1 .7-1.6 .6-1.8 .7-1.9 .6-3.2 .7-2.3 .6-2.1 .7-1.7 .7-2.4 .6-2.4 .7-3 .6-.9 .7-2.6 .6-.3 .7-1.7 .6-1.4 .7-1.4 .6,.2 .7,.5 .6,.3 .7,.8 .6,.9 .7,.7 .6,1.8 .7,.9 .7,1.7 .6,.8 .7,1.9 .6,1.6 .7,1.3 .6,2.1 .7,1.9 .6,2.6 .7,1.9 .6,1.2 .7,1.8 .6,2.3 .7,2 .6,1.3 .7,2.6 .7,.6 .6,1.7 .7,1.4 .6,2.7 .7,1.8 .6,.4 .7,1 .6,1.1 .7-.2 .6,1.5 .7,1 .6,.8 .7,1 .6-.3 .7,1.1 .6,1.6v40H461.5Z" stroke-dasharray="321.3 999"/><path d="M457.9,97.2l.7,.2 .7,0 .6-.2 .7,.1 .6,.4 .7,.8 .6-.2 .7,1.7 .6,0 .7,.5 .6-.3 .7,.6 .7-1.1 .6,.2 .7,1.5 .6-.1 .7,.4 .6-.1 .7,.7 .6,0 .7,.8 .6-.6 .7-.4 .7,1 .6,0 .7,.2 .6,.4 .7,1.6 .6-.3 .7,.5 .6,.4 .7,.6 .6-.6 .7-1.1 .7,.9 .6,1.1 .7-.6 .6,.4 .7,1.3 .6-.8 .7-1 .6,.3 .7-.2 .6,1.6 .7,1.1 .7-.2 .6,.7 .7,.6 .6,.2 .7,.5 .6-.3 .7,.6 .6-.9 .7,.6 .6,.9 .7,1.2 .7-.3 .6,.2 .7-.5 .6,.6 .7,.8 .6-1.5 .7,.1 .6-.1 .7-.5 .6,1.1 .7,.5 .7,.2 .6,.9 .7,.6 .6,0 .7-.9 .6,1.1 .7,.6 .6-1.1 .7,.8 .6,0 .7,.9 .7-.1 .6-.6 .7,.7 .6-.3 .7-1 .6-.3 .7-.3 .6,.7 .7,.1 .6-1.1 .7,1.2 .7-1.4 .6-.1 .7,.4 .6-1 .7-1.3 .6,.1 .7-.6 .6,.3 .7-1.1 .6,.3 .7-1.9 .7-1.7 .6-.8 .7-2.7 .6-1.1 .7-1 .6-1.9 .7-1.4 .6-1 .7-2.5 .7-2.6 .6-2.1 .7-4.3 .6-2.4 .7-2.1 .6-2.3 .7-2.3 .6-4.2 .7-3 .6-2.3 .7-4.4 .7-4 .6-2.7 .7-2.2 .6-2.4 .7,0 .6,.6 .7,1.3 .6,2.9 .7,2.5 .6,2.2 .7,3.4 .7,4.3 .6,2.6 .7,2.5 .6,3.4 .7,3.4 .6,3.5 .7,2.8 .6,3.6 .7,2.5 .6,3 .7,1.4 .7,2.1 .6,2.1 .7,1.1 .6,2.8 .7,.6 .6,.1 .7,2.2 .6,.9 .7-.3 .6,1.1 .7-.2 .7-.2 .6,1.2 .7-.2 .6-1.2 .7,.2 .6-1.3 .7-.6 .6-1.9 .7-.6 .6-1.7 .7-2.2 .7-1.1 .6-1.8 .7-1.9 .6-2.2 .7-2.8 .6-.5 .7-3 .6-2 .7-1.8 .6-2.7 .7-2 .7-2.1 .6-1.2 .7-1.9 .6-2 .7-.8 .6-.6 .7,.3 .6,.7 .7-.1 .6,1.1 .7,.6 .7,1.5 .6,.9 .7,1.8 .6,1.7 .7,1.5 .6,.3 .7,1.4 .6,2.1 .7,1.5 .6,2.9 .7,2.1 .7,.8 .6,1.8 .7,1.9 .6,2.3 .7,1.5 .6,2.7 .7,.9 .6,.8 .7,1.9 .6,1.2 .7,1.5 .7,1.5 .6,1.1 .7,1.7 .6,1.4 .7-.6 .6,1.1 .7,.4 .6,1.6 .7,.4 .6,.8 .7,2 .7-.2 .6,.7v40H457.9Z" stroke-dasharray="326.1 999"/><path d="M454.4,99.4l.7,.3 .6-.3 .7-.1 .6,1 .7-.1 .7,.3 .6,1 .7,.4 .6,.6 .7,.5 .6,.2 .7,0 .6,.3 .7-.7 .6,.7 .7,.3 .6,.3 .7,.9 .6,.1 .7-.2 .6-.7 .7,.3 .7-.6 .6,.2 .7,1.7 .6,.8 .7,1.2 .6-.2 .7,.5 .6-.1 .7-1 .6,1.1 .7,.3 .6,.2 .7,0 .6-.4 .7,.9 .7,1.6 .6-.1 .7-.9 .6,.8 .7-.9 .6,.1 .7,.4 .6,.1 .7,.8 .6,.8 .7,.6 .6,.3 .7,.6 .6-.7 .7,.3 .6,1.4 .7-1.2 .7,.6 .6,.1 .7,.2 .6,.8 .7,.2 .6,.1 .7-.2 .6,.4 .7-.1 .6-.2 .7-.4 .6,0 .7,1.8 .6,.9 .7,0 .7-.4 .6,.5 .7-.2 .6,.6 .7,.2 .6-.9 .7,.8 .6,0 .7,1.5 .6-.3 .7-.3 .6-.9 .7-.6 .6,.2 .7,0 .6-.5 .7,.2 .7-.2 .6,.3 .7,.8 .6-1.3 .7-.3 .6-.3 .7-.5 .6-1 .7,.3 .6-.1 .7-.7 .6-.6 .7,.1 .6-1.8 .7-.3 .6-2.3 .7-1.8 .7-1.7 .6-.4 .7-1.9 .6-2.5 .7-.8 .6-1.9 .7-2.7 .6-1.1 .7-3.3 .6-2.6 .7-2.6 .6-2.4 .7-2.8 .6-3.2 .7-2.9 .7-3.3 .6-2.6 .7-4 .6-2.5 .7-3.1 .6-1.5 .7-1.3 .6,.1 .7,1.6 .6,2.6 .7,2 .6,3.6 .7,2.1 .6,4 .7,2.8 .6,2.2 .7,3.4 .7,3 .6,2.9 .7,3 .6,3.8 .7,2.3 .6,3.6 .7,2 .6,1.1 .7,2.5 .6,1.8 .7,1.5 .6,1.5 .7,.7 .6,1 .7,1.2 .7-.1 .6,.9 .7,.7 .6-.2 .7-.1 .6-.4 .7-.6 .6,.9 .7-.8 .6-.7 .7-2.1 .6-1.3 .7-1.3 .6,.2 .7-1.9 .6-1.6 .7-3.3 .7-1.6 .6-2.6 .7-1.1 .6-2.2 .7-2.5 .6-2.1 .7-2 .6-1.7 .7-1.2 .6-2.5 .7-.9 .6-1.8 .7-1.8 .6-.5 .7,.1 .6,.8 .7,.2 .7,.8 .6-.1 .7,1.5 .6,.8 .7,1.2 .6,.7 .7,1.8 .6,1.9 .7,1.6 .6,.8 .7,1.6 .6,3.1 .7,1.1 .6,1.5 .7,1.9 .7,2.3 .6,.9 .7,2.4 .6,1.3 .7,1.2 .6,2.3 .7,1 .6,1.9 .7,2.5 .6-.3 .7,.7 .6,.8 .7,1.2 .6,0 .7,.9 .6,1.4 .7,1.4 .7,.5 .6,.3 .7,1.6 .6,.6 .7,.1 .6,.6 .7,1.4v40H454.4Z" stroke-dasharray="314.1 999"/><path d="M450.9,101.8l.7-.9 .6,.1 .7,0 .6,.7 .7-.1 .7,.8 .6,.4 .7,.8 .6,.9 .7-.2 .6,.1 .7-.4 .6-.1 .7,.1 .6,.5 .7,.2 .7,.4 .6,.3 .7,1.3 .6,.2 .7-1.1 .6,0 .7-.4 .6,1.6 .7-.3 .6,.8 .7-.5 .7,1.2 .6,.5 .7,.4 .6,.3 .7-.1 .6,.1 .7,.6 .6-.5 .7,.3 .6,.9 .7,.7 .7-.4 .6,.7 .7,0 .6-.2 .7-.7 .6,1.1 .7,.4 .6,1 .7-.5 .6-.2 .7,.7 .7,.9 .6,0 .7,.3 .6-.3 .7,.7 .6,.1 .7,.4 .6,.9 .7,.2 .6,.6 .7-.9 .6-.5 .7,.4 .7-.5 .6,1.2 .7,.3 .6,.2 .7,.1 .6,1.3 .7,.8 .6,.2 .7,.1 .6-.6 .7-1 .7,.6 .6,.7 .7,0 .6,.8 .7-.3 .6,.3 .7-.7 .6,.3 .7-.4 .6,.1 .7-.4 .7,.4 .6-.6 .7-.1 .6,.5 .7-.4 .6,0 .7-1 .6-.1 .7-.7 .6-.2 .7-.8 .7,.1 .6-.9 .7-.8 .6,.2 .7-.7 .6-.6 .7-2.4 .6-1.9 .7-.8 .6-1 .7-1.2 .7-1.8 .6-1.4 .7-2 .6-.9 .7-2.8 .6-2.7 .7-2.5 .6-2.6 .7-2.3 .6-4.1 .7-2 .7-2.8 .6-2.9 .7-3.4 .6-3.3 .7-2.2 .6-1.7 .7-2 .6-1.3 .7,1.1 .6,1.2 .7,3.4 .7,3.3 .6,1.8 .7,.8 .6,2.6 .7,3.1 .6,3.7 .7,3.2 .6,3.4 .7,2 .6,2.7 .7,3.5 .7,2.7 .6,3 .7,1.1 .6,2.3 .7,2.6 .6,.8 .7,1.7 .6,.2 .7,1.4 .6,1.2 .7,1.2 .7-.3 .6,0 .7,.6 .6-.5 .7,1.1 .6-.6 .7-.2 .6,.1 .7-1.2 .6-.5 .7-.4 .7-2 .6-1.1 .7-1.7 .6-1 .7-1.7 .6-2.3 .7-2.9 .6-1.9 .7-1.2 .6-2.1 .7-2.3 .7-1.4 .6-3 .7-1.7 .6-1.2 .7-2 .6-1.4 .7-1.2 .6-.7 .7-1 .6-.7 .7,1.7 .7-.4 .6,1.5 .7,.2 .6,.4 .7,1 .6,2 .7,1.3 .6,1 .7,1.9 .6,1.9 .7,1.3 .7,.3 .6,1.9 .7,1.7 .6,2.5 .7,2.4 .6,1.2 .7,1.3 .6,2 .7,2.1 .6,1.4 .7,1 .7,1.6 .6,.5 .7,1.9 .6,1.1 .7,.3 .6,1.1 .7,.5 .6,.9 .7,1 .6,.7 .7,.5 .7,1.2 .6,.6 .7,.5 .6,.8 .7,.5 .6,.3 .7,.9 .6,.7v40H450.9Z" stroke-dasharray="303.3 999"/><path d="M447.4,102.7l.7,.1 .6,.5 .7-.8 .6,1.2 .7,.1 .6-.3 .7,1.1 .6,.5 .7,.4 .6,0 .7,.4 .7-.1 .6,.5 .7,.4 .6,0 .7,.3 .6-.1 .7-.1 .6,.5 .7,.4 .6,.3 .7-.3 .6-1.2 .7,.1 .6,.6 .7,1.9 .6,.2 .7,1.4 .7,.1 .6,.7 .7-1 .6,.7 .7,.5 .6-.5 .7,.3 .6,.4 .7,.7 .6,0 .7,.5 .6,.6 .7-.2 .6,.3 .7-.8 .6-.5 .7,1.3 .7,.4 .6,.1 .7,.9 .6,.5 .7,.7 .6-1 .7,1.2 .6,.1 .7,.1 .6-.1 .7,.1 .6,.5 .7,.4 .6-.2 .7,.9 .6-.4 .7,.2 .7,.1 .6,.3 .7-.4 .6-.8 .7,.8 .6,1.3 .7,.7 .6,.2 .7-1.7 .6,.2 .7,1 .6,1 .7-.2 .6,.4 .7,.6 .7,.6 .6-.1 .7,.3 .6-.7 .7-.4 .6-.8 .7,.1 .6,.6 .7-.3 .6-.5 .7,.1 .6,1.3 .7-.8 .6-.8 .7-.1 .6,.1 .7-1.3 .7-.5 .6,.2 .7-.9 .6,.3 .7-.5 .6-.3 .7-1 .6-1.7 .7-1.2 .6-.8 .7-2.4 .6-2.2 .7,.4 .6-1.9 .7-1.1 .6-1.9 .7-2.5 .7-2 .6-2.4 .7-2.8 .6-3.1 .7-1.4 .6-2 .7-3.1 .6-2.8 .7-2.9 .6-2.6 .7-3.6 .6-1.7 .7-1.2 .6-.1 .7-.8 .6,1.6 .7,1.2 .7,2.2 .6,3.1 .7,3.2 .6,1.6 .7,2.8 .6,2.9 .7,2.8 .6,3.2 .7,2.1 .6,2.4 .7,3.8 .6,1.7 .7,2.3 .6,2.6 .7,1.8 .6,2 .7,.1 .7,1.6 .6,1.7 .7,.8 .6,.6 .7,1.1 .6,.9 .7-.2 .6,.6 .7,.3 .6,0 .7,.1 .6-.5 .7-1.7 .6,.7 .7-1.8 .7-.6 .6-1.5 .7-1.6 .6-.6 .7-1 .6-1.6 .7-2.1 .6-1.4 .7-1.9 .6-1 .7-2.4 .6-2.1 .7-2.2 .6-1.9 .7-2 .6-2.4 .7-.9 .7-2.1 .6,.1 .7-.8 .6-1.1 .7-.2 .6,.2 .7,.7 .6,.5 .7,.6 .6,1.1 .7,.5 .6,1.4 .7,.9 .6,2.1 .7,.3 .6,1.4 .7,.9 .7,1.2 .6,1.6 .7,3 .6,1.8 .7,.5 .6,1.7 .7,2.3 .6,.6 .7,1.5 .6,1.1 .7,2.5 .6,1.2 .7,.3 .6,1 .7,2.2 .6,.9 .7,1.4 .7-.1 .6,.7 .7,.9 .6,.9 .7,.7 .6-.1 .7,1.4 .6,1.2 .7,.7 .6,.8 .7,1.1 .6-.8 .7,.3 .6,1.1 .7-.2v40H447.4Z" stroke-dasharray="296.8 999"/><path d="M443.9,106.4l.7,0 .6-.7 .7,.7 .6-.4 .7,1 .6,.4 .7,.6 .6,.8 .7,.2 .6,1.1 .7-.6 .7,.7 .6-1.2 .7,.2 .6,.2 .7,0 .6,1 .7,.1 .6,1.3 .7,.1 .6-.2 .7-.7 .7-.1 .6,.3 .7,.1 .6,1.5 .7,.5 .6,1.4 .7-.2 .6,.2 .7-.2 .6-.2 .7-.4 .7,.3 .6,1.2 .7,.1 .6,.1 .7,.3 .6,.4 .7-.3 .6,.4 .7,0 .6,0 .7-.9 .7-.2 .6,1.3 .7,.9 .6,.4 .7,.3 .6-.1 .7,.9 .6-.8 .7,.9 .6,.2 .7,.2 .7-.2 .6,.7 .7,.6 .6,.3 .7,.7 .6-.7 .7,.9 .6-1.1 .7,1 .6-.4 .7,.2 .7,.3 .6,.4 .7,.6 .6,.2 .7-.5 .6,.3 .7-.1 .6,.4 .7,.7 .6,0 .7-.1 .7,.8 .6,.4 .7-.7 .6-.5 .7,.2 .6-1 .7,.2 .6,1.2 .7,0 .6-.4 .7,.8 .6-1.1 .7,.2 .7,.1 .6-1 .7-.2 .6-1.1 .7-.2 .6,2.2 .7-1.3 .6-.8 .7-.1 .6-1 .7-2 .7-.9 .6-.9 .7-1.9 .6-1.1 .7-.8 .6-.8 .7-1.4 .6-1.6 .7-.8 .6-2.1 .7-3.2 .7-2.6 .6-1.7 .7-2.4 .6-1.9 .7-2.4 .6-2 .7-2.5 .6-2.6 .7-4.2 .6-2.2 .7-1.7 .7-1.5 .6-.6 .7,1.2 .6,.9 .7,3 .6,1 .7,2 .6,2.2 .7,3.1 .6,2.4 .7,2.7 .7,3.6 .6,1.8 .7,2.6 .6,3.1 .7,3.2 .6,.9 .7,2.3 .6,1.6 .7,1.7 .6,.9 .7,2.7 .7-.3 .6,2.5 .7-.3 .6,1.4 .7,1.2 .6-.3 .7,0 .6,.7 .7-.6 .6,.1 .7-.3 .6,.2 .7-.9 .7-.6 .6-1.7 .7-.5 .6-.5 .7-2.5 .6-.7 .7-1.2 .6-1.1 .7-.9 .6-1.6 .7-2.6 .7-2.2 .6-1.5 .7-.9 .6-2.1 .7-1.9 .6-1 .7-3.2 .6-.9 .7-.2 .6-1.9 .7-1.2 .7,.8 .6-.7 .7-.4 .6,0 .7,1 .6,1.5 .7,.5 .6,.8 .7,1.5 .6,1.8 .7,1.3 .7-.3 .6,1.6 .7,2.4 .6,.8 .7,.8 .6,1.8 .7,1.3 .6,3.2 .7,.2 .6,.8 .7,2.3 .7,1.3 .6,.6 .7,1.1 .6,1.5 .7,1.5 .6,.9 .7,1.9 .6,.2 .7,.9 .6,.3 .7,.5 .7,1.3 .6,.2 .7,.9 .6,0 .7,1.1 .6,.4 .7,1 .6-.2 .7,.4 .6,.9 .7,1 .7,.1 .6,.7 .7-.2v40H443.9Z" stroke-dasharray="290.4 999"/><path d="M443.6,105l.6,.4 .7,.1 .6-.4 .7,.6 .6,.2 .7,.7 .6,.2 .7,.8 .6,1.6 .7-1.3 .7-.1 .6,.7 .7-.3 .6,.9 .7,.2 .6,.2 .7,1.5 .6-.5 .7-.7 .7-.2 .6,.2 .7,.4 .6-.4 .7,1.7 .6-.7 .7,.2 .6,.8 .7,0 .6,.8 .7-.1 .7-.1 .6,1.6 .7-.8 .6-.2 .7,1.5 .6,1.2 .7-.8 .6,1 .7,.6 .6-.8 .7-.2 .7-.1 .6-.2 .7,.3 .6,.5 .7-.4 .6,.2 .7,.7 .6,1.3 .7,.3 .7-.6 .6,0 .7,0 .6,1.3 .7,.2 .6,.5 .7,.2 .6,.7 .7,1.2 .6-1.3 .7,1 .7-.9 .6,.1 .7-1.1 .6,.3 .7,.5 .6,.7 .7,.8 .6,.8 .7,.1 .6,.1 .7-.1 .7-.1 .6,.9 .7-.7 .6,1 .7-.1 .6,.2 .7,.3 .6-.2 .7,0 .7-.9 .6,.3 .7-.3 .6-.2 .7,1.5 .6-.7 .7-.8 .6,.7 .7,.4 .6-1.6 .7-.2 .7,.4 .6,0 .7-.5 .6-.5 .7-.6 .6-.5 .7-.6 .6-.8 .7-.5 .6-1.3 .7-1 .7-1.1 .6-1.7 .7-1.4 .6-2.4 .7-.5 .6-.2 .7-1.3 .6-2.9 .7-2.7 .7-1.2 .6-3.1 .7-2 .6-2 .7-2.3 .6-1.8 .7-2.1 .6-3.3 .7-2.7 .6-2.6 .7-1.2 .7-2 .6-.2 .7,.5 .6,1.1 .7,1.4 .6,2.2 .7,2.3 .6,3 .7,2.1 .6,2.7 .7,2.3 .7,3.1 .6,1.9 .7,2.9 .6,1.9 .7,2.7 .6,3.3 .7,1 .6,2 .7,2.4 .7,1 .6,1 .7,2.3 .6,0 .7,1.1 .6,1.2 .7,.5 .6,.6 .7,.4 .6-.1 .7,0 .7-.6 .6-.2 .7-.6 .6,.5 .7-.8 .6-1.5 .7-.3 .6-.8 .7-2 .6-1.7 .7-.5 .7-1.6 .6-1.2 .7-2.5 .6-1.8 .7-1.7 .6-1.2 .7-2.5 .6-.8 .7-3 .7-1.2 .6-2.2 .7-1.6 .6-.9 .7,.5 .6-.5 .7-1.1 .6,.6 .7,.2 .6,.8 .7,.2 .7,.2 .6,.9 .7,.9 .6,1.4 .7,1.3 .6,.4 .7,.7 .6,1.4 .7,3.2 .6,1.1 .7,.7 .7,1 .6,1.2 .7,1.4 .6,2.1 .7,1.2 .6,.8 .7,2.1 .6,2.5 .7-.3 .7,1.6 .6,.2 .7,1.6 .6,1 .7,1.6 .6-.2 .7,.8 .6,.4 .7,1.2 .6,1 .7,.8 .7,.2 .6,.3 .7,1.2 .6,.9 .7,.1 .6-.6 .7,.3 .6,.7 .7,1.6 .7-.1 .6,.4v40H443.6Z" stroke-dasharray="287.9 999"/><path d="M442.5,106.5l.7,.1 .6,0 .7,.3 .6-.5 .7,1.1 .6,.6 .7,.5 .6,.5 .7,.5 .6,.3 .7,.3 .6-.7 .7-.5 .6,.6 .7,.2 .7,.8 .6,1.7 .7,.8 .6-.2 .7-.7 .6-.6 .7,.6 .6,.1 .7,.5 .6-.8 .7,.3 .6,2.2 .7-.5 .6,.3 .7,.5 .7-.1 .6-.6 .7,1.2 .6,.2 .7-.7 .6,.5 .7,0 .6,.7 .7,.6 .6,.6 .7-.1 .6-.3 .7,.6 .6,0 .7-.4 .7,.3 .6,.3 .7,.6 .6,1.1 .7-.5 .6,.3 .7,.4 .6,.4 .7,.7 .6,.4 .7,.7 .6-1 .7,1.1 .6,.8 .7-.7 .7-.7 .6,.3 .7-.3 .6,1.1 .7,.9 .6,1 .7-.2 .6-1.1 .7,.7 .6,.5 .7-.3 .6,.7 .7-.6 .6,.8 .7,0 .6,.3 .7,.6 .7,.2 .6,.6 .7-1.1 .6,0 .7,.4 .6-.3 .7-.5 .6,.9 .7-.9 .6-.2 .7,.3 .6,.9 .7,.3 .6-1.2 .7,.3 .7-.4 .6-1.7 .7,.3 .6-.8 .7,.3 .6,.4 .7-1.6 .6,.2 .7-1.9 .6-1 .7-1.7 .6-.9 .7-1.2 .6-.8 .7-1.9 .7-1.2 .6-1.4 .7-1.3 .6-2.1 .7-1.5 .6-2.2 .7-1.4 .6-1.9 .7-2.5 .6-2.3 .7-2.3 .6-2.7 .7-3.4 .6-2.3 .7-2.1 .7-1.7 .6-1.4 .7-1.3 .6,.2 .7,1.1 .6,1.7 .7,2.3 .6,2.6 .7,1.7 .6,3 .7,2.1 .6,2.6 .7,2.3 .6,2.7 .7,1.9 .7,3.2 .6,2.7 .7,2.5 .6,1.6 .7,2.2 .6,1.6 .7,1.8 .6,.7 .7,1 .6,1.4 .7,1.3 .6,.4 .7,0 .6,1.2 .7,.6 .6-.4 .7,.2 .7-.1 .6-.1 .7,.2 .6-1 .7,.3 .6-.6 .7-1.2 .6-1.7 .7,.2 .6-1.1 .7-.9 .6-1.7 .7-2.2 .6-2.1 .7-1.6 .7-1.4 .6-1.2 .7-2.4 .6-2.3 .7-1.8 .6-1.8 .7-1.4 .6-.9 .7-.9 .6-.9 .7-.4 .6-.8 .7,.3 .6,.4 .7-1.4 .7,.1 .6,1.6 .7,1.5 .6,.5 .7,.2 .6,1.3 .7,1.4 .6,1.1 .7,1.1 .6,1.3 .7,1.4 .6,1.1 .7,1.3 .6,1.6 .7,1 .7,2.2 .6,.6 .7,2.4 .6,1.7 .7,1.1 .6,1.2 .7,0 .6,1.5 .7,.9 .6,.2 .7,1.8 .6,.5 .7,2.7 .6,.5 .7-.2 .7,0 .6,1 .7,.8 .6,.7 .7,1.3 .6-.4 .7,1.7 .6-.3 .7,.3 .6,.7 .7,1.2 .6-.1 .7-.3 .6,.2v40H442.5Z" stroke-dasharray="286.2 999"/><path d="M441.4,108.6l.7-.1 .7,0 .6,.4 .7-.5 .6,1.1 .7-.2 .6,.5 .7,.2 .6,1.7 .7,.1 .6-.1 .7-.6 .7,.4 .6,.8 .7,0 .6-.3 .7-.2 .6,1.7 .7,.9 .6-.8 .7-.5 .6,.1 .7,1.3 .7-2 .6,.5 .7,1.4 .6,1.3 .7-.4 .6,1.3 .7,.1 .6-.5 .7,.5 .6,0 .7-.2 .7,.7 .6,.8 .7-.7 .6,0 .7,.1 .6,.7 .7-.2 .6,.2 .7-.3 .6,.9 .7,.6 .7-.5 .6,.5 .7,1.1 .6,1.1 .7-.1 .6-1.2 .7,1 .6,1.2 .7-.5 .6,.5 .7,.2 .7-.3 .6,1.3 .7-.7 .6,.6 .7,0 .6,.2 .7,0 .6-1.1 .7,.7 .6,.4 .7-.4 .7,1 .6,.6 .7,.1 .6,0 .7,1 .6-.2 .7-.4 .6,.4 .7,.1 .6,.7 .7-.4 .7,1.1 .6-.3 .7-.4 .6,.3 .7-.3 .6-.3 .7,.2 .6-1.1 .7,1.7 .6,0 .7-.7 .7-.3 .6-.9 .7-.6 .6-.1 .7,.3 .6,.5 .7-.8 .6-.4 .7-.1 .6-.4 .7-.4 .7-2.1 .6-1 .7-1 .6-.9 .7-1.3 .6-.8 .7-1.5 .6-.6 .7-1.8 .6-2 .7-1.9 .7-2 .6-2.9 .7-.9 .6-2.1 .7-1.7 .6-3.9 .7-1.7 .6-2.4 .7-2.7 .6-1.8 .7-2.3 .7-1.9 .6-2.6 .7,.1 .6,0 .7,1.3 .6,2.6 .7,1.3 .6,2.4 .7,2.3 .6,2.7 .7,1.9 .7,3.5 .6,2.5 .7,2.5 .6,2 .7,2.8 .6,2.2 .7,2.4 .6,1 .7,1.9 .6,2.7 .7,.3 .7,2.6 .6,.5 .7,1.5 .6,.4 .7,1.8 .6,1.5 .7-.6 .6-1.1 .7,.8 .6-.2 .7,0 .7-1 .6,.7 .7-.9 .6,.1 .7-.6 .6-1.2 .7-.7 .6-1.2 .7-1.9 .6-.1 .7-1.1 .7-3 .6-1.5 .7-1 .6-.5 .7-1.4 .6-3.8 .7-1.4 .6-1.2 .7-2.4 .6-1.9 .7-1.2 .7-1.9 .6-.3 .7-1.1 .6,.4 .7-.9 .6,1.8 .7-.2 .6,.4 .7-.6 .6,1.1 .7,1.9 .7,.6 .6,1.2 .7,1.3 .6,1.3 .7,.6 .6,2.3 .7,.6 .6,1.6 .7,2.4 .6,.5 .7,1.3 .7,.3 .6,2.5 .7,2.4 .6,0 .7,1.9 .6,1.8 .7,.4 .6,.9 .7,1.1 .6,.9 .7,.4 .7,.7 .6,1.4 .7,.4 .6,1.3 .7,.4 .6-.1 .7,1 .6,.8 .7,1.2 .6,.8 .7-.1 .7-.1 .6,.8 .7,1.6 .6-1.3 .7-.3 .6,1.4 .7,.2v40H441.4Z" stroke-dasharray="292.1 999"/><path d="M440.4,107.1l.6,.3 .7,.7 .7,.1 .6,.7 .7-.2 .6,.3 .7,.8 .6,.5 .7-.2 .6,.7 .7-.1 .6,.3 .7,.3 .6-1 .7,1 .6,1.4 .7-.5 .6-.3 .7,.6 .7,.4 .6-.6 .7,.8 .6-.4 .7,.6 .6,0 .7,.8 .6,1 .7-.7 .6,.9 .7,.5 .6-.3 .7,0 .6,.6 .7-.4 .6,.6 .7-.8 .7,1.1 .6,.5 .7,.6 .6,.4 .7-.7 .6,.4 .7-.2 .6,.4 .7,.1 .6,.3 .7,1.4 .6,1.5 .7,.1 .6-.7 .7,.3 .6-.8 .7,.8 .7,.9 .6-.6 .7,.4 .6,.4 .7,.1 .6,1.3 .7-.1 .6,.3 .7-.7 .6-.1 .7,.3 .6-.1 .7-.3 .6,1.5 .7,.5 .6,1 .7,.3 .7,.1 .6-1.1 .7-1.5 .6,1 .7,.2 .6,.4 .7,.6 .6,1 .7,.8 .6-.6 .7-.2 .6,0 .7-.2 .6-1.2 .7,.3 .6,.7 .7,.1 .7-.2 .6-.1 .7-.2 .6-1.1 .7,.5 .6-.6 .7,.7 .6,.3 .7-.8 .6-.3 .7-.7 .6,.1 .7-1.1 .6-1.3 .7-1.6 .6-.7 .7-1.5 .7-.4 .6-2 .7-.6 .6,0 .7-2.2 .6-2.9 .7-1.7 .6-1.1 .7-2.6 .6-1.6 .7-1.9 .6-2.3 .7-2 .6-2.5 .7-2.8 .6-2.2 .7-2.1 .7-2.3 .6-2.7 .7-1.7 .6-.8 .7,0 .6,2.3 .7,1.9 .6,1.7 .7,2.2 .6,2.2 .7,1.5 .6,2.8 .7,2.9 .6,2 .7,3.7 .6,1.8 .7,1.5 .7,2.9 .6,3.2 .7,2.1 .6,1.5 .7,1.1 .6,1.7 .7,1.2 .6,.8 .7,1.1 .6,1.1 .7,1.1 .6,2.1 .7-1.2 .6,.2 .7,.1 .6,.4 .7,.1 .7,.3 .6-.8 .7,.2 .6-1.1 .7-.9 .6-1 .7-.5 .6-1.5 .7-1.1 .6-2.1 .7-.5 .6-.7 .7-2.2 .6-1.6 .7-1.7 .6-1.5 .7-1.2 .7-1.5 .6-2.3 .7-1.8 .6-1.6 .7-.9 .6-.4 .7-.4 .6-.8 .7-1.3 .6-.2 .7-.8 .6-.1 .7,.8 .6,1.6 .7,.4 .6,.8 .7,.9 .7,.4 .6,.8 .7,.2 .6,2.4 .7,1.8 .6,1 .7,.7 .6,.5 .7,2.8 .6,2.2 .7,.9 .6,1.8 .7,1.7 .6,1.4 .7-.2 .7,1.6 .6,1.3 .7,1.2 .6,.9 .7,.8 .6,.3 .7,1.6 .6,.9 .7-.1 .6,.4 .7,1.6 .6,.2 .7,1.4 .6,.2 .7,.9 .6-.5 .7,1.4 .7,.1 .6,1 .7,.4 .6,.3 .7-.1 .6,.1 .7-.2 .6,.6v40H440.4Z" stroke-dasharray="283.3 999"/><path d="M439.3,110.5l.7,.7 .7,.1 .6-.2 .7,.2 .6,.9 .7,.1 .6,.4 .7,1.8 .6,0 .7-.2 .6,.6 .7-1.6 .6,1.1 .7-.2 .7,.1 .6,.9 .7,.8 .6-.9 .7,2.2 .6-.6 .7-.8 .6-.1 .7,.1 .6,1 .7-.3 .7,1.4 .6,.5 .7-.5 .6,.3 .7,.5 .6,.2 .7-.5 .6,.4 .7,1.6 .6-1.5 .7,.3 .6,.8 .7,.5 .7-.6 .6,.5 .7,0 .6,.7 .7-.9 .6,1.1 .7-.4 .6,.8 .7,.2 .6,.3 .7,1.4 .7-.6 .6,.6 .7-.2 .6,.6 .7-.1 .6,1.2 .7-.3 .6-.1 .7-.1 .6,2.4 .7-.5 .7-.6 .6-.9 .7,.8 .6-.1 .7,.3 .6,1.2 .7,.2 .6-.9 .7,.4 .6,0 .7,1.4 .6-.4 .7-.7 .7,.6 .6,.2 .7,1.4 .6-1.3 .7,.1 .6,1.2 .7,.4 .6-.2 .7-1.5 .6,.5 .7-.4 .7-.5 .6,0 .7,1.2 .6-.1 .7-.4 .6,.2 .7,.2 .6-.9 .7,.1 .6-.9 .7-.3 .6,.1 .7,.5 .7,.2 .6-.6 .7-.9 .6-.4 .7-1.2 .6-2.5 .7-1.2 .6-1.6 .7-.9 .6-1.1 .7,0 .7-2.3 .6-1.9 .7-1.5 .6-2.5 .7-1.7 .6-1.5 .7-2.2 .6-2.5 .7-2.7 .6-1.6 .7-2.1 .6-3.3 .7-2.4 .7-2.2 .6-.7 .7-1.4 .6-1.3 .7,.7 .6,1.1 .7,1.9 .6,3.7 .7,.6 .6,2.4 .7,2 .7,2.9 .6,1 .7,3.8 .6,2.7 .7,1.7 .6,2.9 .7,1.7 .6,2.3 .7,1.8 .6,1.6 .7,2.4 .7,1.5 .6,1 .7,1 .6,1.9 .7,.2 .6,.5 .7,.2 .6,.4 .7-.2 .6-.1 .7,.2 .6,.3 .7,0 .7-.3 .6-.7 .7,.1 .6-.2 .7-1.3 .6-1.3 .7-.9 .6-.7 .7-1.2 .6-2.1 .7-1.6 .7-.4 .6-1.2 .7-1.7 .6-3.3 .7-2 .6-.4 .7-2.1 .6-1.8 .7-1.9 .6-1.1 .7-.8 .6-1.8 .7-.4 .7,.6 .6,.6 .7-1.1 .6,.8 .7,1 .6-.4 .7,.7 .6,.3 .7,1.8 .6,.9 .7,1.1 .7,1.5 .6,1.2 .7,.7 .6,.9 .7,2.1 .6,2 .7,.3 .6,1 .7,2 .6,1.6 .7,1.5 .6,1.3 .7,1.1 .7,.8 .6,1.8 .7,.4 .6,1.1 .7,.5 .6,.7 .7,2 .6-.2 .7,.5 .6,.4 .7,1.5 .7-.1 .6,.8 .7,.6 .6,.4 .7,1.4 .6-.1 .7,.8 .6,.6 .7-.5 .6,.6 .7,1 .7,.9 .6,.1 .7-.3v40H439.3Z" stroke-dasharray="286.4 999"/><path d="M438.3,110.3l.6-.3 .7,.2 .7,.3 .6,.2 .7,1.1 .6-.7 .7,.8 .6,.8 .7,.7 .6,.3 .7-.2 .7-.1 .6,.4 .7-.7 .6,1.2 .7-.2 .6,.6 .7,.2 .6,.5 .7,.6 .7-.2 .6-.2 .7-.4 .6,.3 .7,.1 .6,.7 .7,.5 .6,.2 .7,1.4 .7,.5 .6-.5 .7-.8 .6,.6 .7,0 .6,1.9 .7,1 .6-.3 .7,.6 .7-.5 .6-.9 .7,.5 .6,.3 .7-.6 .6-.1 .7,.6 .6-.1 .7,.9 .7,2.3 .6,1.5 .7-.9 .6-2.3 .7,.5 .6,.8 .7-.4 .6,1 .7,.7 .7,.6 .6,.5 .7-.9 .6-.6 .7,.1 .6,1 .7-.6 .6,1 .7,.3 .7-.5 .6,.2 .7,.5 .6,.2 .7-.1 .6,.7 .7,1.8 .6-.2 .7-1.3 .7,2.1 .6-.6 .7-.6 .6,.1 .7,0 .6,.8 .7-.7 .6-.2 .7,.6 .7-.4 .6-1 .7,.6 .6,.5 .7,.4 .6,.7 .7-1.4 .6,0 .7-.2 .7-1 .6,.3 .7-1.2 .6,.2 .7,.5 .6,.2 .7-.3 .6-.9 .7-1.1 .7-2.3 .6-.6 .7-.3 .6-1.4 .7-1.4 .6-.6 .7-1.6 .6-1.6 .7-1.7 .7-2.3 .6-1.1 .7-2.5 .6-1.5 .7-2.2 .6-2.8 .7-1.7 .6-2 .7-2.2 .6-2.5 .7-2.1 .7-1.7 .6-2.7 .7-.7 .6-1.1 .7,1.7 .6,1.8 .7,.5 .6,2.7 .7,2 .7,2.3 .6,2.5 .7,1.6 .6,2.9 .7,2.1 .6,3 .7,2.6 .6,1.7 .7,2.1 .7,1.5 .6,2.7 .7,1.2 .6,2.1 .7,2 .6,.1 .7,1.7 .6,.8 .7,1.2 .7,1.3 .6-.3 .7-.1 .6,.2 .7,.7 .6-1.3 .7,1 .6,.2 .7-.4 .7-.8 .6,0 .7-1.1 .6-.8 .7-.8 .6-.9 .7-2 .6-1.7 .7-.7 .7-2 .6-1.2 .7-.4 .6-2.1 .7-2.3 .6-.5 .7-2.8 .6-2.3 .7-1.2 .7-.3 .6-1.8 .7-.7 .6-1.6 .7,0 .6-.5 .7,.2 .6,1.2 .7,2 .7-.5 .6,.6 .7,.6 .6-.2 .7,.7 .6,1.4 .7,1.2 .6-.1 .7,1.7 .7,.8 .6,1.6 .7,1.5 .6,1.6 .7,2.7 .6,.9 .7,1 .6,.6 .7,1.6 .7,.6 .6,1.6 .7,.6 .6,1.2 .7,3.1 .6,.9 .7-.4 .6,0 .7,.9 .7,.1 .6,.7 .7,1.1 .6,1.4 .7,1.1 .6,.2 .7,.3 .6,1 .7-.5 .7,1.8 .6,.3 .7,.3 .6,.3 .7-.3 .6,.7 .7-.2 .6,1.1 .7,1.1v40H438.3Z" stroke-dasharray="287.1 999"/><path d="M437.2,110.4l.7,.1 .6,.8 .7-.2 .7,.2 .6,.1 .7,.9 .6-.2 .7,1.3 .6,.4 .7,1 .6-.6 .7-.1 .6-.1 .7,.9 .6-.9 .7,.1 .7,1.1 .6,.2 .7,0 .6,.7 .7,.3 .6-.7 .7,0 .6-.1 .7,.7 .6,1.6 .7,.5 .6-1 .7,.4 .7,.3 .6,.9 .7,.2 .6,.5 .7-.1 .6-.7 .7,.1 .6,1.2 .7,.1 .6-.2 .7-.4 .6,1 .7,1.2 .7-1.9 .6,.6 .7,.6 .6,.6 .7-.1 .6,.6 .7,.7 .6,0 .7-.1 .6,.8 .7,.6 .6,0 .7,.5 .7,.9 .6-.9 .7,.9 .6,.9 .7-.2 .6,.3 .7-.8 .6-.5 .7,.4 .6,.8 .7-.9 .6,.7 .7,.6 .7,0 .6,.2 .7,1.9 .6-.7 .7,.1 .6,1 .7-1.5 .6,.8 .7,0 .6,.9 .7,.8 .7-.7 .6-.4 .7-.7 .6,.4 .7-1.8 .6,1.3 .7,.7 .6-.1 .7,.1 .6-.1 .7-.3 .6,0 .7-1.2 .7-.6 .6,.4 .7-.2 .6-.1 .7-.7 .6,.4 .7,.4 .6-2.3 .7-1 .6,.1 .7-1.5 .6-1 .7-1 .7-.9 .6-1.6 .7-1.4 .6-1.6 .7-1 .6-1.3 .7-2.5 .6-1.2 .7-2.7 .6-1.7 .7-2.2 .6-1.9 .7-1.3 .7-3.1 .6-1.5 .7-4 .6-1.6 .7-2.4 .6-.8 .7-1.3 .6,1.5 .7,1.6 .6,1.9 .7,.8 .6,1.8 .7,3.3 .7,2.9 .6,2 .7,1.7 .6,3.3 .7,1.6 .6,2.3 .7,2.2 .6,1.3 .7,1.4 .6,2.7 .7,2.5 .6,0 .7,1.8 .7,2 .6,1.2 .7,1.8 .6,.1 .7,1.8 .6,.2 .7,1.2 .6-.5 .7,.1 .6,.3 .7-.5 .6-1.2 .7,.6 .7-.7 .6-1 .7,.2 .6-.5 .7-.4 .6-1.4 .7-.1 .6-2 .7-1.6 .6-.8 .7-1.7 .6-2.7 .7-.5 .7-2 .6-1.8 .7-1.5 .6-1.3 .7-3 .6-.4 .7-1.7 .6-.8 .7-.9 .6-.2 .7-.5 .6-.2 .7,.3 .7,.3 .6,.9 .7,.7 .6,.9 .7,.3 .6,.8 .7,0 .6,.7 .7,1.7 .6,2 .7-.2 .6,2.4 .7,.3 .7,1.6 .6,2.2 .7,1.2 .6,.6 .7,2.1 .6,2.9 .7,.5 .6,.6 .7,.7 .6,1.6 .7,.7 .7,1 .6,.2 .7,.5 .6,.7 .7,1.2 .6,.4 .7,0 .6,1.1 .7,1.3 .6-.1 .7,.9 .6,.2 .7,.8 .7-.3 .6,.8 .7,.4 .6,1 .7,.6 .6-.7 .7,.7 .6,.3 .7,1.2 .6,.1v40H437.2Z" stroke-dasharray="281.9 999"/><path d="M436.2,111.6l.6-.5 .7,.1 .7-.5 .6,.3 .7,.3 .6,.6 .7,.5 .6,.8 .7,.6 .6,.4 .7-.4 .6,.4 .7-.5 .7,.4 .6,.8 .7,.7 .6-.6 .7,.8 .6,.3 .7-.9 .6,.8 .7,.8 .7-.3 .6-.3 .7-.2 .6,1.1 .7,.5 .6,1.2 .7-.3 .6,.6 .7,.3 .7-.5 .6,.7 .7,.1 .6,.1 .7,0 .6,.2 .7,.4 .6,1.4 .7-.1 .6,.3 .7-1.1 .7,0 .6,0 .7,.7 .6,.7 .7,.2 .6,.4 .7,1.5 .6,.7 .7-1.9 .7,.1 .6,.8 .7,.1 .6,.1 .7,.5 .6,.7 .7,.6 .6-.3 .7-.3 .7,.6 .6-.9 .7,.5 .6-.8 .7,1.4 .6,.1 .7,.6 .6,.8 .7,1.1 .6-1.1 .7,.4 .7-.2 .6,0 .7,.4 .6,.9 .7-.3 .6-.1 .7,1.2 .6,.1 .7-.1 .7,.5 .6,.9 .7-2 .6-.5 .7-.8 .6,.1 .7,.2 .6-.2 .7,.5 .7,.5 .6-.5 .7-.7 .6-.9 .7,.5 .6-.2 .7-.6 .6,.4 .7-.6 .6-.6 .7,.6 .7-1.5 .6-1.5 .7-1.2 .6-.6 .7-.6 .6-1.9 .7-1.2 .6-1.5 .7-.9 .7-1.9 .6-1.2 .7-1.7 .6-.9 .7-2.7 .6-1.8 .7-2.3 .6-1.5 .7-3.1 .7-2.3 .6-2.6 .7-1.6 .6-2.9 .7-.8 .6-1.3 .7-.5 .6,0 .7,2.7 .6,2.3 .7,1 .7,2 .6,2.4 .7,2.4 .6,1.8 .7,2 .6,2.9 .7,1.5 .6,2.2 .7,2.9 .7,2.7 .6,1.8 .7,1.8 .6,3.2 .7-.2 .6,1.1 .7,.8 .6,1.7 .7,1.1 .7,.9 .6,2 .7-.9 .6,1.3 .7-.3 .6-.2 .7,.1 .6,0 .7-.9 .6,.3 .7-.3 .7-.7 .6-.5 .7-.9 .6-1 .7-1.3 .6-1.5 .7-.7 .6-2.2 .7-.7 .7-.8 .6-1 .7-1.5 .6-1.9 .7-2.1 .6-2.3 .7-.9 .6-.6 .7-1.2 .7-1.5 .6-1.6 .7-1.4 .6,.2 .7-.2 .6-.2 .7,.8 .6-.4 .7,.6 .6,1.2 .7-.1 .7,1.9 .6,.9 .7,0 .6,1.7 .7,.3 .6,1.6 .7,.7 .6,1.6 .7,2.1 .7,.6 .6,3.3 .7,0 .6,.4 .7,1.5 .6,2.4 .7-.6 .6,1.4 .7,1.2 .7,.7 .6,.8 .7,1.1 .6,1 .7,.9 .6,1.1 .7,.9 .6,0 .7,0 .6,.5 .7,2 .7,.4 .6,.1 .7,.2 .6,1.4 .7-.3 .6,.5 .7,.7 .6,.3 .7,.2 .7,.5 .6,.7 .7,.2 .6-.6 .7-.4v40H436.2Z" stroke-dasharray="276.3 999"/><path d="M435.1,112.7l.7,0 .6-.2 .7-.6 .6,1.3 .7,.1 .7,.2 .6,1.5 .7-.3 .6,1.1 .7,.4 .6,.3 .7-.8 .6-.1 .7,.1 .6,.6 .7,1.5 .6-.5 .7,.1 .7-.8 .6,2 .7-1.4 .6,.1 .7,.3 .6,.1 .7,.8 .6,.2 .7,.7 .6-.7 .7,1.1 .6,.2 .7,0 .6,1 .7-.6 .7,.6 .6,.6 .7,.6 .6-.9 .7,1 .6,.6 .7,.2 .6-1.1 .7-.3 .6,.5 .7-.7 .6-.2 .7,1.4 .7,.3 .6,1.8 .7,.9 .6-1.3 .7,.5 .6-.8 .7,.4 .6,.2 .7,.9 .6-.4 .7-.2 .6,.7 .7,1.6 .6,.3 .7-.6 .7-.4 .6-.2 .7,.9 .6,.7 .7,.1 .6-1 .7,.9 .6,0 .7,.9 .6,.2 .7,.1 .6-.7 .7,.9 .7-.7 .6,.9 .7,.1 .6,1.1 .7,.5 .6-.4 .7-.6 .6,.3 .7-.6 .6,0 .7-.3 .6,0 .7,.3 .6,.2 .7,.3 .7-.6 .6-.5 .7,1.4 .6-1.2 .7-.2 .6-1 .7-.3 .6-.5 .7-.6 .6,.7 .7,.7 .6-2 .7-.5 .7-.1 .6-1.3 .7-2.3 .6-1.6 .7-1.1 .6,.3 .7-1.2 .6-1.5 .7-1.9 .6-2.3 .7-1.2 .6-1.8 .7-3.4 .6-1.2 .7-1 .7-3 .6-1.3 .7-3.2 .6-1.4 .7-2.2 .6-2.3 .7-1.3 .6-.1 .7,1.2 .6,.1 .7,1.1 .6,3.1 .7,.4 .7,1.6 .6,2.6 .7,2.7 .6,1.9 .7,2.6 .6,3.2 .7,2.6 .6,.2 .7,2.9 .6,2.2 .7,1.5 .6,1.4 .7,2.2 .7,0 .6,1.4 .7,1.7 .6,1.4 .7,1 .6,.5 .7,0 .6,.8 .7-.1 .6,.7 .7,.9 .6-1 .7,.6 .6-.8 .7-.5 .7,0 .6-.1 .7-1.8 .6-1.5 .7-.9 .6-1.1 .7,.6 .6-1.8 .7,0 .6-3.1 .7-1.6 .6-1.5 .7-1.7 .7-2 .6-1.6 .7-1.1 .6-1.4 .7-1.9 .6-.3 .7,.3 .6-1.4 .7-1.2 .6-1 .7,.8 .6,0 .7-.1 .6,.7 .7,1.4 .7,.1 .6,.2 .7,.7 .6,1.5 .7,.5 .6,.9 .7,.6 .6,1.8 .7,.7 .6,2.1 .7,.9 .6,.3 .7,1.9 .7,.4 .6,2.2 .7,2.1 .6,1.6 .7,.1 .6,.5 .7,.2 .6,2.1 .7,1.3 .6,.6 .7,.8 .6,0 .7,.7 .6,.7 .7,1.4 .7,.2 .6,.8 .7,.5 .6,2.9 .7-1.2 .6-.8 .7,.1 .6,2.1 .7,1.4 .6-.5 .7-1 .6,1 .7,.2 .7,.8 .6-.2 .7-.5 .6,.8v40H435.1Z" stroke-dasharray="283.4 999"/><path d="M434.1,114.1l.6,.1 .7,.5 .6-.1 .7,.5 .7,.3 .6,.2 .7,.3 .6,.7 .7,.3 .6,.8 .7-.6 .6-.1 .7-.3 .6,.9 .7,1 .7,.7 .6-.3 .7-.1 .6,2.2 .7,0 .6-1.5 .7-.7 .6,1 .7,.9 .7,.2 .6,1.2 .7-1.1 .6,.9 .7-.9 .6,1.1 .7,1.2 .6,1.7 .7,.5 .6-1.6 .7-1 .7,.7 .6,.9 .7-.6 .6,1.1 .7-.3 .6,.1 .7-.2 .6-.7 .7,.2 .6,.8 .7,.2 .7,1.3 .6-.1 .7,.7 .6,.2 .7-.7 .6,1.4 .7-1.1 .6,.9 .7,.3 .7,.8 .6-.7 .7,.5 .6,1 .7-.5 .6-1 .7-.1 .6-.1 .7,1.3 .6,.2 .7-.2 .7,.7 .6,.3 .7,0 .6,.7 .7,.4 .6-1.1 .7,1 .6,0 .7,.2 .6,.7 .7,.2 .7-.2 .6,.7 .7-.8 .6-.7 .7,.3 .6,.5 .7,.6 .6-.1 .7,.4 .7-1 .6,.5 .7-.4 .6-.9 .7,.3 .6,.3 .7-.2 .6,2.5 .7-2.2 .6-1 .7-.7 .7,0 .6-.4 .7-.9 .6,.1 .7-1.7 .6-.9 .7-1.2 .6-1 .7-.8 .6-1.2 .7-1.1 .7-1 .6-1.7 .7-1.5 .6-1.8 .7-2.1 .6-2.1 .7-1 .6-1.5 .7-2.5 .7-2.1 .6-2.2 .7-2.4 .6-1.5 .7-2.5 .6,.3 .7-2.2 .6-1.2 .7-.2 .6,2.9 .7,.5 .7,1.2 .6,3.1 .7,2.1 .6,2.5 .7,2.4 .6,1.5 .7,2.9 .6,1.7 .7,2 .7,1.3 .6,3.6 .7,2 .6,.7 .7,1.5 .6,1.8 .7,1.1 .6,.8 .7,0 .6,2.5 .7,1.1 .7,.6 .6,.2 .7-.3 .6,1 .7,.9 .6-.5 .7-.3 .6-.1 .7,.1 .6-.8 .7,.1 .7-1.3 .6-1.5 .7-.3 .6-1.1 .7-.7 .6-.5 .7-1.2 .6-2.5 .7-1 .7-1.1 .6-1.5 .7-1 .6-.8 .7-2.8 .6-1.5 .7-1.5 .6-1.5 .7,.2 .6-.6 .7-2 .7-.3 .6,.1 .7-.3 .6-.2 .7-.2 .6,1.3 .7,1.6 .6,0 .7,1.6 .6-.4 .7,.1 .7,.9 .6,1.4 .7,1.5 .6,1.2 .7,2.1 .6,.6 .7,1.9 .6,.4 .7,1.1 .7,.5 .6,1.9 .7,.5 .6,1.2 .7,1.8 .6,.5 .7,1.3 .6,1.2 .7,.7 .6,.1 .7,1.8 .7-.2 .6,1.1 .7,.7 .6,1.6 .7-.8 .6-.5 .7,1.4 .6,.5 .7,.9 .6-.2 .7,1 .7,.5 .6,.2 .7,.9 .6-.3 .7,.8 .6,.9 .7-1.2 .6,1.8 .7,.4 .7,.3v40H434.1Z" stroke-dasharray="281.0 999"/><path d="M433,114.8l.7,.7 .6-.5 .7-.1 .6,.7 .7,.6 .6,.4 .7,.3 .7,.2 .6,.3 .7,1 .6,.2 .7-.5 .6-.1 .7,.1 .6-.2 .7,.5 .6,.9 .7,.1 .6,.6 .7,0 .6,.1 .7-.3 .7,.3 .6,.5 .7,.3 .6,0 .7-.3 .6,2.2 .7,2.4 .6-1.7 .7-.6 .6,0 .7,.1 .6,.3 .7,.7 .6-1.3 .7,.8 .7,1.1 .6,.1 .7,1 .6-.8 .7,.5 .6,1 .7-.2 .6-.5 .7,1.4 .6-1.3 .7,1.2 .6,.3 .7-.5 .6,.3 .7-.2 .7-.5 .6,1.2 .7,.8 .6-.1 .7,0 .6,0 .7,1.6 .6-1.2 .7-.1 .6,1.5 .7-1.6 .6,.4 .7-.4 .6,1.3 .7,.5 .7-.1 .6,1.1 .7-.4 .6,.4 .7-.2 .6,.8 .7-.9 .6,.7 .7,.4 .6,.8 .7-.2 .6,.7 .7-.7 .6-.2 .7,.1 .6-.2 .7,.9 .7-.6 .6,.9 .7-1 .6,1.1 .7-.1 .6-1 .7,.3 .6-1.1 .7-.7 .6-.2 .7,.7 .6,.3 .7,.1 .6-.7 .7,0 .7-1.2 .6-1.3 .7-.8 .6-1.1 .7-.8 .6-.8 .7-1.5 .6,.2 .7-1.4 .6-.4 .7-2 .6-1.6 .7-2.2 .6-1.8 .7-1.8 .7-.9 .6-1 .7-2.4 .6-3.2 .7-.8 .6-.7 .7-2.6 .6-3 .7-2 .6-.8 .7-2.4 .6,1.7 .7,1.2 .6,2.2 .7,1.9 .7,1.4 .6,1.5 .7,2 .6,1.7 .7,2.5 .6,1.7 .7,3.4 .6,2.2 .7,1.4 .6,1.3 .7,1.4 .6,1.3 .7,2.1 .6,2.3 .7,1.2 .7,.5 .6,1.9 .7,1 .6,.7 .7,0 .6-.2 .7,1.3 .6,.5 .7-.4 .6-.2 .7,.6 .6-.7 .7-.6 .6,1.7 .7-.5 .7-.4 .6-1.3 .7-1.1 .6-.6 .7-1.7 .6-1.9 .7-.3 .6-1.2 .7-1.6 .6-.9 .7-1.2 .6-2.1 .7-1.6 .6-.7 .7,0 .7-2.6 .6-1.9 .7-.7 .6-.3 .7-1.3 .6-1.2 .7-1.2 .6,.9 .7,.9 .6-.1 .7-.1 .6,.4 .7,1.2 .6-.1 .7,1.4 .7,.2 .6,1.2 .7,1.6 .6,2.7 .7,.6 .6,.1 .7,1.5 .6,1.1 .7,1.4 .6,1.1 .7,2.2 .6,.9 .7-.7 .6,.7 .7,1.5 .7,1 .6,1.1 .7,1.4 .6,0 .7,1 .6,2.6 .7,.1 .6,.1 .7,0 .6,1.5 .7,1.8 .6-.1 .7,.1 .6,.6 .7,.3 .7,1 .6,0 .7,.5 .6,.9 .7-.9 .6,.3 .7,.8 .6-.1 .7,.4 .6,.2 .7,.4 .6,.6 .7,1.3v40H433Z" stroke-dasharray="277.4 999"/><path d="M432,116.8l.6-.3 .7,.2 .6,0 .7,.6 .6,0 .7,.7 .7,.8 .6-.1 .7,1.2 .6,.2 .7,0 .6,0 .7,.5 .6-.5 .7-.1 .6,0 .7,.2 .7,1.2 .6,.7 .7-1.2 .6-.1 .7,.8 .6,.4 .7,.9 .6,1.2 .7,0 .6-.7 .7,0 .7-.2 .6-.8 .7,1 .6,.8 .7-.3 .6,.1 .7,.6 .6-.5 .7,.6 .6,.1 .7,1.6 .7-.7 .6,.3 .7,.5 .6-.7 .7,.5 .6-.1 .7,.7 .6,.4 .7-.6 .6,1.9 .7-.6 .7,1.9 .6-.9 .7-.9 .6,.7 .7,.4 .6,.4 .7,1.1 .6-.6 .7,.7 .6,.1 .7-1.2 .7,.5 .6-.5 .7,1.4 .6,.5 .7,.3 .6,.1 .7-.6 .6,.8 .7-.4 .6,2.4 .7,.3 .7-.8 .6-.8 .7-.2 .6,1.8 .7,.8 .6-1 .7-.8 .6,1.9 .7-.9 .6-1 .7,.7 .7-.3 .6-.7 .7,.3 .6,.7 .7,1.5 .6-.6 .7-.5 .6-.7 .7,.1 .6-.2 .7-1 .7-.2 .6,.4 .7-.4 .6-.5 .7,.4 .6-.4 .7-1.2 .6,0 .7-1.2 .6-.8 .7-2 .7-1.7 .6-.7 .7-1.1 .6-.3 .7-2.6 .6-1.4 .7-1 .6-1.1 .7-2.7 .6-.4 .7-1.6 .7-1.5 .6-2.6 .7-1.7 .6-2.6 .7-1.5 .6-2.7 .7-2 .6-.6 .7-.2 .6,1.1 .7,.6 .7,.8 .6,2.3 .7,1.3 .6,1.4 .7,2.1 .6,2.5 .7,3.5 .6,1.8 .7,2.1 .6,2.3 .7,.7 .7,2.2 .6,1.2 .7,2.4 .6,1.9 .7,1.2 .6,1.4 .7,.3 .6,1.6 .7,1.2 .6,1.1 .7,.1 .7,.8 .6,0 .7,.1 .6,1.6 .7-1.4 .6,0 .7-.9 .6,.1 .7,.2 .6-.2 .7-1.6 .7,.2 .6-.5 .7-1.2 .6-1.1 .7-.8 .6-2.3 .7-.3 .6-.4 .7-1.8 .6-1.6 .7-1.3 .7-2.2 .6-1.9 .7-.7 .6-.6 .7-.5 .6-1.5 .7-1.1 .6-1.1 .7-.5 .6,.5 .7-.7 .7-.1 .6,.6 .7,1.4 .6,.7 .7,.1 .6,.4 .7,1.6 .6,1.4 .7,.3 .6,1.4 .7,.3 .7,.5 .6,1.3 .7,.2 .6,1.4 .7,2.5 .6,1.2 .7-.4 .6,1.3 .7,1.8 .6,.1 .7,.9 .7,2 .6,2.8 .7,.8 .6-.5 .7,1.8 .6-.1 .7,.4 .6,.6 .7-.6 .6,2 .7,1.1 .7,.3 .6-.4 .7,.8 .6,.4 .7,.7 .6,.4 .7-.9 .6,.2 .7,1 .6,.6 .7,.1 .7,.1 .6,.3 .7,1.9 .6-.4 .7-1 .6,.5v40H432Z" stroke-dasharray="273.8 999"/><path d="M430.9,118l.7,.1 .6,.4 .7-.1 .6,.1 .7,.5 .6,.6 .7,.1 .6,.9 .7,1 .7,.2 .6-1.1 .7-.1 .6,.6 .7,.2 .6-.8 .7,1.2 .6,.8 .7,0 .6-.2 .7-.1 .6,.7 .7-.3 .6,.5 .7,0 .6-.1 .7,.1 .7,2.3 .6-1.5 .7,.3 .6-.5 .7,1.7 .6,1.6 .7-.1 .6-1 .7,.7 .6,.5 .7-.1 .6-.6 .7,1.6 .6-.4 .7,0 .6-1.5 .7,1.6 .7,1.4 .6-.6 .7-.8 .6,.6 .7,1.2 .6,0 .7,.4 .6-1.2 .7,.3 .6,.2 .7,.5 .6-.1 .7,.8 .6,.6 .7,.9 .6,0 .7,1 .7,.9 .6-2.2 .7,.9 .6-1.4 .7,1.3 .6-.1 .7,.9 .6,.4 .7,1.4 .6,.2 .7-1.2 .6-.5 .7,.3 .6,.2 .7,0 .6,0 .7,1.2 .7,.7 .6-.2 .7-.6 .6,.1 .7,.2 .6,.9 .7-.4 .6,0 .7-1.2 .6-.2 .7,1.9 .6-.7 .7,.1 .6-.3 .7,1.1 .6-1.8 .7-.8 .7-.1 .6-1 .7-.3 .6,.2 .7-.5 .6,.1 .7-1 .6-.9 .7-.9 .6-.9 .7-.4 .6-.5 .7-2.1 .6-1.3 .7-.4 .6-1.2 .7-1.4 .7-2 .6-.5 .7-.4 .6-2 .7-3.2 .6-2.3 .7-1.1 .6-1.3 .7-2.2 .6-1.9 .7-2.1 .6-1.1 .7-1.1 .6-1.2 .7-.1 .7,1.1 .6,1.3 .7,1.4 .6,.8 .7,2.2 .6,2.7 .7,2.2 .6,2.7 .7,1.5 .6,3 .7,1.6 .6,4 .7,1 .6,.9 .7,1.5 .6,2.4 .7,2 .7,.1 .6,1.4 .7-.1 .6,.2 .7,2.2 .6-.4 .7,.3 .6,.4 .7-.8 .6,1.1 .7,.6 .6-.4 .7,.5 .6,.6 .7-1.1 .6-.6 .7-1 .7-1.6 .6,.3 .7-.5 .6-1.5 .7,1.4 .6-2.9 .7-1 .6-1 .7-1.8 .6-.9 .7-1.4 .6-1.4 .7-.9 .6-1.6 .7-1.2 .6-1.1 .7-.9 .7-.9 .6,.3 .7-1.6 .6-.2 .7,.2 .6-.2 .7-.2 .6,.5 .7-.3 .6,1.4 .7,1 .6,2 .7-.3 .6,.6 .7,1.8 .6,.9 .7,.1 .7,2.1 .6-.4 .7,2.1 .6,.3 .7,1.8 .6,1.5 .7,.5 .6,.5 .7,2 .6,1.6 .7,.6 .6,1.4 .7,0 .6,1.2 .7,.2 .6,1.6 .7,.1 .7,.5 .6,1.6 .7-.6 .6-.7 .7,1.4 .6,1 .7-.2 .6,1.1 .7,.2 .6,.3 .7,.9 .6-.2 .7,1.5 .6-.9 .7-.1 .6,1.8 .7,.1 .7-.3 .6,.2 .7,.1 .6-.2 .7,.9v40H430.9Z" stroke-dasharray="276.5 999"/><path d="M429.9,119.3l.6-.5 .7,.7 .6-.6 .7-.4 .6,.6 .7,1 .6,.1 .7,1.2 .7,.3 .6,.2 .7,.1 .6,.4 .7-.9 .6,.8 .7,.1 .6,.2 .7,.2 .6,.4 .7,0 .7-.2 .6,0 .7,.6 .6,.2 .7,.3 .6-.1 .7,.8 .6,.3 .7-.1 .6,.8 .7,.2 .6,0 .7-.8 .7,1 .6,.1 .7,.7 .6-.9 .7,1.8 .6,2 .7-1.6 .6-1.4 .7,.3 .6,.3 .7,0 .7,1.3 .6-.4 .7,.8 .6,.3 .7,1.3 .6,.2 .7-.6 .6,.4 .7-1.3 .6,.8 .7,.1 .7,.8 .6,1.6 .7-.9 .6,.2 .7,1.4 .6-.9 .7-1.1 .6,1.3 .7,.8 .6-1.3 .7,.5 .6-.7 .7,1.9 .7,.2 .6,.9 .7-.6 .6-.4 .7,.8 .6,1.6 .7-.5 .6-.1 .7,.2 .6-.2 .7,.5 .7,1.1 .6-.1 .7-1 .6-.6 .7,.7 .6-1.6 .7,.3 .6-.4 .7,.4 .6,1.1 .7,.9 .6,.1 .7-1.4 .7-1 .6,0 .7-.7 .6-.2 .7,.8 .6-.7 .7,.2 .6-1.2 .7,0 .6-1.6 .7-.7 .7,.2 .6-.9 .7-.9 .6-1 .7-1.5 .6-.9 .7-.9 .6,.2 .7-2.2 .6-2.3 .7-1.2 .7-2.5 .6-1.1 .7-1.4 .6-1.6 .7-1.7 .6-.7 .7-3 .6-2.1 .7-.7 .6-.1 .7-1.3 .6-1.9 .7,.1 .7,.2 .6,1.6 .7,1.2 .6,2.7 .7,2.6 .6,1.3 .7,.6 .6,3.1 .7,2.1 .6,2.6 .7,.8 .7,1.9 .6,2.4 .7,2.3 .6,.9 .7,1.1 .6,1.2 .7,1.4 .6,1 .7,2.9 .6,1.9 .7-1.6 .7-.6 .6,1 .7,.4 .6,.3 .7,.2 .6-.8 .7,.6 .6,.8 .7,0 .6-.2 .7-.4 .6,1.6 .7-1.9 .7-1.6 .6-1.4 .7-.4 .6-.9 .7-.7 .6-1.7 .7-.9 .6-1.6 .7-1 .6,.1 .7-2.9 .7-1 .6-1.3 .7-1.2 .6-1 .7-1.2 .6-.3 .7-1 .6-1.3 .7,.4 .6-.4 .7,.6 .6,.2 .7-.1 .7,.3 .6,1.6 .7,0 .6,.7 .7,.7 .6,.8 .7-.1 .6,2.6 .7,1.9 .6,1.3 .7,.1 .7,.2 .6,2.2 .7,1.4 .6,0 .7,.9 .6,2.3 .7,2 .6,0 .7,.5 .6,.4 .7,2.3 .7,3.8 .6-.5 .7-3.1 .6,.4 .7,1.1 .6,.8 .7-.4 .6,.3 .7,1.4 .6,1.3 .7,.8 .6,.9 .7,.3 .7,1 .6-.1 .7-.4 .6,.4 .7,.8 .6-.6 .7,0 .6,.7 .7,.3 .6-.4 .7,1.7 .7-.1 .6-1v40H429.9Z" stroke-dasharray="279.0 999"/><path d="M428.8,121l.7,1 .6-.8 .7-.2 .6,.3 .7,.9 .6,.6 .7,.5 .7,.1 .6,1.2 .7,.7 .6-1 .7-.3 .6,.3 .7,.6 .6,1 .7-1.2 .7-.3 .6,.1 .7,2 .6-1 .7-1 .6,1.8 .7-.5 .6,.8 .7,.5 .7-1.1 .6,1 .7,.8 .6,.8 .7-.2 .6-1.3 .7,1.2 .6,0 .7,.8 .7-1.1 .6,.3 .7,.9 .6,.6 .7,1.1 .6-.6 .7-.8 .6,1.2 .7,.8 .7-.8 .6,.6 .7,.7 .6,.7 .7-.8 .6,1.7 .7-.4 .6,.6 .7-.5 .7-.5 .6-1 .7,1.1 .6,.1 .7,1.1 .6,1.5 .7,.5 .6-.5 .7-.5 .7-.1 .6-.8 .7,.5 .6,1.4 .7-.8 .6,.7 .7-.7 .6,.6 .7,.9 .7-1.2 .6,1.3 .7-1.7 .6,.6 .7,.4 .6,1.3 .7-1 .6,1.5 .7,1 .7-1.4 .6,.2 .7,1 .6-1 .7,.4 .6-.6 .7-.1 .6-.3 .7,.7 .7-.8 .6,.9 .7-.6 .6-.1 .7-1.4 .6,.8 .7-.5 .6,.2 .7-1 .7,.3 .6,.7 .7-.1 .6-1.8 .7-2.1 .6,0 .7,.4 .6-.5 .7-1.4 .7-.8 .6-.2 .7-2.3 .6-2.1 .7-1.2 .6,0 .7-2.5 .6-1.5 .7-1.8 .7-1.4 .6,.6 .7-3.4 .6-2.4 .7-2.7 .6-1.1 .7-1.4 .6-.9 .7-.6 .7-.2 .6,.7 .7,.4 .6,1.5 .7,2.2 .6,1 .7,1 .6,1.9 .7,2.7 .7,.7 .6,2.4 .7,1.6 .6,2.2 .7,2.5 .6,1.8 .7,1.7 .6,1.4 .7,.8 .7,1.3 .6,2.1 .7,1.3 .6,2.6 .7-.6 .6-.1 .7,1.5 .6-.4 .7,.9 .7,0 .6,.4 .7-.8 .6,.8 .7-.3 .6-1 .7,.3 .6-.3 .7-.8 .6-1 .7-.5 .7-1.3 .6-.6 .7-.4 .6-.8 .7-.6 .6-2.1 .7-2.1 .6-.6 .7,.9 .7-2.2 .6-1.3 .7-2.1 .6-.8 .7-1.2 .6,0 .7-1.6 .6,.7 .7-1.3 .7-.3 .6,.9 .7,1.1 .6-.3 .7,.7 .6,0 .7,.5 .6,.1 .7,.6 .7-.2 .6,2.4 .7,1.3 .6,.4 .7,.7 .6,.8 .7,.9 .6,1.1 .7,1.4 .7,.8 .6,2.1 .7,1 .6,.6 .7,.2 .6,1.4 .7,.2 .6,.5 .7,1.1 .7,1.2 .6,.8 .7,1.7 .6,1.3 .7-.2 .6,.1 .7-.8 .6,.6 .7,2 .7,1.1 .6,.1 .7,.3 .6-.2 .7,.3 .6,.9 .7,.5 .6-.8 .7,2.7 .7,.3 .6-2 .7-.1 .6,1.3 .7,.2 .6,.8 .7-.6 .6,0v40H428.8Z" stroke-dasharray="278.9 999"/><path d="M427.8,122.4l.6,.5 .7,0 .6-.1 .7,.8 .6,.2 .7,.2 .6-.1 .7,.1 .6,.7 .7,.1 .7-.3 .6,.4 .7,.3 .6,0 .7,.6 .6,1.1 .7,.2 .6-.6 .7,.5 .6-.3 .7,1.7 .6-1.1 .7-1 .7,1 .6,1.5 .7,0 .6-.1 .7,.4 .6-.8 .7,1.7 .6-.4 .7,.5 .6,.4 .7,.2 .7,1 .6-.7 .7,.3 .6-1.1 .7,2 .6,.2 .7-2.1 .6,1 .7-.5 .6,1.2 .7-.4 .6-.8 .7,1 .7-.1 .6,2 .7-.4 .6,1.3 .7,.9 .6-1.3 .7,.5 .6,.1 .7-.6 .6,.4 .7,.5 .6,.6 .7-.2 .7-.5 .6,0 .7-.6 .6-.1 .7-.4 .6,1.2 .7,.7 .6-.3 .7,1.2 .6,.2 .7-.3 .6-.1 .7,1.5 .7,.4 .6-.6 .7-.7 .6-.4 .7,.3 .6,1 .7-.4 .6,.2 .7,.4 .6-.1 .7-.4 .6,0 .7,.2 .7-1 .6,1.5 .7,1.4 .6-.9 .7-.8 .6-.2 .7-.7 .6,.6 .7-.1 .6-.3 .7-1.3 .6,.3 .7,.3 .7,1.1 .6-1.3 .7-2.1 .6-1 .7,.6 .6-.5 .7-2.2 .6-1.2 .7-.8 .6-.8 .7-1.2 .6-1.2 .7,0 .7-2.3 .6-2 .7-1.8 .6-.5 .7-2.5 .6-1.4 .7-1.8 .6-1.4 .7-.3 .6-1.1 .7-2.5 .7-2.4 .6-.3 .7,1.1 .6,2.4 .7,2.2 .6,.9 .7,2.5 .6,2.3 .7-1.1 .6,1 .7,2.6 .6,1.8 .7,.5 .7,2.1 .6,3.5 .7,1.2 .6,.5 .7,1.7 .6,1.4 .7-.1 .6,2.2 .7,.6 .6,1.9 .7,.3 .6,1.9 .7,.9 .7,0 .6,.2 .7,.5 .6,.8 .7-.7 .6-.9 .7,.7 .6,.5 .7-1.5 .6,.2 .7,0 .6,0 .7,1 .7-1.9 .6-2.3 .7-1 .6-2.1 .7,.6 .6,.7 .7-1.7 .6-1.8 .7-2.3 .6-1.1 .7-.8 .6-1.9 .7-.1 .7-1.3 .6,.3 .7,1 .6-1 .7,.5 .6-2.8 .7-1.2 .6,.1 .7,.1 .6,1.4 .7,1.1 .6-.9 .7,2 .7,.5 .6,.5 .7,.9 .6,1.6 .7,.9 .6,.3 .7,.7 .6,1.3 .7,1.3 .6,.6 .7,.4 .6,1.1 .7,1 .7,1.4 .6,.3 .7,1.2 .6,1.3 .7,1 .6,1.5 .7,1 .6-.2 .7-.1 .6,1.7 .7,.7 .7,1.1 .6-.4 .7,1.2 .6-.9 .7-.6 .6,1.1 .7,1.5 .6,.6 .7,.3 .6,.3 .7-.1 .6-.2 .7,.5 .7-.2 .6,1.8 .7,2.9 .6-2.3 .7-.9 .6,0 .7,1.7 .6-.8 .7-.3v40H427.8Z" stroke-dasharray="278.8 999"/><path d="M426.7,124.9l.7,.2 .6,.2 .7-.1 .6,0 .7,.5 .6,.6 .7,.3 .7-.4 .6,1.5 .7-.3 .6,.1 .7,.3 .6,1.1 .7-.8 .6,.3 .7-.3 .6,.5 .7-.2 .7,0 .6-.2 .7-.1 .6,.5 .7,1.7 .6-.7 .7,1.4 .6-1.6 .7,0 .7,1.5 .6-.5 .7-.5 .6,0 .7,.4 .6,1.4 .7,.4 .6-.1 .7,.7 .7-.2 .6,1.7 .7,1.2 .6-2.5 .7,0 .6,.7 .7-1.1 .6,1.2 .7,.1 .6-.1 .7,.1 .7,1.3 .6,.3 .7,.2 .6-.6 .7-.7 .6,.4 .7,.7 .6,.7 .7,0 .7-.6 .6,.8 .7,1.8 .6-1.3 .7-.1 .6,1.2 .7-.8 .6-.6 .7,1.3 .7,.5 .6-.2 .7,2.3 .6-.2 .7,.1 .6-.1 .7-1.3 .6-.8 .7,.2 .6,.6 .7-.2 .7,.8 .6,.3 .7-.3 .6,.6 .7,1 .6,.2 .7-1.2 .6-.7 .7-.6 .7,.8 .6-.7 .7,1.4 .6-.2 .7,.1 .6-.8 .7,.1 .6-.5 .7,2.1 .7,0 .6-1.6 .7-1.6 .6-.4 .7,.4 .6,.8 .7-1.4 .6,.1 .7-1.7 .6-2 .7,0 .7-1 .6-.3 .7-.8 .6-.9 .7,0 .6-1.2 .7-2.3 .6-2.7 .7-.6 .7,0 .6-1.9 .7-1 .6-.3 .7-3 .6-2.7 .7-.5 .6-2.5 .7-2.5 .7-.1 .6,.6 .7,.4 .6,1.9 .7,1.7 .6,.3 .7,1.2 .6,1.4 .7,1.3 .6,4.6 .7,1.5 .7,.6 .6,1 .7,2.6 .6,1.6 .7,.9 .6,1.4 .7,1.4 .6,.7 .7,1.4 .7,.9 .6,1.2 .7,1.2 .6,1.6 .7,1.7 .6-.4 .7-.5 .6,0 .7,.5 .7,.3 .6,1.1 .7,.2 .6-1.7 .7,.3 .6-1.6 .7,.7 .6,.8 .7-.1 .6-1.6 .7-.5 .7-1.6 .6-.5 .7-1.7 .6-1.2 .7-.1 .6-.2 .7-1.3 .6-1.7 .7-1.8 .7-1.1 .6,0 .7-.2 .6-1.1 .7-.3 .6-1.1 .7,.6 .6-1.8 .7-1.9 .7,.4 .6,.4 .7,.8 .6,.5 .7,.7 .6,2.1 .7,0 .6-.4 .7,1.3 .6,.3 .7,.7 .7-.6 .6,1.6 .7,1.4 .6,1.4 .7,.2 .6,2.8 .7,1.4 .6,.4 .7,.5 .7,1.4 .6,1.2 .7,1.3 .6-.8 .7,.9 .6,.8 .7,1 .6-.1 .7,1.3 .7,.1 .6,.8 .7,.7 .6-.5 .7,1.4 .6,1.9 .7-.7 .6,.1 .7,.6 .6,.2 .7,.1 .7-.2 .6,.1 .7,.2 .6,1.3 .7,.2 .6,.7 .7-1.3 .6,.3 .7,.2 .7,.1 .6,1.7 .7-.6 .6-.6v40H426.7Z" stroke-dasharray="269.5 999"/><path d="M425.7,127.1l.6,.4 .7-.1 .6,.3 .7-.3 .6-.1 .7,.8 .6,.2 .7,.1 .6,1.7 .7-.3 .6-.8 .7,.4 .7,.3 .6,.4 .7,0 .6,.1 .7,.8 .6,2.6 .7-1.3 .6-2.4 .7,.7 .6,.3 .7,.6 .6,.9 .7-.4 .7-.7 .6,.1 .7,2.3 .6,.1 .7-1.1 .6,.8 .7,.4 .6-.2 .7,0 .6,.1 .7,1.1 .6-.2 .7,.2 .6,.5 .7-.8 .7-.4 .6-.7 .7,1.3 .6,1.5 .7-.5 .6-.5 .7,.1 .6,.2 .7,.6 .6-.2 .7,.4 .6,0 .7,1.9 .7-.8 .6-.5 .7,.5 .6,1.4 .7-.2 .6-.6 .7,.4 .6,.4 .7-.7 .6,1.4 .7-.2 .6-.5 .7-.5 .7,.6 .6,1.3 .7,.8 .6,.2 .7-2 .6,1.4 .7,.5 .6-.7 .7-.1 .6,2.8 .7,1.9 .6-2.9 .7-1.1 .6,2 .7-1 .7-.9 .6-.6 .7,.6 .6,.2 .7,1.4 .6-1.4 .7,1.3 .6,.4 .7-1.5 .6-.2 .7-.6 .6,.2 .7,.7 .7-.1 .6,.4 .7-.5 .6,0 .7-1 .6,.3 .7-1.6 .6-2.2 .7-1 .6,.7 .7,1.7 .6-.8 .7-.4 .6-3.1 .7-1.6 .7-.4 .6-1.2 .7-1.8 .6-.4 .7-1.7 .6-2.2 .7,.4 .6-1.1 .7-1.5 .6-2.5 .7-2.2 .6,1.1 .7-1.2 .7-2 .6-.1 .7-2.4 .6-.6 .7,.6 .6,2.6 .7,2 .6,1.5 .7,.7 .6,1.7 .7,2 .6,1.4 .7,.5 .7,1.7 .6,2.3 .7,2 .6,1.7 .7,.9 .6,.7 .7,1.5 .6,.5 .7,1.7 .6,.9 .7,.5 .6,.9 .7,.9 .6,1 .7,.6 .7,.3 .6,.3 .7-.1 .6,1.5 .7-1 .6,.8 .7-1.1 .6,.1 .7,.2 .6-.4 .7-1.2 .6-2 .7,.4 .7-.9 .6,1.7 .7-1.1 .6-1 .7-2.1 .6-1.2 .7-.8 .6,0 .7-1.6 .6-1 .7,.3 .6-1.2 .7,.1 .6-2.2 .7-.2 .7,1.2 .6-1.4 .7-1.6 .6-1.5 .7,0 .6,2.3 .7,0 .6,.4 .7-.4 .6,1.5 .7,1.8 .6-.6 .7-.2 .7,1.1 .6,.9 .7,.3 .6,1.8 .7,1 .6,1.9 .7,0 .6,.5 .7,1.3 .6,1.9 .7,.3 .6,0 .7,1.7 .7-.1 .6,.7 .7,.7 .6,2.4 .7,1.3 .6,.3 .7-1.1 .6,.1 .7,1.9 .6,0 .7,1.2 .6,2.4 .7-.7 .6-.1 .7-.1 .7-.4 .6,.1 .7-.4 .6,1 .7,.4 .6,.5 .7-.3 .6,.7 .7,.3 .6-.6 .7,.6 .6,0 .7,0 .7-1.7 .6,1.8 .7-.7v40H425.7Z" stroke-dasharray="281.0 999"/><path d="M424.6,128l.7,1.1 .6-.3 .7-.5 .6,.7 .7,.1 .6,.9 .7,.1 .6,.5 .7,.6 .7-.2 .6,.3 .7,.2 .6,.9 .7,0 .6-1.3 .7-.5 .6,0 .7,.9 .6,1.3 .7-.2 .7-2 .6,.3 .7,.7 .6-.2 .7-.6 .6,.4 .7,1.8 .6,.5 .7,.6 .7,.2 .6-.9 .7,.8 .6,.7 .7-.4 .6-.8 .7,.2 .6,.8 .7,0 .6,.2 .7,1 .7-1 .6-.4 .7,.8 .6-.2 .7,.6 .6,.3 .7,1.1 .6-.3 .7-1 .6,.3 .7,1.4 .7-.8 .6,.4 .7,1.4 .6-.2 .7,.3 .6-.3 .7-1.3 .6,1.9 .7,1.5 .7,.6 .6-1.3 .7-.8 .6,.6 .7-.3 .6,.8 .7,1.7 .6,.4 .7-1 .6-1.1 .7,0 .7,2.9 .6-1.5 .7,0 .6-.7 .7-.6 .6,1.2 .7,1.4 .6-.2 .7-.1 .6,1 .7,1.3 .7-2.3 .6,.7 .7-.2 .6,0 .7,0 .6-.9 .7-1.1 .6,.1 .7,.4 .7,1.8 .6-.4 .7-1.2 .6,.4 .7-.5 .6-.5 .7,.5 .6-1.1 .7-.6 .6-1.4 .7-1.1 .7,1.1 .6-1.4 .7-.8 .6,1 .7-1.5 .6,0 .7,1.2 .6-3.3 .7-3.1 .6-.8 .7,.8 .7-.1 .6-3.2 .7-1.2 .6-.4 .7-1.7 .6-.5 .7-1.7 .6-1.8 .7-3.3 .7-.7 .6-.8 .7,0 .6,.7 .7,.6 .6,1.5 .7,1.5 .6,1.5 .7,1.8 .6,1.1 .7,1.3 .7,1.3 .6,3.3 .7,3.1 .6-1.1 .7,1.9 .6,1.3 .7,.6 .6,.9 .7,2.9 .7,2.6 .6,1.3 .7,.9 .6,.5 .7-1.5 .6-.9 .7,4.3 .6-1.5 .7,0 .6,1.9 .7,.8 .7-2.2 .6-.7 .7,.2 .6-.7 .7,.3 .6,.9 .7-1.2 .6-.3 .7,2 .6-1.7 .7-.8 .7-.8 .6-1.4 .7,.3 .6-.9 .7-1.3 .6-1.3 .7-2.8 .6,.2 .7-.1 .7-.6 .6,.3 .7-1.8 .6-.4 .7-.3 .6-.2 .7,.2 .6,1 .7-1.2 .6-.8 .7,.9 .7,.7 .6-.9 .7,2.1 .6,1.1 .7-1.9 .6,1.8 .7,0 .6,.8 .7,1 .6,.8 .7,1.1 .7,.9 .6,1.5 .7,1.9 .6-.5 .7,.6 .6,.4 .7,.5 .6,.9 .7,1.3 .7,1 .6,1.3 .7,.2 .6,.6 .7,0 .6,.3 .7,1.1 .6,.4 .7-1.7 .6,1.7 .7,1.4 .7,.6 .6,.6 .7,.1 .6,1 .7-.1 .6,.6 .7-.2 .6,1.3 .7,.6 .7-2.1 .6,2.3 .7,.3 .6,.5 .7-.1 .6-1.4 .7,.8 .6,1.9 .7,1 .6-.3 .7-.4v40H424.6Z" stroke-dasharray="286.4 999"/><path d="M423.6,131.7l.6-.3 .7,.1 .6-.2 .7,.3 .6,.2 .7,.9 .6,.5 .7,.6 .6-.2 .7,.2 .6-.7 .7,.6 .6-.3 .7-.6 .7,1 .6,2.1 .7-.7 .6,1 .7-2.3 .6,1.2 .7,.6 .6-1.7 .7,.5 .6,.6 .7,.2 .6-.2 .7,2.8 .6,3.3 .7-2.8 .7-.8 .6,.1 .7,.3 .6,.5 .7-.9 .6-.8 .7,1.3 .6,.1 .7,.4 .6-.7 .7-1.3 .6,.5 .7,.3 .6,1.2 .7,1.6 .7,.5 .6-1.6 .7-.1 .6-.7 .7-.2 .6,2 .7,.6 .6-.8 .7-.8 .6,.7 .7,.4 .6,.5 .7,.6 .6,.8 .7-.1 .7,.8 .6-.9 .7,.7 .6-.8 .7,.4 .6-.8 .7-.1 .6-.6 .7,.7 .6,2.5 .7-.7 .6-1.6 .7,1.6 .6,0 .7-.2 .7-1.5 .6,1.1 .7,.4 .6,1.1 .7,1.6 .6-.7 .7-.3 .6,1.2 .7-.8 .6-1 .7-.9 .6,.4 .7,.9 .6-.1 .7,.8 .7-1.1 .6-.6 .7,1.4 .6-1 .7,.5 .6-.1 .7,.4 .6,.9 .7-.7 .6-1.8 .7-.7 .6-.3 .7,.3 .6-.7 .7-.6 .7-.8 .6-1.5 .7-.8 .6-.7 .7,1.2 .6,2 .7-3.1 .6-2 .7-1.4 .6-1.4 .7-2.9 .6-.4 .7,2 .6-.7 .7-3.4 .7-2.8 .6,0 .7-2.4 .6,.8 .7-1.9 .6-.8 .7,1.3 .6,.2 .7,1.1 .6,.6 .7,1.8 .6,.4 .7,1.2 .6,2.4 .7,3.7 .7-.5 .6,1 .7,.7 .6,2.1 .7,1.5 .6,2.1 .7-.1 .6,2.5 .7,1.4 .6-.8 .7,1.4 .6,3.1 .7-2.1 .6,.9 .7-1.1 .7,.6 .6,3.6 .7-1.4 .6-1.6 .7,1.8 .6-1.3 .7,1 .6,.4 .7,.9 .6-.2 .7-.9 .6,.4 .7,.2 .6,0 .7-3 .7-.1 .6-.4 .7-.2 .6-.7 .7-1.8 .6-.8 .7,.5 .6-.9 .7-1.1 .6-1.6 .7,1.1 .6-1.1 .7,0 .6-1.7 .7,1.3 .7,3.4 .6-2.1 .7,0 .6-1.7 .7-.4 .6-.4 .7,1.5 .6-.1 .7,1.4 .6,1.9 .7,0 .6,1.9 .7-.4 .6-2.3 .7-.4 .7,2.4 .6,2.1 .7,.7 .6,1.9 .7,2.1 .6,.1 .7,.8 .6,.9 .7-1 .6,.9 .7,1.2 .6,1.2 .7,1.4 .6,.1 .7,.6 .7,.4 .6,1.7 .7,1 .6,.3 .7-1.5 .6,.3 .7-.4 .6,1.3 .7-1.2 .6,.5 .7,.3 .6,1 .7,.7 .6-.2 .7,.6 .7,1 .6,.8 .7-.8 .6-.1 .7,.7 .6,.7 .7-1.1 .6,.5 .7,.1 .6,.5 .7,.9 .6,1.9v40H423.6Z" stroke-dasharray="299.9 999"/><path d="M422.5,134.6l.7-.6 .6,.8 .7-.7 .6,.5 .7,.7 .6,.1 .7,.4 .6,.5 .7,.6 .6,1.4 .7,1.1 .7-1.8 .6,.1 .7-1.3 .6-.8 .7,.8 .6,0 .7-.3 .6,1 .7,2.4 .6-.7 .7-1.2 .7,2 .6-.3 .7-2.1 .6,.1 .7-.3 .6,1.9 .7,.3 .6,.1 .7-.3 .6-.8 .7,.3 .7,.5 .6,1.8 .7-1.5 .6,1.1 .7,1.2 .6,.1 .7-.2 .6,2.2 .7-1.9 .6-2.4 .7,1.1 .7-.1 .6,.3 .7-.7 .6,1 .7,1.1 .6-.4 .7-.2 .6,1 .7-1.3 .6,.5 .7,.3 .7,.6 .6,1.7 .7,.8 .6-1.3 .7-1.9 .6-.4 .7,2.6 .6,.1 .7,1.3 .6-2.1 .7-.8 .7,1.1 .6,.5 .7,2.3 .6,0 .7,0 .6-1.9 .7-.3 .6,.7 .7,1.6 .6-1.4 .7,1.8 .7-.2 .6-.4 .7,1.7 .6-2.1 .7-.7 .6,.7 .7-1.2 .6,.3 .7,.1 .6,.6 .7-.8 .7-.1 .6-.3 .7,1.1 .6,.4 .7,2 .6-.6 .7-1.3 .6,.4 .7-1.7 .6-.1 .7,1.2 .7-.8 .6-1.2 .7,.4 .6-1 .7-2.1 .6,.2 .7-.2 .6,.4 .7-.4 .6,.2 .7,.2 .7-3.1 .6,1.5 .7,.1 .6-3.4 .7-1.1 .6,.6 .7-1.8 .6-1.5 .7-.7 .6-4 .7-.7 .7-.2 .6-1.1 .7-.8 .6,.4 .7,1.2 .6-.6 .7,2 .6-1.1 .7,2.8 .6,2.3 .7-1.8 .7,2.3 .6,1.9 .7,1 .6,3.4 .7,2 .6-.7 .7,.9 .6,.3 .7,.7 .6,1.5 .7,1.2 .7,1 .6-.7 .7,1.1 .6,2 .7-.2 .6-.1 .7,1.9 .6-.7 .7-1.1 .6,1.3 .7,3.5 .7-.9 .6-2.2 .7,1.1 .6,.4 .7-1.2 .6,.2 .7,1.4 .6-1 .7-2 .6-.8 .7-.6 .7,.3 .6-.5 .7,1 .6-1 .7-1 .6-1.7 .7-1.2 .6-.4 .7,.8 .6-1.3 .7-1.4 .7-.5 .6,1.4 .7,.4 .6-1.6 .7-.2 .6,1.2 .7,3.1 .6-1.6 .7-.8 .6-.5 .7,.6 .7,1.3 .6,1.9 .7,0 .6-1.8 .7,1.6 .6,2.2 .7,3.3 .6-2.5 .7,0 .6,0 .7,.4 .7,.7 .6,1.4 .7,1.4 .6,.9 .7-.8 .6,2.8 .7,.4 .6-.2 .7-.2 .6,.3 .7,1 .7,.7 .6,1.2 .7,0 .6,.8 .7,.8 .6-.4 .7,1.1 .6,.6 .7-1.2 .6,.9 .7-.3 .7-.6 .6,3.1 .7-1.7 .6,.5 .7,.5 .6-.4 .7,0 .6,.7 .7,.5 .6,.1 .7-1.1 .7,1.1 .6-.2 .7-.1 .6-.6 .7,1.8v40H422.5Z" stroke-dasharray="303.1 999"/><path d="M421.4,136.3l.7-.1 .7-.1 .6,.4 .7-.7 .6,.8 .7,.7 .6-.9 .7,.9 .6,.3 .7,1 .6,.4 .7,.8 .6-1.4 .7-1.8 .6,.8 .7,1.6 .6,0 .7,1 .7-.5 .6-1.4 .7-.2 .6,.9 .7,1.8 .6-.9 .7,.5 .6,1.2 .7,.7 .6-2.1 .7-1 .6,1.9 .7-.4 .6-.6 .7,1.1 .6-1.1 .7,1 .7,.7 .6,.9 .7,1.8 .6-2 .7-1.9 .6,.7 .7,.6 .6,2 .7-2 .6,.3 .7-.6 .6,1.7 .7,.4 .6,.2 .7-1.1 .7,2 .6-.9 .7-.3 .6,.2 .7,1.2 .6-.4 .7,.1 .6,.7 .7,.8 .6-1.2 .7,1.8 .6-.8 .7,0 .6-.1 .7,.4 .6-.7 .7,2.9 .7,.9 .6-.1 .7-1.2 .6-.6 .7,.1 .6,1.6 .7-.3 .6-1.2 .7,2.1 .6-1.3 .7,.4 .6,.2 .7,1.1 .6-3.2 .7,.3 .6,4.3 .7-3.5 .7,.2 .6,1.1 .7,1.8 .6-2.7 .7,1.7 .6,.1 .7-1.1 .6-.2 .7-1.8 .6-.2 .7,.3 .6,1 .7-.8 .6,.1 .7,.5 .6,0 .7-1.1 .7-1.5 .6-.6 .7-.2 .6,.8 .7,.6 .6-1.6 .7-1 .6,.3 .7-.6 .6-.4 .7-.1 .6-2.3 .7-.2 .6-.6 .7-.5 .7-.8 .6,.1 .7,.4 .6,.5 .7-3.7 .6-2.8 .7-.4 .6,.1 .7-.2 .6-.7 .7,1.9 .6,1.3 .7,1.3 .6,.2 .7,0 .6,2 .7,.9 .7,.6 .6,.9 .7,.6 .6,.8 .7,1.6 .6,1.6 .7,.1 .6,1.7 .7,.4 .6,1.5 .7,1.2 .6-.1 .7-.8 .6,.9 .7,1.6 .6,1.8 .7-1.1 .7,0 .6,.1 .7,.3 .6,.5 .7,.7 .6-.4 .7,.3 .6-1.7 .7,1.3 .6,1.8 .7-.2 .6,.1 .7-.3 .6-.9 .7-2.4 .6,.1 .7,.2 .7,2.8 .6-.5 .7-2.6 .6-1.3 .7-.2 .6-1.3 .7-.9 .6,.9 .7,.6 .6-1 .7-.7 .6-.3 .7-.3 .6,1.3 .7-.6 .7,2.1 .6,0 .7-2.7 .6,1.1 .7,.4 .6-.5 .7,.3 .6,.8 .7,.4 .6-.4 .7,1.5 .6,.3 .7,.5 .6-.7 .7,1.3 .6,1 .7,1.3 .7,.9 .6,.5 .7,2.1 .6,1 .7,.6 .6-1.3 .7,1.2 .6,1.4 .7,.3 .6,1.3 .7-1.9 .6,.4 .7,1.3 .6-.4 .7,1 .6-.5 .7,2.1 .7,2.3 .6-1.4 .7,.1 .6-1.5 .7,1 .6,1 .7,.4 .6-2.8 .7,.1 .6,2.1 .7-.2 .6,1.2 .7,1.5 .6-1.7 .7-.2 .6-.9 .7,.1 .7,1 .6-.9 .7,0 .6,2.7v40H421.4Z" stroke-dasharray="294.3 999"/><path d="M420.4,138.4l.6-.2 .7,.3 .7-.6 .6,0 .7-.4 .6,1 .7,.4 .6-.3 .7,1.1 .6,.1 .7-1.1 .6,1.9 .7-.5 .7,1.4 .6,2 .7-2.5 .6-1.4 .7,1.5 .6,.1 .7-.6 .6-.7 .7,.3 .6-.5 .7,.3 .6,.4 .7,2.3 .7,1.3 .6-1.6 .7-.1 .6-.3 .7,.8 .6-.5 .7-1.2 .6,2.4 .7,.1 .6-.5 .7-1.2 .7-1.6 .6,2.8 .7,.3 .6-.5 .7,.5 .6,.8 .7,0 .6-.6 .7,1.1 .6,0 .7-.1 .7,1.3 .6-.1 .7-.7 .6,1.6 .7-.9 .6-1 .7-.3 .6,.6 .7,.7 .6,4.3 .7,2.9 .6-4.4 .7-2.5 .7-.4 .6,1.1 .7-.4 .6,2 .7-1.9 .6-.2 .7,0 .6,3.5 .7-1.4 .6-1.1 .7,.9 .7-1.3 .6-.5 .7,1 .6,3.3 .7-.5 .6-1.6 .7,2.1 .6,.3 .7,.2 .6-2.8 .7,1.1 .7,3.2 .6-1 .7-2.2 .6,1.1 .7,1.3 .6,.5 .7-2.5 .6-.5 .7,2.5 .6,.6 .7,.2 .6,2.6 .7-1.6 .7-1.9 .6-.6 .7,.5 .6-1.2 .7,.3 .6,.6 .7-.9 .6-.2 .7-2.4 .6-1.5 .7-.1 .7,2.9 .6-.6 .7-1.8 .6-.5 .7-.6 .6,.4 .7-.6 .6-1.9 .7-.2 .6,.1 .7-1 .7-1.8 .6,.3 .7,1.1 .6-2 .7-1 .6,1.5 .7-1.9 .6-.6 .7,1.4 .6,.8 .7-.3 .6,2.4 .7-.4 .7,1.7 .6,.9 .7-.3 .6,1 .7,1.9 .6-.4 .7-.1 .6,4.8 .7,3.8 .6-2.3 .7-1.1 .7-.8 .6,.1 .7,1.1 .6,0 .7,1.9 .6,2 .7-.4 .6-.3 .7-.7 .6-.2 .7-.1 .6,1.4 .7-1 .7,1.1 .6-.1 .7,.5 .6,.5 .7-1.3 .6,0 .7,.5 .6,1.8 .7-.9 .6-1.9 .7-.9 .7,.6 .6,0 .7,2.1 .6-1.7 .7-2.8 .6,.7 .7,.9 .6-1.7 .7-.5 .6,1.6 .7-1.1 .7-1.3 .6,.1 .7,3 .6,.3 .7-1.8 .6-.1 .7,.9 .6-.7 .7-1.1 .6-.5 .7,.5 .6,3.4 .7-.9 .7-.8 .6-.2 .7,3.8 .6,0 .7,1.3 .6,1.8 .7-.4 .6-.7 .7-.1 .6-1.9 .7,.4 .7,0 .6,1.4 .7,2.6 .6-.2 .7-.4 .6,1 .7,.8 .6,1.2 .7,.9 .6,.2 .7,1.5 .7-1.7 .6,.6 .7-.6 .6-.1 .7,.5 .6-.8 .7,1 .6,2.1 .7,0 .6-1.1 .7,1.3 .6-1.1 .7,1.2 .7-.3 .6,1.7 .7-1 .6,.8 .7-1.7 .6-2.1 .7,.2 .6,1.3 .7,1.8 .6,1.8 .7-2.2 .7,.4v40H420.4Z" stroke-dasharray="322.9 999"/><path d="M419.3,138l.7,.2 .6,.7 .7-.3 .7,.4 .6,0 .7,0 .6,.2 .7,.8 .6,.2 .7-.3 .6,.8 .7,.8 .6-.2 .7-1.4 .6,1.7 .7,3.2 .6-3 .7-1.4 .6,.8 .7-1.5 .6,.2 .7-1.4 .7,.6 .6,1.8 .7,.2 .6-1.1 .7,1.8 .6,2.5 .7-1.1 .6,0 .7-.6 .6-.8 .7,.4 .6,.4 .7,.2 .6,.3 .7-.4 .6,1.5 .7,4 .6-2.3 .7-2.5 .7-.1 .6-.3 .7,1.1 .6,.2 .7-.5 .6-.1 .7,.4 .6-.7 .7,.3 .6,2.3 .7,.6 .6-1.1 .7,1 .6,.3 .7-1 .6,2.8 .7-.6 .7-.9 .6,2 .7,.7 .6-1.1 .7,.4 .6-1.2 .7-.3 .6,2.2 .7-1.3 .6,1.8 .7-2 .6-1.4 .7,0 .6,1.1 .7,2.1 .6,4 .7-4.1 .6-2.4 .7,1.3 .7-.7 .6,1 .7,.9 .6-.5 .7,.8 .6,1.7 .7,1.2 .6,.5 .7-2.5 .6-.1 .7,.9 .6,.1 .7-.3 .6,.8 .7-2.1 .6,.4 .7-.4 .7,.9 .6,1 .7,1.6 .6-.7 .7,4.8 .6-2.5 .7-4 .6-.7 .7,1.7 .6,1.5 .7-2.5 .6,1 .7,.8 .6-1.3 .7,.8 .6,1.8 .7-3.8 .6-3.3 .7,1.5 .7,.4 .6-.7 .7,.7 .6-2.7 .7-1 .6,.4 .7,.2 .6,0 .7,.7 .6-1.3 .7,1.2 .6-.5 .7,2 .6,.8 .7-1.1 .6-1.2 .7-.7 .6,1.5 .7,.2 .7-.5 .6,2.5 .7,2.4 .6,.4 .7,2.6 .6,.1 .7-1.7 .6,.2 .7-.2 .6,.3 .7,.8 .6,1.8 .7,.2 .6,.3 .7-.1 .6-.7 .7,4.4 .7-.2 .6-2 .7-.1 .6,1 .7,1.1 .6,.1 .7,.5 .6-1.9 .7-1.4 .6-1.1 .7,.7 .6,1.1 .7,.4 .6-1.1 .7,.9 .6-.9 .7,.3 .6,.9 .7,2.5 .7-1.5 .6-.1 .7,2.5 .6-4 .7-1.5 .6,0 .7-.5 .6-1.1 .7,1.7 .6-.6 .7-2.4 .6,.8 .7,1.1 .6-1 .7,3.3 .6-.8 .7-.2 .6,.3 .7,.4 .7-1.3 .6,0 .7,1.8 .6,.9 .7,1.2 .6,.5 .7-1.9 .6,1.1 .7,.3 .6,.1 .7-.5 .6,.9 .7,1.3 .6,.2 .7,1 .6,2.1 .7,2 .7-1.5 .6-1.7 .7,.5 .6-.5 .7-.1 .6,1.7 .7-.1 .6,2.9 .7,1.1 .6-1.3 .7-.8 .6-1.2 .7,1 .6-.2 .7,.3 .6,1.6 .7-1.8 .6,1 .7,1.1 .7-1.5 .6-1.3 .7,.6 .6,1.8 .7,3.4 .6-1.3 .7-2.1 .6-.1 .7-.4 .6-.5 .7-1 .6,2.8 .7-.6 .6,.4 .7-.1v40H419.3Z" stroke-dasharray="331.9 999"/><path d="M418.8,140l.6-.4 .7,0 .6-.1 .7,.1 .6,.2 .7,.6 .6-.4 .7,.1 .6,1.2 .7,1.2 .6-.3 .7-1.3 .6,.2 .7-1.1 .7,.6 .6-.1 .7,1.1 .6-.4 .7-.6 .6,.2 .7,1.4 .6-.3 .7-.3 .6,.9 .7,0 .6,1.8 .7-.1 .7,.7 .6,1 .7-4.1 .6-.1 .7,1 .6,1.7 .7-.8 .6,2 .7,.1 .6-1.3 .7,1.2 .6,2.2 .7-.4 .6,1.3 .7-4.3 .7-2 .6-.4 .7,1.3 .6,3 .7,2.8 .6-1.5 .7-.2 .6,3.2 .7-2.2 .6-3.3 .7,2.2 .6,2.1 .7-.7 .6-1.7 .7,1.5 .7,2 .6-1.8 .7,.4 .6-1.1 .7,.8 .6,.9 .7-.5 .6-1.2 .7,.7 .6,.7 .7-.8 .6,.7 .7,2.3 .6,1.5 .7-.2 .7-.2 .6,.2 .7-1.9 .6-.7 .7,.9 .6,.2 .7,1.1 .6-.3 .7,3.8 .6-1.3 .7-1.5 .6-1.2 .7,1.5 .6,2.3 .7-2.1 .7,.2 .6,0 .7-1.5 .6-.5 .7,1.4 .6,.1 .7-.1 .6-.1 .7,.7 .6,1.5 .7-.6 .6,1.3 .7-.6 .7-1 .6-1.4 .7-.7 .6,3.1 .7-1.2 .6,.1 .7,1.7 .6-.7 .7-1.1 .6-2.8 .7,2.7 .6,2 .7-2.1 .6,0 .7,0 .7,5.8 .6-2 .7-2 .6-4.6 .7-.7 .6-1 .7-.4 .6,1.9 .7,2.8 .6,.9 .7,.1 .6-.3 .7-2.8 .6-1.3 .7,.9 .7,.8 .6,2.3 .7,1.3 .6,1.7 .7-.5 .6,.5 .7-1.3 .6-1.1 .7-.2 .6,1.4 .7,1.4 .6,1.7 .7-1 .6-.3 .7,.5 .7,.3 .6,2.3 .7,4.2 .6-5.1 .7,.1 .6,1.4 .7-.5 .6-1.2 .7,1.1 .6-.4 .7,1.7 .6,.7 .7-3.3 .6,2.1 .7,1.9 .7-.6 .6-2.8 .7-1.2 .6,.6 .7,.3 .6,2.3 .7,.3 .6-1 .7,.3 .6-1.1 .7,1.3 .6-.8 .7-1.5 .7-1.3 .6-.2 .7,2.4 .6,3.3 .7-1.4 .6-.5 .7,2.6 .6-.7 .7-2.2 .6-1.3 .7-1.2 .6,1.4 .7,1.2 .6-.9 .7,1 .7,.1 .6,.8 .7,.1 .6-1.4 .7,1.2 .6-1.3 .7-.1 .6,2.4 .7,.8 .6,.3 .7-.2 .6-.2 .7,3.1 .6-1.2 .7,1.2 .7-1.7 .6,.8 .7,.5 .6-1.1 .7-1 .6,2.3 .7,1 .6-1.7 .7,0 .6,3 .7-.7 .6-.4 .7,2.5 .6-2.3 .7-.1 .7,1.7 .6,2.9 .7-2.8 .6-.2 .7,.9 .6-.1 .7-3.1 .6,1.8 .7,1.7 .6-1.2 .7-.1 .6-2.3 .7,.5 .6,2.6 .7-.3 .7,3.6 .6-1 .7-1.1 .6,0 .7,.7v40H418.8Z" stroke-dasharray="355.8 999"/><path d="M418.4,138.4l.7,0 .6-.3 .7,.5 .6,.1 .7,.1 .6,.3 .7,.2 .6,.3 .7,.6 .6-1.1 .7-.5 .6,.9 .7,.9 .7,2.5 .6-1 .7-2 .6-.4 .7,1.2 .6,.4 .7-.1 .6,.4 .7-1.9 .6,1.7 .7,1.5 .6-2.2 .7,1.8 .7,2.6 .6-3.1 .7-.4 .6,2.8 .7,.8 .6,1.4 .7,.8 .6,3.4 .7-5.1 .6-1.5 .7-.3 .6-1.2 .7,3.7 .7-.1 .6-.4 .7-1 .6-1.1 .7-1 .6,1.8 .7,2.5 .6,1.9 .7-1.8 .6-1 .7,2.1 .6-.8 .7-.6 .7-.5 .6,.5 .7,3.5 .6,.4 .7-2.1 .6-2.1 .7,1 .6,.7 .7,1.9 .6-2.5 .7-.4 .6,1.5 .7,2.2 .7-2.2 .6-.9 .7-.1 .6-1.4 .7,2.8 .6,1.7 .7-2 .6,.8 .7,3.9 .6,3.2 .7-4 .6-2.7 .7-.9 .7-.4 .6,0 .7,2.6 .6-.5 .7-1.3 .6,2.7 .7,1.9 .6,1.4 .7-.1 .6,3.4 .7-3.7 .6-.8 .7,3.1 .7,0 .6-2.8 .7-.5 .6-1.1 .7,.6 .6-.8 .7-.1 .6,.4 .7,.3 .6,1.7 .7-.8 .6-2 .7-.8 .7,2.8 .6,2.4 .7-.8 .6-2 .7-1.9 .6,2.9 .7,.6 .6-1.2 .7-1.8 .6-.7 .7,1.2 .6,.9 .7-3.7 .7-2.1 .6,2.5 .7,.9 .6,.9 .7,.7 .6,0 .7-1.3 .6-1.1 .7,.5 .6-1.4 .7,2.2 .6,2.3 .7,.2 .7,.5 .6,0 .7-.7 .6,.9 .7,1.2 .6,1.2 .7,2.2 .6-2.9 .7,2.7 .6-1.6 .7-2.7 .6,2.7 .7,1.6 .7,.8 .6-2.3 .7-1.1 .6,1.8 .7,.8 .6-.5 .7,.6 .6,2 .7-.1 .6-1.9 .7,.1 .6,1.9 .7,2.9 .7-1.9 .6-1.1 .7,.1 .6,5.9 .7-1.9 .6-1.7 .7,0 .6,3.1 .7-1.2 .6-1.8 .7-1.2 .6-1.3 .7-.1 .7,.3 .6,1.2 .7-1.3 .6,1.8 .7,.7 .6-.7 .7-2.3 .6-1.1 .7,.4 .6,3.4 .7,1.3 .6-2.9 .7,1.4 .7,.4 .6-.4 .7,.3 .6-1.4 .7-.4 .6,2.4 .7,1.3 .6-2.9 .7,.1 .6,3.4 .7-.1 .6,0 .7,.3 .7-1.2 .6-.5 .7,.3 .6-.9 .7-.1 .6,2.1 .7,1.9 .6-.6 .7-.3 .6,.3 .7,2.2 .6-1 .7-1.2 .7,.3 .6,1.3 .7-.8 .6-.4 .7,2 .6-2.1 .7-.8 .6,2.3 .7,1 .6,3.8 .7-3.4 .6,1.4 .7-1.6 .7-.7 .6-2.5 .7,1.5 .6,2 .7,0 .6,.3 .7,1.5 .6-3.4 .7-1 .6,4.1 .7-1.5 .6,.2 .7,3.5 .7-.9 .6-2 .7,1 .6-1.1v40H418.4Z" stroke-dasharray="390.8 999"/><path d="M418.2,138.9l.6-.6 .7,1 .6-.6 .7-1 .6,.8 .7,1 .6,.4 .7-.8 .7,.8 .6-.1 .7,.1 .6-.5 .7-1.2 .6,2.3 .7,.3 .6,1.2 .7-.5 .6-2.1 .7-1.9 .7,.5 .6,2.1 .7,.9 .6,1.3 .7,.2 .6-.5 .7,0 .6-.5 .7,2.5 .6,3.3 .7-2.5 .6,.2 .7-.5 .7-2.2 .6,.3 .7-.3 .6,0 .7,.5 .6,1.1 .7-1.9 .6,.6 .7,3.9 .6,1.5 .7-.5 .7-2.9 .6-.9 .7-.3 .6,2.8 .7-.2 .6-2.8 .7,0 .6,2.2 .7,2 .6-.4 .7-1.7 .6,.6 .7,1.5 .7-.5 .6-1.5 .7,2.5 .6,.3 .7-2.3 .6-1 .7,1 .6,.8 .7,5.6 .6,1.7 .7-.2 .6-1.2 .7-1.9 .7,.1 .6-1.6 .7,1.8 .6,.2 .7,0 .6-.2 .7,2.4 .6,.4 .7-1.3 .6,.8 .7-.4 .7,4.2 .6-4 .7-.1 .6,.8 .7,1.4 .6-1.8 .7-1.2 .6,.4 .7,.9 .6,1 .7-2.8 .6,3.2 .7,5.1 .7-4.4 .6,1 .7,.9 .6-1.1 .7-1.6 .6,1.5 .7,.9 .6-4.2 .7-1.9 .6,3 .7,2.4 .7,0 .6-1.2 .7-.4 .6,3.4 .7-2.7 .6-.3 .7,1.4 .6,0 .7-4.2 .6,.7 .7,.3 .6,.6 .7,.4 .7,1.9 .6-2.4 .7-1.1 .6,3.9 .7,2.6 .6-3.3 .7-1.4 .6,.2 .7-2.1 .6,0 .7,1.7 .6,1.9 .7,0 .7-.4 .6-1.8 .7,.6 .6,3.6 .7,1.7 .6-2.7 .7,.7 .6,4.2 .7,0 .6-1.8 .7-1.6 .7,1 .6,1.3 .7-2 .6,1 .7,.3 .6,.6 .7,.2 .6-.5 .7-1.5 .6,1 .7,2.9 .6,.2 .7-1.4 .7,.4 .6-2.1 .7,.8 .6,1.5 .7-1.5 .6,.7 .7,2.8 .6-1.1 .7-2.4 .6,1 .7,2.5 .7-2 .6,1.2 .7,1.8 .6,.1 .7-4 .6-.8 .7-.6 .6,1 .7,.2 .6,2.3 .7,.9 .6-1.4 .7,0 .7-2.1 .6-.8 .7,2.1 .6-1.4 .7,2.9 .6,4.5 .7-1.5 .6-2.1 .7-.4 .6-.2 .7,.5 .6-1.7 .7,.3 .7,1.6 .6-.1 .7-1.6 .6,1.2 .7,.7 .6-.5 .7,2.2 .6,1.9 .7,1.2 .6,3 .7-1.8 .7-2.9 .6,.5 .7-.8 .6,3.8 .7-2.6 .6-1 .7,1.4 .6,.1 .7-.2 .6-1 .7-.9 .6-.5 .7,.2 .7,.5 .6-.4 .7,1.7 .6,0 .7-.2 .6-.6 .7,1.2 .6-.4 .7-1.6 .6,.6 .7,1.7 .7-.7 .6-.6 .7,1.2 .6,.4 .7-2.2 .6,.9 .7-.1 .6-.3 .7,1.4 .6,0 .7,1.9 .6-.4v40H418.2Z" stroke-dasharray="375.2 999"/><path d="M417.9,139l.7-.1 .6-.1 .7,.8 .7-.1 .6-.6 .7,.9 .6-.2 .7,.3 .6-.8 .7,1.2 .6,.3 .7-.1 .6-.1 .7-1.1 .7-.2 .6,.8 .7,.2 .6,.8 .7,1 .6-1.4 .7-.1 .6,.3 .7,.9 .6,.7 .7,1.9 .6-.1 .7,3 .7-3.5 .6-.6 .7,2.3 .6-2.2 .7-2.1 .6,.6 .7,1.3 .6,2.6 .7-.6 .6-2.3 .7,.4 .7,1.2 .6-.8 .7,1.4 .6,1.8 .7,1 .6,2.6 .7-1.4 .6,0 .7-3.5 .6-1.9 .7,.6 .7,.7 .6,1.3 .7-.5 .6,1.1 .7,.7 .6-.2 .7-.2 .6,.2 .7-1 .6,1.2 .7,.3 .7,.8 .6-.2 .7-.1 .6-.1 .7-2.3 .6,.4 .7,2.4 .6,1.1 .7,1.5 .6,.5 .7,3 .7-2.7 .6-3.2 .7-1 .6,1.8 .7,3.9 .6-.1 .7-2.5 .6,.3 .7,2.1 .6,2.8 .7-3.4 .6-3.6 .7,2.2 .7,2.8 .6,1 .7,2.6 .6-3.5 .7-1.5 .6-.1 .7-2 .6,1.5 .7,3.6 .6-.8 .7,.1 .7-.8 .6-.6 .7,2.6 .6,1.4 .7-.9 .6-1.7 .7-1 .6,2.1 .7-.8 .6-2.2 .7-.7 .7,2.5 .6,1.3 .7,3.3 .6-1.7 .7-1 .6,.4 .7,3.1 .6,.6 .7-3.3 .6-1.7 .7,2.3 .7-.9 .6-3.1 .7,1.4 .6,1.7 .7-.1 .6-1.4 .7-1.6 .6-.2 .7,.8 .6,1.5 .7,2.2 .7,1.3 .6-1.9 .7,.1 .6-.4 .7,.4 .6-.9 .7,.5 .6,2 .7,2 .6-.8 .7-1.3 .6,1.3 .7,0 .7-1 .6,.6 .7-1.5 .6,2.4 .7,2 .6-1.9 .7,3.6 .6,.1 .7-1.9 .6-.5 .7,2.5 .7-1.6 .6,1.8 .7-3.8 .6,.2 .7,1.6 .6-.9 .7-.6 .6,2.8 .7,4.8 .6,.1 .7-5.3 .7-1.1 .6-.1 .7,.1 .6-.3 .7,1.1 .6,0 .7-.9 .6,.3 .7,2.6 .6,0 .7-2 .7-.3 .6,0 .7-2.4 .6,1.1 .7,.3 .6,1.6 .7,.2 .6,.4 .7-.8 .6-.2 .7-.8 .6,3 .7,2.8 .7-2.6 .6-.9 .7,.7 .6,2.4 .7-.9 .6-3.8 .7-.3 .6,3 .7,.5 .6-1.1 .7,1.4 .7,2.3 .6-3.9 .7-.7 .6,3.2 .7-.3 .6,0 .7-1.1 .6-.2 .7,1.7 .6,1.8 .7-1.2 .7-.2 .6,.3 .7-1.1 .6-.5 .7-.6 .6,1.5 .7,.4 .6,3 .7,.2 .6,0 .7-.3 .7-.9 .6,1.3 .7-1.9 .6,2.3 .7,4.1 .6-2.9 .7-3.4 .6,1.1 .7-1.5 .6-.6 .7,1.5 .7,0 .6-.4 .7,.7 .6-.8 .7-.3 .6,1.8 .7,1v40H417.9Z" stroke-dasharray="375.7 999"/><path d="M417.7,138.8l.7-.1 .6,.1 .7,0 .6-.5 .7,1 .6,.3 .7,1 .6,0 .7,1 .6-2.1 .7,.7 .7-.1 .6,.2 .7,.1 .6,.9 .7,1 .6-1.5 .7,.8 .6,.1 .7-.1 .6-.9 .7-.2 .7,1.5 .6-.1 .7-2.3 .6-.7 .7,2.8 .6,.4 .7,.7 .6,3.5 .7-1.2 .7,.7 .6-2.7 .7,1.2 .6,.3 .7-.2 .6,1.3 .7,.1 .6-.9 .7,.8 .6,1.2 .7-3.1 .7-1.9 .6,3 .7-1.2 .6-.6 .7,.9 .6-.3 .7,1.4 .6,.7 .7,.1 .6-.2 .7-.6 .7,1.5 .6,1.9 .7,2.9 .6,2.2 .7-.5 .6,.1 .7,2.6 .6-2.8 .7-2.6 .6-3.5 .7-.1 .7-.4 .6,.1 .7,3.3 .6,2.4 .7-1.7 .6-2.2 .7,1.4 .6,.6 .7-.3 .6,.6 .7,.1 .7,.8 .6,1.2 .7,1.4 .6-2.2 .7-.3 .6,.3 .7,.9 .6,.1 .7-1 .6-.5 .7,1.2 .7-.1 .6-.3 .7,2.3 .6-1 .7,.8 .6,.6 .7-2.7 .6,1.7 .7,.6 .6-.5 .7-.5 .7,.9 .6-.7 .7,2.6 .6,.5 .7-2 .6-1.5 .7,2.4 .6,4.1 .7-1.9 .6-1.9 .7,.3 .7-.1 .6,1 .7-.2 .6,2.3 .7,1.4 .6,1.2 .7-4.3 .6-2.5 .7,4.9 .7,1.5 .6-4.4 .7-1 .6,1.4 .7,1.4 .6-2.6 .7-.2 .6,3 .7-3.2 .6-.2 .7-1.4 .7,2.6 .6,2.8 .7-2.1 .6,.9 .7,.2 .6-.5 .7,1.6 .6,0 .7-2.9 .6,3.2 .7,1.7 .7-.7 .6,2.5 .7-.1 .6-.7 .7,4.2 .6,3 .7-6.2 .6-2.2 .7-1.4 .6,.5 .7,1.3 .7,.9 .6-.8 .7-1.4 .6,.3 .7,1.2 .6,2.2 .7,1.4 .6,1.5 .7-.1 .6-1.2 .7,.4 .7-4.3 .6,1 .7-.1 .6-.8 .7,3.2 .6-.6 .7-.8 .6,1.9 .7-1.4 .6-.7 .7-1.1 .7-1.7 .6,1.3 .7-.6 .6,1.5 .7,1.8 .6-1.5 .7-1.5 .6-.8 .7,2.1 .6,.9 .7-1.6 .7,.5 .6,1.8 .7,2.5 .6-1.3 .7-2.6 .6-.2 .7,1.6 .6-.4 .7,0 .6-.1 .7,1.5 .7,1.2 .6,.2 .7-.6 .6,.3 .7,0 .6,1.5 .7-.5 .6-.7 .7,2 .6-1.4 .7-1.2 .7-.5 .6,2.2 .7-.7 .6,.8 .7-.3 .6,1.8 .7,3.6 .6-5.2 .7-2.3 .7,1.8 .6,1.6 .7-.9 .6-1.5 .7,.9 .6,.4 .7,0 .6-1 .7,1 .6,1.7 .7,2.3 .7-.7 .6-1.1 .7-.4 .6-.1 .7,.2 .6,3.2 .7-.4 .6-1.4 .7-2 .6-1.1 .7,.1 .7,1.9 .6,1.3v40H417.7Z" stroke-dasharray="369.4 999"/><path d="M417.5,138.5l.6-.2 .7,.5 .6-.3 .7,1.1 .6-.1 .7,0 .7-.5 .6,.2 .7,1.4 .6-.5 .7,1.1 .6-1 .7,.1 .6,1.2 .7-.9 .6-.2 .7,2.7 .7,1.4 .6-1.5 .7-2 .6-1.1 .7,.9 .6,1.5 .7-1 .6,.4 .7,3.9 .7-3.8 .6-.4 .7,1.5 .6-1.1 .7,.5 .6,2.8 .7-3.2 .6,.6 .7-.7 .6,3.4 .7,1.5 .7-4.5 .6,.4 .7,.7 .6,1.3 .7-.7 .6-.1 .7,2.1 .6-.3 .7-.1 .6-.4 .7,2.1 .7,.9 .6-2.8 .7-.3 .6,0 .7,1.2 .6-1 .7,.9 .6,1.6 .7,1.4 .7-1.7 .6-.4 .7,.8 .6,3.3 .7-2.2 .6-3.1 .7,3 .6-.3 .7-1.5 .6,1.5 .7-2.8 .7,.5 .6,3.2 .7,.6 .6-2.4 .7,.5 .6,1.2 .7-1.9 .6,2.1 .7,1.9 .7,3.2 .6,3.8 .7-.3 .6-6.5 .7-3.6 .6,2.3 .7,1.2 .6-2.2 .7,.4 .6,3.7 .7,2.8 .7-.7 .6-4.5 .7,.6 .6,1.6 .7-1.1 .6,.3 .7,4.2 .6,4.5 .7-4.9 .6-2.5 .7,4.6 .7-3 .6-1.5 .7,1 .6-1.6 .7,.8 .6-.8 .7-.8 .6,3.4 .7,.4 .7,0 .6,1.5 .7-1.1 .6-2.3 .7,.3 .6,1.7 .7,.3 .6,1.3 .7,.8 .6-1.2 .7-.5 .7,.8 .6-.7 .7,2.1 .6-1.5 .7-2.7 .6,.9 .7,.3 .6-1 .7,1.2 .7,.4 .6,1.7 .7,.8 .6,1.7 .7,1 .6-2.8 .7-1.4 .6,.9 .7-.3 .6-1.4 .7,1.2 .7,1.2 .6-1.3 .7,1.4 .6,4.3 .7-2 .6,.7 .7-.5 .6-2.5 .7,1.8 .7,.8 .6-2.2 .7,.5 .6,.8 .7-.2 .6,4.9 .7-2.7 .6-1.6 .7,2.2 .6,.5 .7-.2 .7-1.6 .6,1 .7-.7 .6,.5 .7-.3 .6,0 .7-.2 .6-1.6 .7-1.2 .6,.7 .7,1.2 .7,5.2 .6-.6 .7-3.6 .6,.1 .7-.9 .6-.5 .7-.1 .6,1.2 .7-.6 .7,.5 .6,.4 .7-.4 .6,.4 .7,.7 .6-.4 .7-1.7 .6,1 .7,.9 .6,.5 .7-.6 .7-1.2 .6,2.3 .7,1.3 .6-.5 .7-.6 .6-.2 .7,.4 .6-.3 .7,1.3 .7,.4 .6-.6 .7,2.6 .6,.5 .7-2.8 .6,.9 .7,.4 .6,.2 .7,2.2 .6,4.6 .7-4.9 .7-1.6 .6,.5 .7-.7 .6-1.2 .7,1.1 .6,1.3 .7-.7 .6,5 .7-4 .6-1.2 .7,.5 .7,2 .6-.2 .7-1.7 .6,.2 .7,2.1 .6-.5 .7,1 .6,.5 .7,1 .7,.3 .6-.8 .7-1 .6-1.3 .7-2.1 .6,.7 .7,.3 .6,.6v40H417.5Z" stroke-dasharray="389.3 999"/><path d="M417.2,140.3l.7-.1 .6,.9 .7-1.1 .7,1.6 .6-.9 .7-1.1 .6,.8 .7,1.5 .6,.5 .7,.6 .6,2.6 .7-2.4 .7-1.1 .6-1.7 .7,2.3 .6,2 .7-1 .6-.3 .7,2.3 .6-1.6 .7-1.9 .6-1.1 .7-.1 .7,2.2 .6-1.2 .7,1.5 .6,.3 .7-.9 .6,1.8 .7,2.1 .6-1.6 .7-1.8 .7-.3 .6,1.9 .7,.5 .6-.4 .7-.3 .6,1.4 .7,.2 .6,2.7 .7,.3 .7-5.1 .6-.3 .7-2 .6,.3 .7,4.3 .6,4 .7-4.2 .6-.5 .7,.2 .6,.6 .7,.6 .7,1 .6,.2 .7-.8 .6,.8 .7,.7 .6-1.8 .7,1.6 .6,1.9 .7,1 .7-1.3 .6,.2 .7,.2 .6-2.9 .7,0 .6,.6 .7,2.3 .6,1.8 .7,0 .7-.4 .6-2.7 .7-1 .6,1.1 .7,2 .6,.3 .7-1.5 .6,.5 .7-.3 .6-.5 .7,1.4 .7,3.8 .6-1.9 .7-2.2 .6,.7 .7,.3 .6,1.1 .7,2.1 .6-3 .7-2.8 .7,.9 .6,3.1 .7,1.1 .6-.5 .7-2.4 .6,2.6 .7,1.2 .6-.2 .7-1.8 .7,1.7 .6,3.7 .7,.7 .6,.2 .7-1.8 .6-2.5 .7-.4 .6-1.6 .7-2 .6,2.1 .7,1.9 .7-.7 .6-.9 .7,2.8 .6,.4 .7-.2 .6,.7 .7-1.4 .6,2.3 .7,1.9 .7,1.4 .6-3.6 .7-1.3 .6,.5 .7,2 .6-1.3 .7,2.3 .6-1.2 .7,.7 .7-.9 .6,.6 .7,2.3 .6-.7 .7-3.1 .6-.6 .7,2.3 .6-3.4 .7,.6 .7,4.4 .6,2.1 .7-5.3 .6-.1 .7,2.4 .6-.1 .7,0 .6,.6 .7,.4 .6-.1 .7,1.7 .7-.2 .6,2.1 .7,2.3 .6-3.7 .7,.3 .6,.7 .7-2 .6-2 .7,.2 .7,.5 .6,1.2 .7,1.6 .6-2.3 .7,2.1 .6,1 .7-1.9 .6-.2 .7,1.4 .7-.4 .6-.7 .7-.4 .6-.9 .7,3 .6,.9 .7-.5 .6,1.8 .7-1.8 .6-3.5 .7,1.7 .7,2.3 .6,.5 .7-1.8 .6-.9 .7-.7 .6-.1 .7-1.5 .6,.9 .7,1.4 .7-.2 .6,1.6 .7,.1 .6,.4 .7-1.6 .6,1.2 .7,.3 .6-1 .7-2.5 .7,2.5 .6,.8 .7,1.1 .6-.7 .7-.2 .6,4.6 .7-1.1 .6-.8 .7,.1 .6-1.3 .7,2.6 .7,.7 .6-2.2 .7-.1 .6-2.2 .7,1.8 .6,.3 .7,.3 .6-.5 .7-.3 .7,1.9 .6,.2 .7,2.1 .6-1.7 .7-.2 .6,.9 .7,.4 .6,1.4 .7-.3 .7-2.6 .6-.2 .7,.9 .6,.3 .7-.7 .6-1.7 .7,.4 .6,.7 .7-.8 .6,2.9 .7-2 .7-.2 .6,.7 .7-.3v40H417.2Z" stroke-dasharray="374.4 999"/><path d="M417,139.8l.7,.1 .6,.1 .7,.6 .6-.5 .7,0 .6,1.5 .7-.6 .6-.7 .7,.9 .6,.4 .7,.2 .6-1.9 .7-.2 .6,1.2 .7,.5 .6,.2 .7-.8 .6,1.5 .7,2 .7-.2 .6-2 .7-.1 .6,1.2 .7,1.1 .6-1.4 .7-.4 .6,.3 .7-1.5 .6,.1 .7,1.3 .6-.7 .7,1.1 .6,4.9 .7-.3 .6-3.1 .7,.2 .7,1.9 .6,.8 .7-2.3 .6-.8 .7,.1 .6,.3 .7,.6 .6,0 .7,1.2 .6,.8 .7-1.9 .6-1 .7,.9 .6,.8 .7,.5 .6,.3 .7,.3 .6-.3 .7-.6 .7-.2 .6,.9 .7,1.4 .6,2.9 .7-.4 .6-2.1 .7,.4 .6,3.8 .7,1.2 .6-1.9 .7-1.4 .6-.5 .7,3.7 .6-1.2 .7-.9 .6,.1 .7,1.1 .6-.3 .7-.9 .7-1.2 .6,1.3 .7-.3 .6,1.2 .7,3.1 .6-.1 .7-1.5 .6,1.6 .7-.9 .6-3 .7-.3 .6,2.7 .7,3.3 .6,.5 .7-1.3 .6,1.3 .7,1.1 .7-2.3 .6,2 .7,1 .6-5.2 .7,.7 .6,.1 .7-.4 .6,4.6 .7-.7 .6-1.2 .7,.4 .6,1.3 .7-1.8 .6,.6 .7,.9 .6,.7 .7-1.1 .6,.5 .7,2.1 .7-.5 .6-.4 .7-.7 .6-.4 .7,2.4 .6-2 .7-.4 .6,.6 .7,2.3 .6,2.5 .7,4.4 .6-2.4 .7-2.9 .6-1.1 .7-1.7 .6,2 .7,1.1 .6,.5 .7,.3 .7-3 .6-1.3 .7,2.1 .6,2.1 .7,.8 .6-1.4 .7,2.1 .6-.8 .7-.5 .6,1.7 .7-3.4 .6-1 .7,0 .6,1.6 .7-1.3 .6,1.2 .7,1.4 .6,.4 .7,1.2 .7-.7 .6-1.7 .7-.3 .6,0 .7-.1 .6,3.7 .7,3 .6-2.4 .7-2.3 .6-.1 .7-1.6 .6,.2 .7,2.6 .6,.1 .7-2.6 .6,1.1 .7,1.5 .7-.6 .6-1.6 .7-.1 .6,2.2 .7,2 .6-2.7 .7-2.3 .6,1.7 .7,.1 .6,.7 .7-.9 .6,1.9 .7,1.4 .6-.8 .7,0 .6-2.7 .7,1.5 .6,2.7 .7-2.1 .7,.6 .6,1.9 .7,3.3 .6-4.1 .7-2.4 .6,2 .7,1.8 .6-3 .7-1.2 .6,.6 .7,.3 .6,3.6 .7-1.7 .6,.4 .7-2.3 .6-.1 .7,1.8 .6-1.6 .7,2 .7-.7 .6-1.5 .7-.7 .6,.3 .7,1 .6,.7 .7,.6 .6-1.1 .7-.8 .6,.7 .7,.4 .6,1.7 .7-1.2 .6,2.4 .7,.6 .6-2.9 .7-.6 .7,1.4 .6,.8 .7-.8 .6,0 .7-.8 .6,1.3 .7,1.6 .6-.9 .7,1.9 .6-1 .7,0 .6,.6 .7,1.3 .6-2.6 .7,1.6 .6-2 .7,.1 .6-.5 .7,1.6v40H417Z" stroke-dasharray="364.6 999"/></g>
<polyline points="73.30,45.20 76.60,175.20 234.40,204.20 295.60,133.80" fill="none" stroke="#000" stroke-width="2.7" stroke-linejoin="miter"/>
<text x="69.00" y="54.60" font-size="20" text-anchor="end">1.5</text>
<text x="69.00" y="86.50" font-size="20" text-anchor="end">1.0</text>
<text x="69.00" y="119.30" font-size="20" text-anchor="end">0.5</text>
<text x="69.00" y="150.70" font-size="20" text-anchor="end">0</text>
<text x="69.00" y="182.50" font-size="20" text-anchor="end">-0.5</text>
<text font-size="20" text-anchor="middle" transform="translate(84.90 199.90) rotate(-45)" y="6.8">1800</text>
<text font-size="20" text-anchor="middle" transform="translate(121.40 207.40) rotate(-45)" y="6.8">1700</text>
<text font-size="20" text-anchor="middle" transform="translate(157.00 214.80) rotate(-45)" y="6.8">1600</text>
<text font-size="20" text-anchor="middle" transform="translate(195.50 222.60) rotate(-45)" y="6.8">1500</text>
<text x="244.50" y="217.80" font-size="20" text-anchor="middle">0</text>
<text x="260.20" y="201.40" font-size="20" text-anchor="middle">2</text>
<text x="274.80" y="184.60" font-size="20" text-anchor="middle">4</text>
<text x="289.60" y="168.00" font-size="20" text-anchor="middle">6</text>
<text x="304.20" y="151.60" font-size="20" text-anchor="middle">8</text>
<text font-size="20" text-anchor="middle" transform="translate(299.30 192.30) rotate(-47)" y="6.8">Time (hrs)</text>
<text font-size="20" transform="translate(28.30 234.40) rotate(10)">Wavenumber (cm<tspan font-size="12" dy="-7">-1</tspan><tspan dy="7">)</tspan></text>
<text font-size="20" transform="translate(17.60 190.00) rotate(-90)" letter-spacing="0.1">Absorbance / x10<tspan font-size="13" dy="-7.5">-3</tspan></text>
<text x="183.80" y="16.80" font-size="20" text-anchor="middle" font-weight="bold">GlpG</text>
<polyline points="413.30,45.20 416.60,175.20 574.40,204.20 635.60,133.80" fill="none" stroke="#000" stroke-width="2.7" stroke-linejoin="miter"/>
<text x="409.00" y="54.60" font-size="20" text-anchor="end">1.5</text>
<text x="409.00" y="86.50" font-size="20" text-anchor="end">1.0</text>
<text x="409.00" y="119.30" font-size="20" text-anchor="end">0.5</text>
<text x="409.00" y="150.70" font-size="20" text-anchor="end">0</text>
<text x="409.00" y="182.50" font-size="20" text-anchor="end">-0.5</text>
<text font-size="20" text-anchor="middle" transform="translate(424.90 199.90) rotate(-45)" y="6.8">1800</text>
<text font-size="20" text-anchor="middle" transform="translate(461.40 207.40) rotate(-45)" y="6.8">1700</text>
<text font-size="20" text-anchor="middle" transform="translate(497.00 214.80) rotate(-45)" y="6.8">1600</text>
<text font-size="20" text-anchor="middle" transform="translate(535.50 222.60) rotate(-45)" y="6.8">1500</text>
<text x="584.50" y="217.80" font-size="20" text-anchor="middle">0</text>
<text x="600.20" y="201.40" font-size="20" text-anchor="middle">2</text>
<text x="614.80" y="184.60" font-size="20" text-anchor="middle">4</text>
<text x="629.60" y="168.00" font-size="20" text-anchor="middle">6</text>
<text x="644.20" y="151.60" font-size="20" text-anchor="middle">8</text>
<text font-size="20" text-anchor="middle" transform="translate(639.30 192.30) rotate(-47)" y="6.8">Time (hrs)</text>
<text font-size="20" transform="translate(368.30 234.40) rotate(10)">Wavenumber (cm<tspan font-size="12" dy="-7">-1</tspan><tspan dy="7">)</tspan></text>
<text x="521.80" y="16.80" font-size="20" text-anchor="middle" font-weight="bold">DsbB</text>
<rect x="73.50" y="327.30" width="234.70" height="164.80" fill="none" stroke="#000" stroke-width="2.6"/>
<line x1="68.90" y1="489.50" x2="73.50" y2="489.50" stroke="#000" stroke-width="2.4"/>
<line x1="68.90" y1="449.60" x2="73.50" y2="449.60" stroke="#000" stroke-width="2.4"/>
<line x1="68.90" y1="409.70" x2="73.50" y2="409.70" stroke="#000" stroke-width="2.4"/>
<line x1="68.90" y1="369.70" x2="73.50" y2="369.70" stroke="#000" stroke-width="2.4"/>
<line x1="68.90" y1="329.80" x2="73.50" y2="329.80" stroke="#000" stroke-width="2.4"/>
<line x1="75.40" y1="492.10" x2="75.40" y2="496.90" stroke="#000" stroke-width="2.4"/>
<line x1="117.40" y1="492.10" x2="117.40" y2="496.90" stroke="#000" stroke-width="2.4"/>
<line x1="159.40" y1="492.10" x2="159.40" y2="496.90" stroke="#000" stroke-width="2.4"/>
<line x1="201.40" y1="492.10" x2="201.40" y2="496.90" stroke="#000" stroke-width="2.4"/>
<line x1="243.40" y1="492.10" x2="243.40" y2="496.90" stroke="#000" stroke-width="2.4"/>
<line x1="285.40" y1="492.10" x2="285.40" y2="496.90" stroke="#000" stroke-width="2.4"/>
<text x="67.00" y="496.30" font-size="20" text-anchor="end">0</text>
<text x="67.00" y="416.50" font-size="20" text-anchor="end">40</text>
<text x="67.00" y="336.60" font-size="20" text-anchor="end">80</text>
<text x="75.40" y="515.60" font-size="20" text-anchor="middle">0</text>
<text x="159.40" y="515.60" font-size="20" text-anchor="middle">200</text>
<text x="243.40" y="515.60" font-size="20" text-anchor="middle">400</text>
<text x="192.60" y="542.20" font-size="20" text-anchor="middle">Time (min)</text>
<text x="183.80" y="309.20" font-size="20" text-anchor="middle" font-weight="bold">GlpG</text>
<clipPath id="c73"><rect x="74.70" y="328.50" width="232.30" height="162.40"/></clipPath>
<g clip-path="url(#c73)">
<rect x="74.00" y="487.90" width="3" height="3" fill="none" stroke="#8a86c8" stroke-width="0.8" stroke-opacity="0.75"/>
<rect x="74.80" y="487.90" width="3" height="3" fill="none" stroke="#8a86c8" stroke-width="0.8" stroke-opacity="0.75"/>
<rect x="75.60" y="487.90" width="3" height="3" fill="none" stroke="#8a86c8" stroke-width="0.8" stroke-opacity="0.75"/>
<rect x="76.40" y="487.90" width="3" height="3" fill="none" stroke="#8a86c8" stroke-width="0.8" stroke-opacity="0.75"/>
<rect x="77.20" y="487.90" width="3" height="3" fill="none" stroke="#8a86c8" stroke-width="0.8" stroke-opacity="0.75"/>
<rect x="78.00" y="487.90" width="3" height="3" fill="none" stroke="#8a86c8" stroke-width="0.8" stroke-opacity="0.75"/>
<rect x="78.80" y="487.90" width="3" height="3" fill="none" stroke="#8a86c8" stroke-width="0.8" stroke-opacity="0.75"/>
<rect x="79.70" y="487.10" width="3" height="3" fill="none" stroke="#8a86c8" stroke-width="0.8" stroke-opacity="0.75"/>
<rect x="80.05" y="486.30" width="3" height="3" fill="none" stroke="#8a86c8" stroke-width="0.8" stroke-opacity="0.75"/>
<rect x="80.40" y="485.50" width="3" height="3" fill="none" stroke="#8a86c8" stroke-width="0.8" stroke-opacity="0.75"/>
<rect x="80.75" y="484.70" width="3" height="3" fill="none" stroke="#8a86c8" stroke-width="0.8" stroke-opacity="0.75"/>
<rect x="81.10" y="483.90" width="3" height="3" fill="none" stroke="#8a86c8" stroke-width="0.8" stroke-opacity="0.75"/>
<rect x="81.45" y="483.10" width="3" height="3" fill="none" stroke="#8a86c8" stroke-width="0.8" stroke-opacity="0.75"/>
<circle cx="75.00" cy="489.60" r="1.3" fill="#9c5086" fill-opacity="0.75"/>
<circle cx="75.70" cy="489.60" r="1.3" fill="#9c5086" fill-opacity="0.75"/>
<circle cx="76.40" cy="489.60" r="1.3" fill="#9c5086" fill-opacity="0.75"/>
<circle cx="77.10" cy="489.60" r="1.3" fill="#9c5086" fill-opacity="0.75"/>
<circle cx="77.80" cy="489.60" r="1.3" fill="#9c5086" fill-opacity="0.75"/>
<circle cx="78.50" cy="489.60" r="1.3" fill="#9c5086" fill-opacity="0.75"/>
<circle cx="79.20" cy="489.60" r="1.3" fill="#9c5086" fill-opacity="0.75"/>
<circle cx="79.90" cy="489.60" r="1.3" fill="#9c5086" fill-opacity="0.75"/>
<circle cx="80.60" cy="489.60" r="1.3" fill="#9c5086" fill-opacity="0.75"/>
<circle cx="81.00" cy="489.00" r="1.3" fill="#9c5086" fill-opacity="0.75"/>
<circle cx="81.30" cy="488.10" r="1.3" fill="#9c5086" fill-opacity="0.75"/>
<circle cx="81.60" cy="487.20" r="1.3" fill="#9c5086" fill-opacity="0.75"/>
<circle cx="81.90" cy="486.30" r="1.3" fill="#9c5086" fill-opacity="0.75"/>
<circle cx="82.20" cy="485.40" r="1.3" fill="#9c5086" fill-opacity="0.75"/>
<circle cx="82.50" cy="484.50" r="1.3" fill="#9c5086" fill-opacity="0.75"/>
<circle cx="82.80" cy="483.60" r="1.3" fill="#9c5086" fill-opacity="0.75"/>
<circle cx="83.10" cy="482.70" r="1.3" fill="#9c5086" fill-opacity="0.75"/>
<circle cx="83.40" cy="481.80" r="1.3" fill="#9c5086" fill-opacity="0.75"/>
<rect x="84.40" y="484.00" width="3.2" height="3.2" fill="none" stroke="#a9afdb" stroke-width="0.65"/>
<rect x="86.30" y="480.80" width="3.2" height="3.2" fill="none" stroke="#a9afdb" stroke-width="0.65"/>
<rect x="88.40" y="478.50" width="3.2" height="3.2" fill="none" stroke="#a9afdb" stroke-width="0.65"/>
<rect x="90.30" y="476.40" width="3.2" height="3.2" fill="none" stroke="#a9afdb" stroke-width="0.65"/>
<rect x="92.50" y="472.30" width="3.2" height="3.2" fill="none" stroke="#a9afdb" stroke-width="0.65"/>
<rect x="95.00" y="466.80" width="3.2" height="3.2" fill="none" stroke="#a9afdb" stroke-width="0.65"/>
<rect x="97.40" y="463.50" width="3.2" height="3.2" fill="none" stroke="#a9afdb" stroke-width="0.65"/>
<rect x="99.50" y="460.20" width="3.2" height="3.2" fill="none" stroke="#a9afdb" stroke-width="0.65"/>
<rect x="101.20" y="459.70" width="3.2" height="3.2" fill="none" stroke="#a9afdb" stroke-width="0.65"/>
<rect x="103.20" y="458.10" width="3.2" height="3.2" fill="none" stroke="#a9afdb" stroke-width="0.65"/>
<rect x="104.80" y="454.80" width="3.2" height="3.2" fill="none" stroke="#a9afdb" stroke-width="0.65"/>
<rect x="106.80" y="450.70" width="3.2" height="3.2" fill="none" stroke="#a9afdb" stroke-width="0.65"/>
<rect x="108.90" y="449.90" width="3.2" height="3.2" fill="none" stroke="#a9afdb" stroke-width="0.65"/>
<rect x="111.40" y="447.40" width="3.2" height="3.2" fill="none" stroke="#a9afdb" stroke-width="0.65"/>
<rect x="112.20" y="444.10" width="3.2" height="3.2" fill="none" stroke="#a9afdb" stroke-width="0.65"/>
<rect x="115.90" y="442.20" width="3.2" height="3.2" fill="none" stroke="#a9afdb" stroke-width="0.65"/>
<rect x="120.40" y="438.40" width="3.2" height="3.2" fill="none" stroke="#a9afdb" stroke-width="0.65"/>
<rect x="124.50" y="434.00" width="3.2" height="3.2" fill="none" stroke="#a9afdb" stroke-width="0.65"/>
<rect x="128.60" y="430.20" width="3.2" height="3.2" fill="none" stroke="#a9afdb" stroke-width="0.65"/>
<rect x="132.70" y="427.70" width="3.2" height="3.2" fill="none" stroke="#a9afdb" stroke-width="0.65"/>
<rect x="136.80" y="422.00" width="3.2" height="3.2" fill="none" stroke="#a9afdb" stroke-width="0.65"/>
<rect x="140.90" y="419.90" width="3.2" height="3.2" fill="none" stroke="#a9afdb" stroke-width="0.65"/>
<rect x="145.00" y="416.30" width="3.2" height="3.2" fill="none" stroke="#a9afdb" stroke-width="0.65"/>
<rect x="149.40" y="413.80" width="3.2" height="3.2" fill="none" stroke="#a9afdb" stroke-width="0.65"/>
<rect x="153.50" y="409.70" width="3.2" height="3.2" fill="none" stroke="#a9afdb" stroke-width="0.65"/>
<rect x="157.60" y="412.20" width="3.2" height="3.2" fill="none" stroke="#a9afdb" stroke-width="0.65"/>
<rect x="161.80" y="406.40" width="3.2" height="3.2" fill="none" stroke="#a9afdb" stroke-width="0.65"/>
<rect x="165.80" y="402.00" width="3.2" height="3.2" fill="none" stroke="#a9afdb" stroke-width="0.65"/>
<rect x="170.40" y="402.00" width="3.2" height="3.2" fill="none" stroke="#a9afdb" stroke-width="0.65"/>
<rect x="170.40" y="404.50" width="3.2" height="3.2" fill="none" stroke="#a9afdb" stroke-width="0.65"/>
<rect x="183.10" y="395.80" width="3.2" height="3.2" fill="none" stroke="#a9afdb" stroke-width="0.65"/>
<rect x="195.30" y="387.70" width="3.2" height="3.2" fill="none" stroke="#a9afdb" stroke-width="0.65"/>
<rect x="208.00" y="386.00" width="3.2" height="3.2" fill="none" stroke="#a9afdb" stroke-width="0.65"/>
<rect x="220.40" y="384.00" width="3.2" height="3.2" fill="none" stroke="#a9afdb" stroke-width="0.65"/>
<rect x="232.90" y="381.80" width="3.2" height="3.2" fill="none" stroke="#a9afdb" stroke-width="0.65"/>
<rect x="245.90" y="384.00" width="3.2" height="3.2" fill="none" stroke="#a9afdb" stroke-width="0.65"/>
<rect x="258.40" y="384.00" width="3.2" height="3.2" fill="none" stroke="#a9afdb" stroke-width="0.65"/>
<rect x="270.80" y="378.20" width="3.2" height="3.2" fill="none" stroke="#a9afdb" stroke-width="0.65"/>
<rect x="283.30" y="384.00" width="3.2" height="3.2" fill="none" stroke="#a9afdb" stroke-width="0.65"/>
<rect x="295.80" y="384.00" width="3.2" height="3.2" fill="none" stroke="#a9afdb" stroke-width="0.65"/>
<circle cx="83.70" cy="481.60" r="1.55" fill="#d5492f"/>
<circle cx="85.70" cy="476.00" r="1.55" fill="#d5492f"/>
<circle cx="87.70" cy="470.00" r="1.55" fill="#d5492f"/>
<circle cx="89.70" cy="465.80" r="1.55" fill="#d5492f"/>
<circle cx="92.00" cy="459.80" r="1.55" fill="#d5492f"/>
<circle cx="94.10" cy="453.90" r="1.55" fill="#d5492f"/>
<circle cx="96.30" cy="449.40" r="1.55" fill="#d5492f"/>
<circle cx="98.20" cy="443.80" r="1.55" fill="#d5492f"/>
<circle cx="100.70" cy="439.40" r="1.55" fill="#d5492f"/>
<circle cx="102.40" cy="437.70" r="1.55" fill="#d5492f"/>
<circle cx="104.70" cy="431.20" r="1.55" fill="#d5492f"/>
<circle cx="106.40" cy="429.40" r="1.55" fill="#d5492f"/>
<circle cx="108.70" cy="423.60" r="1.55" fill="#d5492f"/>
<circle cx="110.50" cy="423.60" r="1.55" fill="#d5492f"/>
<circle cx="112.70" cy="419.60" r="1.55" fill="#d5492f"/>
<circle cx="113.10" cy="417.60" r="1.55" fill="#d5492f"/>
<circle cx="117.60" cy="413.60" r="1.55" fill="#d5492f"/>
<circle cx="121.80" cy="407.50" r="1.55" fill="#d5492f"/>
<circle cx="125.60" cy="403.40" r="1.55" fill="#d5492f"/>
<circle cx="130.00" cy="397.40" r="1.55" fill="#d5492f"/>
<circle cx="134.00" cy="395.20" r="1.55" fill="#d5492f"/>
<circle cx="138.20" cy="389.60" r="1.55" fill="#d5492f"/>
<circle cx="142.20" cy="385.20" r="1.55" fill="#d5492f"/>
<circle cx="146.60" cy="383.40" r="1.55" fill="#d5492f"/>
<circle cx="150.60" cy="377.90" r="1.55" fill="#d5492f"/>
<circle cx="154.60" cy="373.70" r="1.55" fill="#d5492f"/>
<circle cx="159.20" cy="371.50" r="1.55" fill="#d5492f"/>
<circle cx="163.40" cy="369.20" r="1.55" fill="#d5492f"/>
<circle cx="167.70" cy="365.20" r="1.55" fill="#d5492f"/>
<circle cx="172.30" cy="361.50" r="1.55" fill="#d5492f"/>
<circle cx="184.70" cy="353.30" r="1.55" fill="#d5492f"/>
<circle cx="197.00" cy="347.30" r="1.55" fill="#d5492f"/>
<circle cx="209.60" cy="341.30" r="1.55" fill="#d5492f"/>
<circle cx="222.20" cy="337.30" r="1.55" fill="#d5492f"/>
<circle cx="234.60" cy="333.30" r="1.55" fill="#d5492f"/>
<circle cx="247.40" cy="331.30" r="1.55" fill="#d5492f"/>
<circle cx="260.10" cy="333.30" r="1.55" fill="#d5492f"/>
<circle cx="272.50" cy="329.10" r="1.55" fill="#d5492f"/>
<circle cx="284.90" cy="333.30" r="1.55" fill="#d5492f"/>
<circle cx="297.60" cy="333.30" r="1.55" fill="#d5492f"/>
</g>
<text x="92.00" y="354.60" font-size="20" text-anchor="start">amide I</text>
<text x="216.50" y="447.60" font-size="20" text-anchor="start">amide II</text>
<circle cx="124.10" cy="363.10" r="4.6" fill="#000"/>
<line x1="124.10" y1="363.10" x2="124.10" y2="386.50" stroke="#000" stroke-width="2.3"/>
<path d="M124.10,393.50 L118.60,383.00 L124.10,386.80 L129.60,383.00 Z" fill="#000"/>
<circle cx="237.30" cy="421.10" r="4.6" fill="#000"/>
<line x1="237.30" y1="421.10" x2="208.83" y2="402.18" stroke="#000" stroke-width="2.3"/>
<path d="M203.00,398.30 L214.79,399.53 L208.58,402.01 L208.70,408.69 Z" fill="#000"/>
<rect x="405.00" y="327.60" width="236.80" height="165.80" fill="none" stroke="#000" stroke-width="2.6"/>
<line x1="400.40" y1="492.90" x2="405.00" y2="492.90" stroke="#000" stroke-width="2.4"/>
<line x1="400.40" y1="448.60" x2="405.00" y2="448.60" stroke="#000" stroke-width="2.4"/>
<line x1="400.40" y1="404.20" x2="405.00" y2="404.20" stroke="#000" stroke-width="2.4"/>
<line x1="400.40" y1="359.80" x2="405.00" y2="359.80" stroke="#000" stroke-width="2.4"/>
<line x1="407.20" y1="493.40" x2="407.20" y2="498.20" stroke="#000" stroke-width="2.4"/>
<line x1="453.60" y1="493.40" x2="453.60" y2="498.20" stroke="#000" stroke-width="2.4"/>
<line x1="500.00" y1="493.40" x2="500.00" y2="498.20" stroke="#000" stroke-width="2.4"/>
<line x1="546.40" y1="493.40" x2="546.40" y2="498.20" stroke="#000" stroke-width="2.4"/>
<line x1="592.80" y1="493.40" x2="592.80" y2="498.20" stroke="#000" stroke-width="2.4"/>
<line x1="639.20" y1="493.40" x2="639.20" y2="498.20" stroke="#000" stroke-width="2.4"/>
<text x="398.50" y="498.20" font-size="20" text-anchor="end">0</text>
<text x="398.50" y="455.40" font-size="20" text-anchor="end">20</text>
<text x="398.50" y="411.00" font-size="20" text-anchor="end">40</text>
<text x="398.50" y="366.60" font-size="20" text-anchor="end">60</text>
<text x="407.20" y="515.60" font-size="20" text-anchor="middle">0</text>
<text x="500.00" y="515.60" font-size="20" text-anchor="middle">200</text>
<text x="592.80" y="515.60" font-size="20" text-anchor="middle">400</text>
<text x="529.00" y="542.20" font-size="20" text-anchor="middle">Time (min)</text>
<text x="521.80" y="309.20" font-size="20" text-anchor="middle" font-weight="bold">DsbB</text>
<clipPath id="c405"><rect x="406.20" y="328.80" width="234.40" height="163.40"/></clipPath>
<g clip-path="url(#c405)">
<rect x="407.70" y="483.10" width="3" height="3" fill="none" stroke="#8a86c8" stroke-width="0.8" stroke-opacity="0.75"/>
<rect x="408.30" y="482.00" width="3" height="3" fill="none" stroke="#8a86c8" stroke-width="0.8" stroke-opacity="0.75"/>
<rect x="408.90" y="480.90" width="3" height="3" fill="none" stroke="#8a86c8" stroke-width="0.8" stroke-opacity="0.75"/>
<rect x="409.50" y="479.80" width="3" height="3" fill="none" stroke="#8a86c8" stroke-width="0.8" stroke-opacity="0.75"/>
<rect x="410.10" y="478.70" width="3" height="3" fill="none" stroke="#8a86c8" stroke-width="0.8" stroke-opacity="0.75"/>
<rect x="410.70" y="477.60" width="3" height="3" fill="none" stroke="#8a86c8" stroke-width="0.8" stroke-opacity="0.75"/>
<rect x="411.30" y="476.50" width="3" height="3" fill="none" stroke="#8a86c8" stroke-width="0.8" stroke-opacity="0.75"/>
<rect x="411.90" y="475.40" width="3" height="3" fill="none" stroke="#8a86c8" stroke-width="0.8" stroke-opacity="0.75"/>
<rect x="412.50" y="474.30" width="3" height="3" fill="none" stroke="#8a86c8" stroke-width="0.8" stroke-opacity="0.75"/>
<rect x="413.10" y="473.20" width="3" height="3" fill="none" stroke="#8a86c8" stroke-width="0.8" stroke-opacity="0.75"/>
<rect x="413.70" y="472.10" width="3" height="3" fill="none" stroke="#8a86c8" stroke-width="0.8" stroke-opacity="0.75"/>
<rect x="414.30" y="471.00" width="3" height="3" fill="none" stroke="#8a86c8" stroke-width="0.8" stroke-opacity="0.75"/>
<circle cx="409.20" cy="479.60" r="1.3" fill="#9c5086" fill-opacity="0.75"/>
<circle cx="409.20" cy="480.10" r="1.3" fill="#9c5086" fill-opacity="0.75"/>
<circle cx="409.50" cy="479.60" r="1.3" fill="#9c5086" fill-opacity="0.75"/>
<circle cx="410.05" cy="478.50" r="1.3" fill="#9c5086" fill-opacity="0.75"/>
<circle cx="410.60" cy="477.40" r="1.3" fill="#9c5086" fill-opacity="0.75"/>
<circle cx="411.15" cy="476.30" r="1.3" fill="#9c5086" fill-opacity="0.75"/>
<circle cx="411.70" cy="475.20" r="1.3" fill="#9c5086" fill-opacity="0.75"/>
<circle cx="412.25" cy="474.10" r="1.3" fill="#9c5086" fill-opacity="0.75"/>
<circle cx="412.80" cy="473.00" r="1.3" fill="#9c5086" fill-opacity="0.75"/>
<circle cx="413.35" cy="471.90" r="1.3" fill="#9c5086" fill-opacity="0.75"/>
<circle cx="413.90" cy="470.80" r="1.3" fill="#9c5086" fill-opacity="0.75"/>
<circle cx="414.45" cy="469.70" r="1.3" fill="#9c5086" fill-opacity="0.75"/>
<circle cx="415.00" cy="468.60" r="1.3" fill="#9c5086" fill-opacity="0.75"/>
<rect x="417.90" y="469.50" width="3.2" height="3.2" fill="none" stroke="#a9afdb" stroke-width="0.65"/>
<rect x="421.00" y="469.50" width="3.2" height="3.2" fill="none" stroke="#a9afdb" stroke-width="0.65"/>
<rect x="423.50" y="465.00" width="3.2" height="3.2" fill="none" stroke="#a9afdb" stroke-width="0.65"/>
<rect x="425.30" y="460.30" width="3.2" height="3.2" fill="none" stroke="#a9afdb" stroke-width="0.65"/>
<rect x="427.50" y="457.60" width="3.2" height="3.2" fill="none" stroke="#a9afdb" stroke-width="0.65"/>
<rect x="430.50" y="460.30" width="3.2" height="3.2" fill="none" stroke="#a9afdb" stroke-width="0.65"/>
<rect x="432.50" y="455.90" width="3.2" height="3.2" fill="none" stroke="#a9afdb" stroke-width="0.65"/>
<rect x="435.00" y="453.40" width="3.2" height="3.2" fill="none" stroke="#a9afdb" stroke-width="0.65"/>
<rect x="437.00" y="450.90" width="3.2" height="3.2" fill="none" stroke="#a9afdb" stroke-width="0.65"/>
<rect x="439.40" y="455.70" width="3.2" height="3.2" fill="none" stroke="#a9afdb" stroke-width="0.65"/>
<rect x="442.20" y="452.10" width="3.2" height="3.2" fill="none" stroke="#a9afdb" stroke-width="0.65"/>
<rect x="444.50" y="450.80" width="3.2" height="3.2" fill="none" stroke="#a9afdb" stroke-width="0.65"/>
<rect x="446.70" y="449.00" width="3.2" height="3.2" fill="none" stroke="#a9afdb" stroke-width="0.65"/>
<rect x="451.80" y="453.00" width="3.2" height="3.2" fill="none" stroke="#a9afdb" stroke-width="0.65"/>
<rect x="456.20" y="444.80" width="3.2" height="3.2" fill="none" stroke="#a9afdb" stroke-width="0.65"/>
<rect x="460.60" y="436.20" width="3.2" height="3.2" fill="none" stroke="#a9afdb" stroke-width="0.65"/>
<rect x="465.20" y="436.20" width="3.2" height="3.2" fill="none" stroke="#a9afdb" stroke-width="0.65"/>
<rect x="470.10" y="431.60" width="3.2" height="3.2" fill="none" stroke="#a9afdb" stroke-width="0.65"/>
<rect x="474.50" y="429.40" width="3.2" height="3.2" fill="none" stroke="#a9afdb" stroke-width="0.65"/>
<rect x="479.50" y="425.10" width="3.2" height="3.2" fill="none" stroke="#a9afdb" stroke-width="0.65"/>
<rect x="483.90" y="420.50" width="3.2" height="3.2" fill="none" stroke="#a9afdb" stroke-width="0.65"/>
<rect x="488.70" y="418.50" width="3.2" height="3.2" fill="none" stroke="#a9afdb" stroke-width="0.65"/>
<rect x="493.50" y="416.30" width="3.2" height="3.2" fill="none" stroke="#a9afdb" stroke-width="0.65"/>
<rect x="497.90" y="412.00" width="3.2" height="3.2" fill="none" stroke="#a9afdb" stroke-width="0.65"/>
<rect x="502.40" y="412.00" width="3.2" height="3.2" fill="none" stroke="#a9afdb" stroke-width="0.65"/>
<rect x="507.30" y="406.90" width="3.2" height="3.2" fill="none" stroke="#a9afdb" stroke-width="0.65"/>
<rect x="512.10" y="404.70" width="3.2" height="3.2" fill="none" stroke="#a9afdb" stroke-width="0.65"/>
<rect x="512.70" y="402.10" width="3.2" height="3.2" fill="none" stroke="#a9afdb" stroke-width="0.65"/>
<rect x="525.80" y="398.60" width="3.2" height="3.2" fill="none" stroke="#a9afdb" stroke-width="0.65"/>
<rect x="540.00" y="392.10" width="3.2" height="3.2" fill="none" stroke="#a9afdb" stroke-width="0.65"/>
<rect x="554.20" y="389.40" width="3.2" height="3.2" fill="none" stroke="#a9afdb" stroke-width="0.65"/>
<rect x="568.60" y="383.30" width="3.2" height="3.2" fill="none" stroke="#a9afdb" stroke-width="0.65"/>
<rect x="582.60" y="374.60" width="3.2" height="3.2" fill="none" stroke="#a9afdb" stroke-width="0.65"/>
<rect x="596.30" y="374.60" width="3.2" height="3.2" fill="none" stroke="#a9afdb" stroke-width="0.65"/>
<rect x="610.10" y="372.00" width="3.2" height="3.2" fill="none" stroke="#a9afdb" stroke-width="0.65"/>
<rect x="624.10" y="369.80" width="3.2" height="3.2" fill="none" stroke="#a9afdb" stroke-width="0.65"/>
<rect x="637.90" y="361.50" width="3.2" height="3.2" fill="none" stroke="#a9afdb" stroke-width="0.65"/>
<circle cx="409.80" cy="490.60" r="1.55" fill="#d5492f"/>
<circle cx="415.50" cy="468.10" r="1.55" fill="#d5492f"/>
<circle cx="417.50" cy="461.90" r="1.55" fill="#d5492f"/>
<circle cx="420.00" cy="453.00" r="1.55" fill="#d5492f"/>
<circle cx="422.60" cy="444.20" r="1.55" fill="#d5492f"/>
<circle cx="425.60" cy="448.80" r="1.55" fill="#d5492f"/>
<circle cx="426.90" cy="448.80" r="1.55" fill="#d5492f"/>
<circle cx="429.40" cy="435.50" r="1.55" fill="#d5492f"/>
<circle cx="431.60" cy="439.70" r="1.55" fill="#d5492f"/>
<circle cx="433.80" cy="428.70" r="1.55" fill="#d5492f"/>
<circle cx="436.50" cy="428.70" r="1.55" fill="#d5492f"/>
<circle cx="441.60" cy="420.00" r="1.55" fill="#d5492f"/>
<circle cx="445.60" cy="422.00" r="1.55" fill="#d5492f"/>
<circle cx="448.70" cy="413.60" r="1.55" fill="#d5492f"/>
<circle cx="453.10" cy="415.70" r="1.55" fill="#d5492f"/>
<circle cx="457.50" cy="409.20" r="1.55" fill="#d5492f"/>
<circle cx="462.30" cy="404.20" r="1.55" fill="#d5492f"/>
<circle cx="466.90" cy="400.40" r="1.55" fill="#d5492f"/>
<circle cx="471.70" cy="396.10" r="1.55" fill="#d5492f"/>
<circle cx="476.10" cy="393.20" r="1.55" fill="#d5492f"/>
<circle cx="481.10" cy="389.50" r="1.55" fill="#d5492f"/>
<circle cx="485.50" cy="384.90" r="1.55" fill="#d5492f"/>
<circle cx="490.30" cy="380.50" r="1.55" fill="#d5492f"/>
<circle cx="495.10" cy="378.10" r="1.55" fill="#d5492f"/>
<circle cx="499.50" cy="378.10" r="1.55" fill="#d5492f"/>
<circle cx="504.00" cy="367.00" r="1.55" fill="#d5492f"/>
<circle cx="508.90" cy="367.00" r="1.55" fill="#d5492f"/>
<circle cx="513.70" cy="364.80" r="1.55" fill="#d5492f"/>
<circle cx="514.30" cy="360.40" r="1.55" fill="#d5492f"/>
<circle cx="527.40" cy="356.10" r="1.55" fill="#d5492f"/>
<circle cx="541.60" cy="349.10" r="1.55" fill="#d5492f"/>
<circle cx="555.80" cy="342.50" r="1.55" fill="#d5492f"/>
<circle cx="570.20" cy="336.00" r="1.55" fill="#d5492f"/>
<circle cx="584.20" cy="329.40" r="1.55" fill="#d5492f"/>
<circle cx="597.90" cy="338.10" r="1.55" fill="#d5492f"/>
<circle cx="611.70" cy="347.30" r="1.55" fill="#d5492f"/>
<circle cx="625.70" cy="356.10" r="1.55" fill="#d5492f"/>
<circle cx="639.50" cy="360.40" r="1.55" fill="#d5492f"/>
</g>
<text x="430.50" y="359.10" font-size="20" text-anchor="start">amide I</text>
<text x="554.00" y="448.60" font-size="20" text-anchor="start">amide II</text>
<circle cx="462.60" cy="368.10" r="4.6" fill="#000"/>
<line x1="462.60" y1="368.10" x2="462.60" y2="390.20" stroke="#000" stroke-width="2.3"/>
<path d="M462.60,397.20 L457.10,386.70 L462.60,390.50 L468.10,386.70 Z" fill="#000"/>
<circle cx="582.60" cy="421.00" r="4.6" fill="#000"/>
<line x1="582.60" y1="421.00" x2="554.52" y2="402.19" stroke="#000" stroke-width="2.3"/>
<path d="M548.70,398.30 L560.48,399.57 L554.27,402.03 L554.36,408.71 Z" fill="#000"/>
<line x1="400.40" y1="470.70" x2="405.00" y2="470.70" stroke="#000" stroke-width="2.4"/>
<line x1="400.40" y1="426.40" x2="405.00" y2="426.40" stroke="#000" stroke-width="2.4"/>
<line x1="400.40" y1="382.00" x2="405.00" y2="382.00" stroke="#000" stroke-width="2.4"/>
<line x1="400.40" y1="337.70" x2="405.00" y2="337.70" stroke="#000" stroke-width="2.4"/>
<text font-size="20" transform="translate(21.8 468.0) rotate(-90)" letter-spacing="0.35">∫ A(ν) / x10<tspan font-size="13" dy="-7.5">-3</tspan></text>
<g fill="none" stroke="#777" stroke-width="0.8" stroke-linecap="round"><path d="M275.1,113 L273.3,117.5 L271.8,121.2"/><path d="M277.8,117.2 L276.4,120.5 L275.2,123.2"/><path d="M281.4,119 L280.2,121 L279.2,122.6"/><path d="M285.6,119.3 L284.3,121.5 L283.1,123.5"/><path d="M285.2,127.2 L287.2,128.6 L286.8,130 L289.5,131.2 L291.6,133.2"/><path d="M612.8,103.5 L614.5,99 L616,102 L618,96.5 L619.5,100 L622.5,94.2"/><path d="M622.8,104.8 L624.8,109.6 L626.8,105.2"/><path d="M626,111.2 L627.6,113.2 L630,113.8"/><path d="M629.2,118 L629.8,124.8 L632.6,125.4"/></g>
</svg></body></html>
